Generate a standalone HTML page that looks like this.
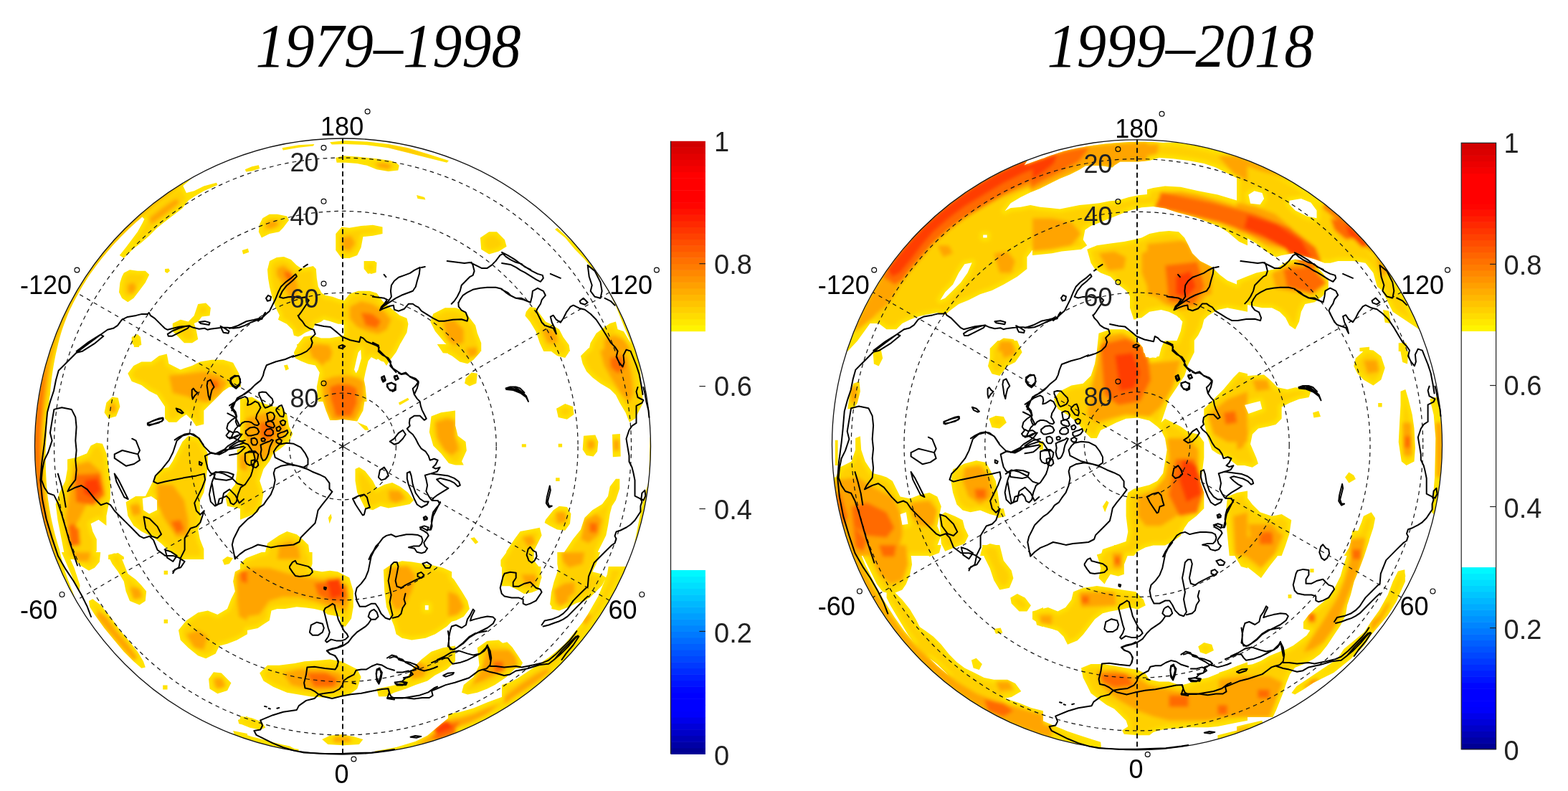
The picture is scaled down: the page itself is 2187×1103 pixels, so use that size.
<!DOCTYPE html><html><head><meta charset="utf-8"><style>html,body{margin:0;padding:0;background:#fff;}svg{display:block;}text{font-family:"Liberation Sans",Arial,sans-serif;}</style></head><body>
<svg width="2187" height="1103" viewBox="0 0 2187 1103">
<rect width="100%" height="100%" fill="#fff"/>
<text x="356.5" y="93" font-size="86" font-style="italic" textLength="370" lengthAdjust="spacingAndGlyphs" style="font-family:'Liberation Serif',serif">1979–1998</text>
<text x="1460.5" y="93" font-size="86" font-style="italic" textLength="372" lengthAdjust="spacingAndGlyphs" style="font-family:'Liberation Serif',serif">1999–2018</text>
<defs><filter id="bl" x="-5%" y="-5%" width="110%" height="110%"><feGaussianBlur stdDeviation="2.5"/></filter>
<clipPath id="clipL"><path d="M166.8,355.9 172.8,360.0 186.4,346.4 197.3,338.2 208.2,328.7 219.1,317.8 232.7,307.0 243.5,298.8 254.4,290.6 262.6,279.8 270.7,274.3 284.3,266.2 303.4,258.0 302.0,254.7 284.3,259.4 270.7,266.2 259.9,268.9 255.3,259.2 255.3,259.1 258.2,256.6 261.0,254.2 263.9,251.7 266.8,249.3 268.4,248.0 266.4,249.1 261.9,251.7 257.3,254.4 252.8,257.1 248.4,259.9 243.9,262.7 239.5,265.6 235.2,268.6 230.9,271.6 226.6,274.7 222.3,277.8 218.1,280.9 213.9,284.1 209.8,287.4 205.7,290.7 201.7,294.1 197.7,297.5 193.7,301.0 189.8,304.5 185.9,308.0 182.0,311.7 178.3,315.3 174.5,319.0 170.8,322.8 167.2,326.5 163.5,330.4 160.0,334.3 156.5,338.2 153.0,342.2 149.6,346.2 146.2,350.2 142.9,354.3 139.6,358.4 136.4,362.6 133.3,366.8 130.2,371.1 127.1,375.4 124.1,379.7 121.1,384.0 118.2,388.4 115.4,392.9 112.6,397.3 109.9,401.8 107.2,406.4 104.6,410.9 102.0,415.5 99.5,420.2 97.0,424.8 94.6,429.5 92.3,434.2 90.0,439.0 87.8,443.8 85.6,448.6 83.5,453.4 81.5,458.3 79.5,463.1 77.6,468.0 75.7,473.0 73.9,477.9 72.1,482.9 70.5,487.9 68.8,492.9 67.3,497.9 65.8,503.0 64.3,508.0 63.0,513.1 61.7,518.2 60.4,523.3 59.2,528.5 58.1,533.6 57.0,538.8 56.1,543.9 55.1,549.1 54.3,554.3 53.4,559.5 52.7,564.7 52.0,570.0 51.4,575.2 50.9,580.4 50.4,585.7 50.0,590.9 49.6,596.2 49.3,601.4 49.1,606.7 48.9,612.0 48.8,617.2 48.8,622.5 48.8,627.8 48.9,633.0 49.1,638.3 49.3,643.6 49.6,648.8 50.0,654.1 50.4,659.3 50.9,664.6 51.4,669.8 52.0,675.0 52.7,680.3 53.4,685.5 54.3,690.7 55.1,695.9 56.1,701.1 57.0,706.2 58.1,711.4 59.2,716.5 60.4,721.7 61.7,726.8 63.0,731.9 64.3,737.0 65.8,742.0 67.3,747.1 68.8,752.1 70.5,757.1 72.1,762.1 73.9,767.1 75.7,772.0 77.6,777.0 79.5,781.9 81.5,786.7 83.5,791.6 85.6,796.4 87.8,801.2 90.0,806.0 92.3,810.8 94.6,815.5 97.0,820.2 99.5,824.8 102.0,829.5 104.6,834.1 105.2,835.1 104.6,833.7 103.2,830.2 101.9,826.7 100.5,823.2 99.1,819.7 97.8,816.2 96.4,812.7 95.1,809.2 93.8,805.7 92.6,802.2 91.4,798.7 90.2,795.2 89.2,791.6 88.2,788.0 87.2,784.4 86.3,780.8 85.4,777.2 84.5,773.6 83.7,769.9 82.9,766.3 81.8,762.8 80.7,759.3 79.7,755.8 78.7,752.3 77.7,748.7 76.7,745.2 75.8,741.6 74.9,738.1 74.1,734.5 73.3,730.9 72.5,727.4 71.7,723.8 71.0,720.2 70.3,716.6 69.7,713.0 69.0,709.4 68.4,705.8 67.9,702.2 67.3,698.6 66.8,695.0 66.4,691.4 66.0,687.7 65.7,684.1 65.4,680.5 65.1,676.9 64.8,673.2 64.6,669.6 64.4,666.0 64.2,662.3 64.1,658.7 63.9,655.1 63.8,651.5 63.7,647.8 63.6,644.2 63.6,640.6 63.6,637.0 63.6,633.4 63.7,629.7 63.8,626.1 63.9,622.5 64.1,618.9 64.3,615.3 64.5,611.7 64.8,608.1 64.8,604.5 64.9,600.9 65.1,597.2 65.3,593.6 65.5,590.0 65.7,586.4 66.0,582.8 66.3,579.2 66.6,575.6 67.0,572.0 67.4,568.4 67.8,564.8 68.2,561.3 68.7,557.7 69.2,554.1 69.8,550.5 70.1,546.9 70.4,543.3 70.7,539.6 71.1,536.0 71.5,532.4 71.9,528.8 72.4,525.1 72.9,521.5 73.4,517.9 74.0,514.2 74.6,510.6 75.2,507.0 75.9,503.4 76.6,499.8 77.3,496.2 78.1,492.6 78.9,489.0 79.7,485.4 80.6,481.8 81.4,478.2 82.4,474.6 83.3,471.0 84.3,467.4 85.3,463.9 86.5,460.3 87.7,456.8 88.9,453.3 90.2,449.8 91.5,446.4 92.8,442.9 94.2,439.4 95.6,436.0 97.1,432.6 98.8,429.3 100.4,425.9 102.1,422.6 103.8,419.3 105.5,416.0 107.3,412.8 109.1,409.5 110.9,406.3 112.7,403.0 114.6,399.8 116.5,396.6 118.5,393.4 120.4,390.3 122.4,387.1 124.4,384.0 126.5,381.0 128.7,377.9 130.9,374.9 133.1,371.9 135.3,368.9 137.6,366.0 139.9,363.0 142.2,360.1 144.5,357.2 146.9,354.4 149.3,351.5 151.7,348.7 154.1,345.9 156.6,343.1 159.1,340.3 161.6,337.6 164.2,334.9 166.7,332.2 169.3,329.6 171.9,326.9 174.6,324.3 177.2,321.7 179.9,319.1 182.6,316.6 185.3,314.1 188.1,311.6 190.8,309.1 193.6,306.7 196.4,304.2 198.3,302.5 201.4,305.6 198.7,311.0 191.9,323.3 183.7,334.2 175.6,345.0ZM237.0,377.7 235.4,374.4 230.0,375.0 230.0,379.0 233.2,380.9ZM202.8,394.0 208.2,383.1 202.8,377.7 191.9,377.7 181.0,376.3 172.8,380.4 170.1,385.8 167.4,394.0 166.0,407.6 170.1,415.7 178.3,421.2 186.4,415.7 194.6,404.9ZM268.0,478.3 276.2,472.9 273.5,459.3 270.7,451.1 276.2,448.4 281.6,441.6 292.5,440.2 293.9,429.3 287.1,422.5 276.2,423.9 273.5,432.1 270.7,440.2 262.6,448.4 251.7,445.7 240.8,451.1 240.8,462.0 249.0,470.1 257.1,478.3ZM187.0,484.1 194.0,484.1 194.3,482.0 197.3,481.0 196.0,470.1 191.9,466.1 183.7,470.1 183.7,478.3 186.6,481.2ZM251.7,583.4 259.9,577.9 268.0,586.1 273.5,594.2 284.3,591.5 284.3,572.5 289.8,567.0 300.7,556.2 311.5,545.3 319.7,539.8 336.0,539.8 333.3,520.8 325.1,505.8 311.5,501.8 295.2,501.8 278.9,504.5 268.0,509.9 251.7,515.4 235.4,507.2 232.7,493.6 221.8,496.3 210.9,504.5 197.3,504.5 186.4,509.9 178.3,520.8 183.7,531.7 197.3,537.1 208.2,545.3 219.1,550.7 230.0,567.0 230.0,583.4 235.4,588.8 246.3,588.8ZM145.6,575.2 151.1,583.4 162.0,580.6 167.4,567.0 164.7,554.8 156.5,553.4 148.4,561.6ZM284.3,765.6 278.9,752.0 276.2,738.4 281.6,724.8 278.9,713.9 278.9,697.6 284.3,686.7 287.1,670.4 289.8,648.6 289.8,632.3 284.3,621.4 278.9,610.6 262.6,607.8 254.4,616.0 246.3,632.3 240.8,643.2 235.4,651.4 224.5,654.1 219.1,659.5 213.6,670.4 208.2,681.3 202.8,692.1 189.2,692.1 175.6,700.3 178.3,719.3 186.4,732.9 197.3,741.1 213.6,749.3 224.5,757.4 235.4,768.3 251.7,780.0 284.3,780.0ZM198.7,694.9 210.9,692.1 219.1,697.6 219.1,711.2 208.2,716.6 200.0,711.2ZM103.5,810.8 110.3,825.8 111.6,816.2 103.5,791.8 98.3,780.0 103.1,780.0 104.8,780.9 113.0,789.0 123.9,795.8 132.0,791.8 138.8,783.6 140.2,770.0 133.6,770.0 134.8,768.3 134.8,752.0 129.3,741.1 126.6,730.2 137.5,724.8 148.4,732.9 148.4,719.3 151.1,705.7 153.8,694.9 153.8,670.4 151.1,648.6 148.4,632.3 142.9,618.7 134.8,617.4 126.6,621.4 121.2,632.3 107.6,637.8 94.0,640.5 94.0,654.1 91.2,670.4 83.1,686.7 77.6,703.0 80.4,724.8 85.8,752.0 89.3,770.0 85.8,770.0ZM161.3,771.7 159.2,771.4 156.7,772.6 151.1,773.7 151.1,775.4 151.1,780.0 153.4,780.0 156.5,786.3 164.7,797.2 172.8,810.8 175.6,824.4 181.0,838.0 194.6,843.4 202.8,838.0 204.1,824.4 197.3,816.2 189.2,808.1 178.3,799.9 172.8,786.3 170.3,780.0 172.8,780.0 172.8,776.5 167.5,772.9 167.4,772.7 167.2,772.7 164.7,771.0ZM325.1,778.2 317.0,776.0 310.2,780.9 312.9,787.7 319.7,786.3ZM228.6,795.8 228.6,801.3 234.0,801.3 234.0,795.8ZM345.0,884.2 345.0,878.8 345.9,878.8 359.5,876.1 367.6,870.6 375.8,865.2 378.5,851.6 386.7,848.9 397.6,848.9 413.9,846.2 427.5,847.5 438.4,848.9 449.2,851.6 457.4,857.0 473.7,859.8 476.4,873.4 481.9,873.4 490.0,862.5 492.8,846.2 492.8,824.4 487.3,805.4 471.0,797.2 460.1,795.8 449.2,797.2 432.9,794.5 435.6,786.3 435.6,770.0 431.5,770.0 430.2,760.1 422.0,752.0 413.9,745.2 400.3,741.1 389.4,746.5 373.1,757.4 370.4,768.3 370.0,770.0 364.9,770.0 343.2,778.2 335.0,786.3 335.0,793.6 327.9,797.2 325.1,810.8 327.9,824.4 322.4,835.3 317.0,848.9 303.4,857.0 289.8,851.6 276.2,854.3 259.9,865.2 249.0,878.8 251.7,892.4 262.6,903.3 276.2,914.2 287.1,918.2 300.7,911.4 306.1,900.6 317.0,897.8 330.6,892.4ZM228.6,863.8 228.6,869.3 234.0,869.3 234.0,863.8ZM200.0,922.3 191.9,908.7 181.0,895.1 167.4,878.8 153.8,859.8 140.2,843.4 129.3,835.3 123.9,838.0 125.2,846.2 132.0,857.0 145.6,876.1 159.2,892.4 172.8,908.7 186.4,922.3 197.3,931.8 202.8,930.5ZM303.4,967.2 317.0,963.1 322.4,952.2 308.8,938.6 297.9,937.3 291.1,946.8 292.5,960.4ZM227.2,955.5 227.2,961.5 233.5,961.5 233.5,955.5ZM416.6,205.8 437.0,203.6 438.4,200.9 416.6,202.2 393.5,206.3 394.8,209.6ZM351.3,238.4 362.2,234.9 360.8,230.3 351.3,232.2 341.8,236.2 343.2,239.5ZM386.7,298.8 375.8,298.8 366.3,304.2 362.2,312.4 360.8,323.3 364.9,331.4 375.8,326.0 389.4,323.3 394.8,317.8 403.0,307.0 400.3,301.5ZM533.5,316.5 520.0,313.8 503.6,315.1 487.3,317.8 476.4,316.5 468.3,326.0 468.3,349.1 476.4,360.0 487.3,360.0 498.2,355.9 503.6,345.0 506.4,330.1 520.0,328.7 533.5,326.0ZM337.7,349.1 339.1,354.6 347.2,351.8 345.9,346.4ZM407.9,459.7 409.9,467.7 415.8,469.6 419.8,467.7 425.8,463.7 435.8,459.7 439.8,451.7 447.8,448.7 451.7,445.7 459.7,447.7 471.7,451.7 479.7,451.7 479.7,467.7 471.7,469.6 459.7,471.6 447.8,471.6 435.8,467.7 423.8,469.6 415.8,479.6 415.7,480.0 413.9,480.0 414.5,482.4 409.9,491.6 411.9,499.6 419.8,503.6 429.8,507.5 439.8,509.5 445.8,519.5 441.8,539.5 443.8,560.0 450.5,560.0 454.7,572.5 460.1,586.1 468.3,586.1 477.8,584.7 487.3,586.1 498.2,587.4 506.4,572.5 508.4,560.0 511.6,560.0 509.6,539.5 507.6,529.5 509.6,519.5 513.6,503.6 517.8,498.0 525.4,501.8 527.0,500.2 531.5,503.6 535.4,504.5 539.0,509.9 544.4,501.8 552.6,490.9 558.0,480.0 557.9,480.0 559.5,477.6 567.4,463.7 569.4,451.7 567.4,443.7 557.5,439.7 545.5,429.8 533.5,419.8 525.5,408.8 515.6,405.8 499.6,405.8 487.7,409.8 479.7,419.8 479.7,418.8 471.7,416.8 463.7,413.8 453.7,411.8 448.8,408.8 443.8,399.8 441.8,387.9 440.8,374.9 436.8,370.9 427.8,372.9 419.8,373.9 413.9,369.9 405.9,361.9 395.9,358.0 385.9,358.9 376.0,363.9 373.0,375.9 374.0,387.9 376.0,399.8 379.9,415.8 383.9,427.8 389.9,439.7 387.9,445.7 391.9,447.7 399.9,451.7ZM503.2,487.6 504.0,499.6 499.6,515.5 496.6,520.5 494.0,515.5 497.6,499.6 499.6,491.6ZM402.9,514.5 400.9,508.5 395.9,509.5 397.5,513.4 398.1,516.4 398.7,516.2 398.9,516.5ZM498.2,588.8 509.1,599.7 514.5,599.7 511.8,594.2ZM381.2,632.3 389.4,626.9 403.0,616.0 408.4,605.1 403.0,594.2 400.3,577.9 392.1,567.0 381.2,567.0 364.9,561.6 351.3,553.4 335.0,556.2 335.0,625.2 330.6,626.9 330.6,656.8 327.9,675.8 314.3,692.1 317.0,705.7 335.0,709.2 335.0,724.8 348.6,719.3 359.5,713.9 364.9,703.0 367.6,686.7 362.2,670.4 367.6,654.1 375.8,643.2ZM457.9,722.1 459.6,730.2 462.8,722.1 461.5,716.6ZM487.3,968.5 498.2,960.4 503.6,944.1 498.2,933.2 487.3,927.8 476.4,922.3 460.1,919.6 443.8,921.0 424.8,922.3 411.2,925.0 389.4,927.8 373.1,927.8 362.2,938.6 367.6,949.5 381.2,957.7 400.3,965.8 416.6,968.5 432.9,971.3 449.2,972.6 471.0,972.6ZM345.0,1000.1 345.0,998.5 342.1,999.7 335.0,998.5 335.0,1002.6 331.9,1003.9 333.3,1009.3 337.4,1010.3 348.6,1014.8 362.2,1017.5 370.4,1014.8 364.9,1006.6 351.3,1001.2ZM416.6,1047.0 416.6,1044.7 411.0,1044.1 407.7,1042.4 404.3,1040.6 400.7,1039.8 397.0,1039.0 393.4,1038.2 389.8,1037.3 386.2,1036.4 382.6,1035.5 379.1,1034.6 375.5,1033.6 371.9,1032.6 368.4,1031.6 364.8,1030.7 361.2,1029.8 357.6,1028.8 354.1,1027.9 350.5,1026.9 346.9,1025.8 345.0,1025.3 345.0,1022.9 325.1,1018.9 326.7,1022.9 324.6,1023.3 328.5,1024.8 333.4,1026.6 338.4,1028.4 343.4,1030.0 348.4,1031.7 353.4,1033.2 358.5,1034.7 363.5,1036.2 368.6,1037.5 373.7,1038.8 378.8,1040.1 384.0,1041.3 389.1,1042.4 394.3,1043.5 399.4,1044.4 404.6,1045.4 409.8,1046.2 415.0,1047.1 417.4,1047.4ZM457.4,1037.9 479.2,1039.3 500.9,1037.9 506.4,1031.1 492.8,1027.0 476.4,1024.3 460.1,1025.7 449.2,1031.1ZM626.0,224.0 596.1,214.5 568.9,206.3 541.7,200.9 511.8,197.6 481.9,196.0 460.1,198.2 462.8,201.4 481.9,200.9 511.8,202.2 541.7,206.3 568.9,213.1 596.1,219.9 623.3,226.7ZM556.7,230.8 552.6,226.7 544.4,224.0 525.4,221.3 498.2,218.6 479.2,217.2 468.3,219.9 469.6,226.7 481.9,226.7 498.2,228.1 511.8,230.8 525.4,236.2 541.7,239.0 555.3,237.6ZM582.5,277.0 593.4,278.4 592.0,274.9 581.1,272.1ZM520.0,364.1 519.6,363.9 507.6,363.9 507.6,373.9 507.7,374.0 507.7,375.0 513.2,381.7 516.4,381.3 517.6,381.9 524.6,379.9 525.3,370.1 525.4,369.5 525.3,369.3 525.5,365.9 523.2,365.1 522.7,364.1ZM635.0,429.3 620.6,429.3 604.3,437.5 600.2,448.4 607.0,462.0 620.6,478.3 622.7,480.0 609.7,480.0 617.9,492.2 625.0,492.8 625.0,493.6 630.4,496.3 641.3,504.5 652.2,507.2 660.4,501.8 669.9,490.9 670.0,490.0 671.2,490.0 671.2,480.0 671.2,478.3 665.8,464.7 663.1,453.8 654.9,442.9 649.5,434.8 635.9,429.3 635.0,429.8ZM664.4,534.4 665.8,520.8 657.6,519.4 649.5,527.6 648.1,534.4 654.9,538.5ZM557.5,564.9 570.5,557.5 568.9,554.8 555.9,561.6ZM635.0,648.6 635.0,648.2 635.9,648.6 646.8,648.6 644.0,643.2 650.8,628.2 649.5,616.0 638.6,607.8 635.0,593.4 635.0,572.5 615.1,575.2 601.5,580.6 598.8,602.4 604.3,621.4 615.1,632.3 626.0,645.9ZM571.6,703.0 577.1,697.6 568.9,686.7 558.0,678.5 547.1,673.1 536.3,675.8 525.4,681.3 520.0,670.4 509.1,656.8 500.9,651.4 495.5,654.1 495.5,670.4 498.2,686.7 503.6,697.6 509.1,708.5 520.0,711.2 530.8,705.7 541.7,708.5 558.0,705.7ZM656.3,750.6 663.1,758.8 667.2,756.1 661.7,749.3ZM617.9,791.8 607.0,789.0 590.7,786.3 574.3,783.6 560.7,782.2 547.1,786.3 534.9,794.5 536.3,824.4 539.0,846.2 544.4,859.8 549.9,873.4 552.6,884.2 560.7,889.7 574.3,892.4 593.4,889.7 607.0,884.2 623.3,873.4 630.0,866.7 635.9,865.2 646.8,859.8 654.9,848.9 652.2,838.0 644.0,824.4 633.2,808.1 630.1,805.0 630.1,797.2ZM592.8,844.0 597.7,844.0 597.7,850.5 592.8,850.5ZM690.3,955.0 706.6,944.1 717.5,933.2 718.5,932.3 725.4,931.4 729.0,924.2 721.8,913.3 714.5,902.4 707.3,895.2 701.1,896.7 695.7,892.4 679.4,893.8 665.8,903.3 668.5,927.8 660.4,944.1 646.8,955.0 644.0,965.8 652.2,968.5 665.8,965.8 679.4,960.4ZM635.0,922.3 635.0,900.6 617.9,903.3 601.5,908.7 587.9,919.6 577.1,930.5 566.2,946.8 552.6,955.0 539.0,957.7 525.4,960.4 528.1,971.3 539.0,971.3 549.9,965.8 566.2,960.4 579.8,955.0 596.1,949.5 607.0,941.4 623.3,933.2ZM579.8,1033.8 552.6,1042.0 522.7,1047.4 523.4,1049.3 525.3,1049.1 530.5,1048.5 535.8,1047.8 541.0,1047.1 546.2,1046.2 551.4,1045.4 556.6,1044.4 561.7,1043.5 566.9,1042.4 572.0,1041.3 577.2,1040.1 582.3,1038.8 587.4,1037.5 592.5,1036.2 597.5,1034.7 602.6,1033.2 607.6,1031.7 612.6,1030.0 617.6,1028.4 622.6,1026.6 627.5,1024.8 632.5,1022.9 637.4,1021.0 642.2,1019.0 647.1,1017.0 651.9,1014.9 656.7,1012.7 661.5,1010.5 666.3,1008.2 671.0,1005.9 675.7,1003.5 680.3,1001.0 685.0,998.5 689.6,995.9 694.1,993.3 698.7,990.6 703.2,987.9 707.6,985.1 712.1,982.3 716.5,979.4 720.8,976.4 725.1,973.4 729.4,970.3 733.7,967.2 737.9,964.1 742.1,960.9 746.2,957.6 750.3,954.3 754.3,950.9 758.3,947.5 762.3,944.0 766.2,940.5 770.1,937.0 774.0,933.3 777.7,929.7 781.5,926.0 785.2,922.2 788.8,918.5 792.5,914.6 796.0,910.7 799.5,906.8 803.0,902.8 806.4,898.8 809.8,894.8 813.1,890.7 816.4,886.6 819.6,882.4 822.7,878.2 825.8,873.9 828.9,869.6 831.9,865.3 834.9,861.0 837.8,856.6 840.6,852.1 843.4,847.7 846.1,843.2 848.8,838.6 851.4,834.1 854.0,829.5 856.5,824.8 859.0,820.2 861.4,815.5 863.7,810.8 866.0,806.0 868.2,801.2 870.4,796.4 872.5,791.6 873.2,790.0 848.7,790.0 846.9,800.9 845.1,805.2 837.1,799.9 826.3,797.2 831.7,786.3 837.1,770.0 834.0,770.0 834.4,768.3 839.9,757.4 845.3,746.5 848.0,732.9 850.7,716.6 853.5,705.7 858.9,697.6 864.3,681.3 864.3,667.7 858.9,667.7 850.7,678.5 848.0,692.1 839.9,703.0 826.3,711.2 815.4,722.1 810.0,738.4 799.1,752.0 788.2,768.3 787.0,770.0 777.3,770.0 777.3,786.3 778.5,793.7 776.2,800.9 772.5,811.8 768.9,826.3 767.1,842.6 769.6,846.0 769.2,848.9 772.4,849.7 772.5,849.8 772.8,849.8 780.0,851.6 793.6,846.2 804.5,840.7 815.4,838.0 823.5,832.6 831.7,824.4 839.9,816.2 844.2,807.6 839.6,819.0 834.2,831.7 826.9,844.4 819.7,857.1 812.4,868.0 805.2,877.0 796.1,887.9 787.0,898.8 776.2,907.9 765.3,916.9 754.4,924.2 743.5,931.4 732.6,938.7 721.8,945.9 710.9,951.4 700.0,955.0 700.0,972.0 698.4,972.6 679.4,979.4 660.4,987.6 641.3,993.0 635.0,994.1 635.0,993.0 633.4,994.3 625.0,995.7 625.0,1001.5 612.4,1012.1 596.1,1025.7ZM669.9,331.4 671.2,347.8 682.1,354.6 695.7,350.5 706.6,343.7 703.9,334.2 693.0,323.3 682.1,323.3ZM864.3,440.2 869.8,453.8 877.9,472.9 879.9,479.1 877.9,475.6 869.8,462.0 861.6,459.3 858.9,448.4 850.7,451.1 842.6,456.5 831.7,464.7 823.5,478.3 822.0,485.2 820.8,485.4 810.0,496.3 812.7,507.2 818.1,518.1 826.3,526.2 837.1,534.4 850.7,542.6 858.9,550.7 864.3,561.6 872.5,575.2 877.9,588.8 886.1,583.4 897.0,561.6 894.3,534.4 892.3,510.3 891.7,508.0 890.2,503.0 888.7,497.9 887.2,493.2 885.7,490.0 886.1,490.0 886.2,490.0 885.5,487.9 883.9,482.9 882.1,477.9 880.3,473.0 878.4,468.0 876.5,463.1 874.5,458.3 872.5,453.4 870.4,448.6 868.2,443.8 866.0,439.0 863.7,434.2 861.4,429.5 859.0,424.8 856.5,420.2 854.0,415.5 851.4,410.9 848.8,406.4 846.1,401.8 843.4,397.3 842.7,396.2 850.7,410.3 858.9,426.6ZM777.3,317.8 774.0,320.0 788.2,331.4 801.8,347.8 815.4,361.4 826.3,375.0 838.6,389.8 837.8,388.4 834.9,384.0 831.9,379.7 828.9,375.4 825.8,371.1 822.7,366.8 819.6,362.6 816.4,358.4 813.1,354.3 809.8,350.2 806.4,346.2 803.0,342.2 800.8,339.6ZM793.6,490.9 793.4,490.0 795.0,490.0 793.6,481.0 785.5,470.1 780.0,459.3 769.2,452.5 761.0,448.4 752.8,437.5 747.4,429.3 739.2,428.0 733.8,434.8 732.4,440.2 739.2,448.4 747.4,462.0 752.8,478.3 758.3,490.0 768.9,490.0 777.3,496.3 788.2,499.0ZM800.4,577.9 799.1,567.0 788.2,563.0 776.0,569.8 778.7,582.0 790.9,584.7ZM778.7,618.7 778.7,623.6 784.1,623.6 784.1,618.7ZM854.8,637.2 865.7,636.4 864.9,605.1 854.0,605.7ZM727.8,623.6 733.8,623.6 733.8,619.3 727.8,619.3ZM812.7,626.9 818.1,635.0 827.6,636.4 833.1,629.6 834.4,616.0 830.3,606.5 814.0,607.8ZM775.1,670.9 780.6,670.9 780.6,666.3 775.1,666.3ZM906.7,609.4 905.3,662.2 905.6,659.3 906.0,654.1 906.4,648.8 906.7,643.6 906.9,638.3 907.1,633.0 907.2,627.8 907.2,622.5 907.2,617.2 907.1,612.0 907.0,609.7ZM897.0,697.6 891.5,724.8 886.1,752.0 884.5,760.1 885.5,757.1 887.2,752.1 888.7,747.1 890.2,742.0 891.7,737.0 893.0,731.9 894.3,726.8 895.6,721.7 896.8,716.5 897.9,711.4 899.0,706.2 899.9,701.1 900.9,695.9 901.7,690.7 902.6,685.5 903.3,680.3 904.0,675.0 904.1,673.8ZM780.0,705.7 771.9,711.2 761.0,724.8 759.6,728.9 766.4,732.9 777.3,738.4 788.2,739.7 795.0,730.2 796.4,716.6 790.9,707.1ZM725.6,741.1 717.5,752.0 706.6,768.3 706.0,770.8 698.4,780.9 698.4,789.0 700.0,791.4 700.0,817.2 710.9,817.2 721.8,822.6 730.8,828.1 741.7,826.3 750.8,822.6 754.3,808.4 755.6,805.4 754.4,799.6 754.4,790.0 751.4,790.0 743.4,780.0 744.7,780.0 744.7,768.3 750.1,757.4 755.6,746.5 752.8,735.7 739.2,738.4Z"/></clipPath>
<clipPath id="clipR"><path d="M1236.6,459.3 1250.2,459.3 1258.4,451.1 1269.2,445.7 1280.1,441.6 1291.0,438.9 1307.3,436.1 1318.2,438.9 1326.4,432.1 1337.2,423.9 1350.8,418.5 1367.1,410.3 1383.5,404.9 1399.8,396.7 1418.8,385.8 1432.4,375.0 1432.4,358.6 1440.0,348.5 1440.0,355.9 1467.2,353.2 1480.8,350.5 1508.0,347.8 1516.2,342.3 1510.7,334.2 1513.4,320.6 1521.6,315.1 1535.2,309.7 1548.8,304.2 1562.4,298.8 1576.0,293.4 1592.3,289.3 1608.6,287.9 1625.0,290.6 1641.3,296.1 1657.6,300.2 1671.2,304.2 1684.8,309.7 1698.4,315.1 1712.0,323.3 1728.3,336.9 1740.0,342.3 1740.0,332.3 1752.2,339.6 1765.8,350.5 1779.4,358.6 1787.6,355.9 1803.9,353.2 1814.8,355.9 1833.8,361.4 1847.4,366.8 1855.6,366.8 1866.4,364.1 1888.2,364.1 1904.5,366.8 1915.4,380.4 1920.8,399.4 1927.6,404.9 1942.6,434.8 1979.7,459.6 1978.8,457.6 1976.8,452.8 1974.7,448.0 1972.6,443.2 1970.4,438.5 1968.1,433.8 1965.8,429.1 1963.4,424.5 1961.0,419.9 1958.5,415.3 1956.0,410.7 1953.4,406.2 1950.7,401.7 1948.0,397.2 1945.2,392.8 1942.4,388.4 1939.5,384.1 1936.6,379.8 1933.6,375.5 1930.6,371.2 1927.5,367.0 1924.4,362.8 1921.2,358.7 1918.0,354.6 1914.7,350.6 1911.3,346.5 1908.0,342.6 1904.5,338.6 1901.1,334.8 1897.5,330.9 1893.9,327.1 1890.3,323.4 1886.7,319.6 1882.9,316.0 1879.2,312.4 1875.4,308.8 1871.5,305.2 1867.7,301.8 1863.7,298.3 1859.8,295.0 1855.7,291.6 1851.7,288.3 1847.6,285.1 1843.5,281.9 1839.3,278.8 1835.1,275.7 1830.8,272.7 1826.5,269.7 1822.2,266.8 1817.9,263.9 1813.5,261.1 1809.1,258.3 1804.6,255.6 1800.1,252.9 1795.6,250.3 1791.0,247.8 1786.4,245.3 1781.8,242.9 1777.2,240.5 1772.5,238.2 1767.8,235.9 1763.1,233.7 1758.3,231.6 1753.5,229.5 1748.7,227.5 1743.9,225.5 1739.0,223.6 1734.1,221.7 1729.2,220.0 1724.3,218.2 1719.4,216.6 1714.4,215.0 1709.4,213.4 1704.4,211.9 1699.4,210.5 1694.4,209.1 1689.3,207.8 1684.2,206.6 1679.2,205.4 1674.1,204.3 1669.0,203.3 1663.8,202.3 1658.7,201.4 1653.5,200.5 1648.4,199.7 1643.2,199.0 1642.5,198.9 1641.5,198.9 1637.8,198.8 1634.0,198.8 1630.3,198.8 1626.6,198.8 1622.9,198.9 1619.2,198.7 1615.5,198.4 1611.8,198.2 1608.1,198.1 1604.4,198.0 1600.8,197.9 1597.1,197.8 1593.4,197.8 1589.7,197.8 1586.0,197.8 1582.3,197.9 1578.6,198.0 1574.9,198.1 1571.3,198.3 1567.6,198.5 1563.9,198.7 1560.2,198.9 1556.6,199.2 1552.9,199.6 1549.2,199.9 1545.6,200.2 1541.9,200.6 1538.2,201.0 1534.6,201.4 1530.9,201.9 1527.3,202.4 1523.6,202.9 1520.0,203.5 1516.3,204.1 1512.7,204.7 1509.1,205.4 1505.5,206.1 1501.9,206.8 1498.3,207.5 1494.7,208.3 1491.1,209.1 1487.5,210.0 1483.9,210.8 1480.4,211.9 1476.9,213.0 1473.4,214.2 1469.9,215.4 1466.4,216.6 1462.9,217.8 1459.5,219.1 1456.1,220.4 1452.6,221.5 1449.1,222.7 1445.6,223.9 1442.2,225.2 1438.7,226.4 1435.3,227.7 1431.9,229.1 1428.5,230.4 1431.0,226.7 1433.2,223.5 1433.0,223.6 1428.1,225.5 1423.3,227.5 1418.5,229.5 1413.7,231.6 1408.9,233.7 1404.2,235.9 1399.5,238.2 1394.8,240.5 1390.2,242.9 1385.6,245.3 1381.0,247.8 1376.4,250.3 1371.9,252.9 1367.4,255.6 1362.9,258.3 1358.5,261.1 1354.1,263.9 1349.8,266.8 1345.5,269.7 1341.2,272.7 1336.9,275.7 1332.7,278.8 1328.5,281.9 1324.4,285.1 1320.3,288.3 1316.3,291.6 1312.2,295.0 1308.3,298.3 1304.3,301.8 1300.5,305.2 1296.6,308.8 1292.8,312.4 1289.1,316.0 1285.3,319.6 1281.7,323.4 1278.1,327.1 1274.5,330.9 1270.9,334.8 1267.5,338.6 1264.0,342.6 1260.7,346.5 1257.3,350.6 1254.0,354.6 1250.8,358.7 1247.6,362.8 1244.5,367.0 1241.4,371.2 1238.4,375.5 1235.4,379.8 1232.5,384.1 1229.6,388.4 1226.8,392.8 1224.0,397.2 1221.3,401.7 1218.6,406.2 1216.0,410.7 1213.5,415.3 1211.0,419.9 1208.6,424.5 1206.2,429.1 1203.9,433.8 1201.6,438.5 1199.4,443.2 1197.3,448.0 1195.2,452.8 1193.2,457.6 1191.2,462.4 1189.3,467.3 1187.4,472.2 1185.7,477.1 1183.9,482.0 1182.3,486.9 1181.3,490.0 1182.2,490.0 1195.8,475.6 1213.5,451.1 1225.7,451.1ZM1646.7,260.7 1625.0,259.4 1608.6,262.1 1600.0,264.2 1600.0,270.9 1588.0,272.3 1574.3,275.0 1560.6,279.2 1546.9,280.5 1533.2,283.3 1519.5,284.7 1505.8,286.0 1492.0,288.8 1478.3,291.5 1464.6,290.1 1450.9,288.8 1437.2,286.0 1423.5,288.8 1409.7,290.1 1401.5,294.3 1409.7,283.3 1423.5,275.0 1437.2,268.2 1450.9,262.7 1464.6,255.8 1478.3,249.0 1492.0,243.5 1505.8,236.6 1514.0,231.2 1535.0,231.0 1551.6,233.4 1554.2,230.8 1562.4,225.4 1586.9,225.4 1603.2,224.0 1616.8,219.9 1635.8,221.3 1657.6,224.0 1679.3,228.1 1695.7,233.5 1712.0,241.7 1725.0,248.2 1725.0,279.6 1698.4,271.6 1671.2,266.2ZM1744.0,283.8 1741.3,271.6 1749.5,266.2 1760.4,268.9 1763.1,277.0 1757.6,285.2ZM1798.4,285.2 1798.4,279.8 1814.8,277.0 1828.4,282.5 1836.5,293.4 1836.5,304.2 1822.9,301.5 1806.6,293.4ZM1371.2,331.4 1371.2,327.4 1376.7,327.4 1376.7,331.4ZM1345.4,368.2 1355.7,366.2 1349.5,380.4 1340.0,394.0 1329.1,404.9 1318.2,415.7 1311.4,418.5 1318.2,407.6 1329.1,396.7 1337.2,380.4ZM1380.7,499.5 1378.0,510.4 1383.5,521.2 1394.3,524.0 1405.2,510.4 1416.1,504.9 1425.6,491.3 1418.8,475.0 1414.8,475.0 1413.4,472.9 1399.8,471.5 1394.2,475.0 1391.6,475.0 1380.7,485.9ZM1231.2,499.5 1228.4,485.9 1217.6,491.3 1218.9,507.6 1225.7,510.4ZM1190.4,570.2 1195.8,562.0 1199.9,545.7 1198.5,532.1 1190.4,534.8 1184.9,551.2 1182.2,570.2ZM1394.3,597.4 1403.9,589.2 1399.8,581.1 1388.9,579.7 1379.4,583.8 1383.5,596.0ZM1164.8,613.7 1164.8,649.1 1168.6,649.1 1168.6,613.7ZM1391.0,719.6 1391.6,722.5 1402.5,719.8 1399.8,708.9 1393.6,709.7 1394.3,706.2 1391.6,687.1 1388.9,670.8 1383.5,660.0 1375.3,645.0 1361.7,642.3 1345.4,646.4 1329.1,654.5 1326.4,670.8 1329.1,687.1 1334.5,703.5 1342.7,711.6 1353.5,714.3 1367.1,711.6 1380.7,717.1ZM1272.0,787.2 1270.7,775.0 1295.1,775.0 1296.4,776.3 1310.0,770.9 1312.8,760.0 1307.5,760.0 1312.1,748.6 1312.8,757.9 1318.2,768.7 1331.8,763.3 1345.4,757.9 1350.8,747.0 1345.4,736.1 1342.7,725.2 1331.8,719.8 1318.2,714.3 1310.0,719.8 1312.8,706.2 1307.3,692.6 1296.4,687.1 1282.8,689.9 1269.2,695.3 1255.6,692.6 1250.2,681.7 1244.8,670.8 1236.6,665.4 1228.4,662.7 1217.6,660.0 1206.7,643.6 1201.2,627.3 1199.9,608.3 1193.1,611.0 1193.1,627.3 1187.6,643.6 1171.3,651.8 1165.9,665.4 1163.2,665.4 1163.4,667.2 1164.0,672.3 1164.7,677.5 1165.4,682.7 1166.2,687.8 1167.1,693.0 1168.0,698.1 1169.0,703.3 1170.0,708.4 1171.1,713.5 1172.3,718.5 1173.5,723.6 1174.8,728.7 1176.2,733.7 1177.6,738.7 1179.1,743.7 1180.7,748.7 1182.3,753.7 1183.9,758.6 1185.7,763.5 1187.4,768.4 1189.3,773.3 1191.2,778.2 1193.2,783.0 1195.2,787.8 1197.3,792.6 1199.4,797.4 1201.6,802.1 1203.9,806.8 1206.2,811.5 1208.6,816.1 1211.0,820.7 1213.5,825.3 1216.0,829.9 1218.6,834.4 1221.3,838.9 1224.0,843.4 1226.8,847.8 1229.6,852.2 1232.5,856.5 1235.4,860.8 1238.4,865.1 1241.4,869.4 1244.5,873.6 1247.6,877.8 1250.8,881.9 1254.0,886.0 1257.3,890.0 1260.7,894.1 1264.0,898.0 1267.5,902.0 1270.9,905.8 1274.5,909.7 1278.1,913.5 1281.7,917.2 1285.3,921.0 1289.1,924.6 1292.8,928.2 1296.6,931.8 1300.5,935.4 1304.3,938.8 1308.3,942.3 1312.2,945.6 1316.3,949.0 1320.3,952.3 1324.4,955.5 1328.5,958.7 1332.7,961.8 1336.9,964.9 1341.2,967.9 1345.5,970.9 1349.8,973.8 1354.1,976.7 1358.5,979.5 1362.9,982.3 1367.4,985.0 1371.9,987.7 1376.4,990.3 1381.0,992.8 1385.6,995.3 1390.2,997.7 1394.8,1000.1 1399.5,1002.4 1404.2,1004.7 1408.9,1006.9 1413.7,1009.0 1418.5,1011.1 1423.3,1013.1 1428.1,1015.1 1433.0,1017.0 1437.9,1018.9 1442.8,1020.6 1447.7,1022.4 1452.6,1024.0 1457.6,1025.6 1462.6,1027.2 1467.6,1028.7 1472.6,1030.1 1477.6,1031.5 1482.7,1032.8 1487.8,1034.0 1492.8,1035.2 1497.9,1036.3 1503.0,1037.3 1508.2,1038.3 1513.3,1039.2 1518.5,1040.1 1523.6,1040.9 1528.8,1041.6 1534.0,1042.3 1536.0,1042.5 1535.2,1034.7 1521.6,1030.6 1505.3,1025.2 1489.0,1019.7 1472.6,1012.9 1456.3,1006.1 1455.0,1005.6 1455.0,991.2 1437.9,987.1 1421.5,980.3 1405.2,974.9 1401.6,973.7 1410.7,972.1 1424.3,964.0 1416.1,953.1 1405.2,947.7 1386.2,947.7 1372.6,945.0 1356.3,936.8 1345.4,931.4 1334.5,923.2 1323.6,912.3 1312.8,898.7 1301.9,887.8 1291.0,879.7 1282.8,874.2 1277.4,863.4 1269.2,849.8 1258.4,836.2 1248.6,826.4 1258.4,822.6 1263.8,814.4 1269.2,800.8ZM1311.8,744.6 1307.3,733.4 1310.0,719.8ZM1236.6,833.4 1242.0,844.3 1250.2,857.9 1258.4,871.5 1266.5,885.1 1274.7,896.0 1261.1,879.7 1247.5,860.6 1233.9,838.9 1220.3,814.4 1206.7,787.2 1201.8,775.0 1203.3,775.0 1212.1,792.6 1223.0,814.4 1231.2,825.3 1236.6,826.4ZM1323.6,942.2 1307.3,928.6 1296.4,917.8 1307.3,925.9 1318.2,936.8ZM1266.5,730.7 1258.4,732.0 1255.6,717.1 1263.8,714.3ZM1413.4,806.2 1410.7,795.4 1399.8,781.8 1394.3,760.0 1389.3,760.0 1380.7,757.9 1376.5,760.0 1369.9,760.0 1370.4,763.1 1369.9,763.3 1367.1,775.0 1372.4,775.0 1372.6,776.3 1380.7,792.6 1386.2,809.0 1394.3,822.6 1407.9,819.8ZM1409.3,833.4 1410.7,841.6 1421.5,852.5 1432.4,852.5 1437.9,844.3 1429.7,833.4 1418.8,828.0ZM1456.3,874.2 1467.2,877.0 1475.4,879.7 1483.5,887.8 1489.0,898.7 1502.6,893.3 1510.7,885.1 1518.9,874.2 1527.0,863.4 1537.9,855.2 1548.8,852.5 1565.1,849.8 1576.0,847.0 1586.9,849.8 1597.8,844.3 1595.0,836.2 1584.2,825.3 1565.1,822.6 1548.8,819.8 1529.8,817.1 1510.7,819.8 1497.1,825.3 1494.4,836.2 1486.2,847.0 1475.4,852.5 1461.8,847.0 1455.0,848.7 1455.0,847.0 1444.9,851.3 1440.0,852.5 1440.0,863.4 1445.0,866.7 1446.0,871.5 1455.0,874.2 1455.0,873.4ZM1386.2,877.0 1388.9,883.8 1398.4,882.4 1395.7,875.6ZM1369.9,925.9 1361.7,917.8 1354.9,920.5 1357.6,931.4 1365.8,934.1ZM1576.0,429.3 1581.4,445.7 1585.4,444.7 1585.4,443.6 1589.7,443.6 1592.3,442.9 1603.2,434.8 1619.5,432.1 1630.4,434.8 1641.3,440.2 1644.6,443.6 1646.1,443.6 1645.8,444.8 1649.4,448.4 1646.7,462.0 1641.5,475.0 1625.3,475.0 1623.5,476.3 1619.5,485.7 1619.5,485.9 1616.8,496.8 1613.2,497.5 1612.6,498.9 1607.6,498.6 1603.2,499.5 1602.0,498.2 1598.1,498.0 1596.7,493.0 1595.0,491.3 1593.9,484.6 1587.2,476.3 1586.4,472.9 1581.4,464.7 1567.8,459.3 1548.8,459.3 1532.5,464.7 1529.8,490.0 1530.0,490.0 1529.8,491.3 1527.0,507.6 1521.6,524.0 1510.7,534.8 1494.4,537.6 1478.1,545.7 1469.9,556.6 1475.4,570.2 1489.0,578.4 1502.6,589.2 1513.4,602.8 1521.6,611.0 1529.8,611.0 1535.2,600.1 1546.1,594.7 1557.0,589.2 1570.6,583.8 1586.9,582.4 1603.2,586.5 1614.1,594.7 1619.5,589.2 1625.0,572.9 1630.4,556.6 1641.3,540.3 1652.1,524.0 1657.6,507.6 1665.7,491.3 1665.7,475.0 1665.5,475.0 1671.2,467.4 1676.6,456.5 1679.3,445.7 1684.8,440.2 1698.4,432.1 1712.0,429.3 1740.0,434.8 1740.0,424.9 1746.8,426.6 1760.4,429.3 1774.0,429.3 1784.8,434.8 1793.0,442.9 1798.4,453.8 1806.6,459.3 1812.0,448.4 1814.8,434.8 1820.2,423.9 1833.8,421.2 1844.7,413.0 1852.8,402.1 1852.8,391.3 1844.7,380.4 1833.8,369.5 1820.2,364.1 1806.6,361.4 1795.7,364.1 1787.6,369.5 1779.4,375.0 1765.8,377.7 1752.2,380.4 1738.6,385.8 1725.0,391.3 1725.0,396.5 1712.0,391.3 1701.1,383.1 1690.2,372.2 1673.9,364.1 1663.0,353.2 1657.6,342.3 1652.1,331.4 1644.0,323.3 1630.4,321.9 1616.8,323.3 1603.2,326.0 1592.3,331.4 1581.4,334.2 1567.8,336.9 1548.8,339.6 1529.8,342.3 1516.2,347.8 1521.6,366.8 1527.0,375.0 1535.2,380.4 1548.8,385.8 1559.7,396.7 1570.6,404.9 1576.0,413.0ZM1746.8,651.8 1754.9,646.4 1752.2,638.2 1744.0,619.2 1746.8,605.6 1754.9,597.4 1768.5,594.7 1779.4,592.0 1787.6,583.8 1787.6,567.5 1798.4,562.0 1812.0,556.6 1825.6,553.9 1828.4,545.7 1820.2,541.6 1806.6,540.3 1795.7,543.0 1782.1,540.3 1771.2,529.4 1763.1,522.6 1741.3,524.0 1740.0,524.2 1740.0,521.2 1728.3,518.5 1720.1,526.7 1706.5,543.0 1692.9,556.6 1679.3,570.2 1679.3,589.2 1684.8,611.0 1690.2,627.3 1698.4,632.8 1712.0,638.2 1725.6,649.1 1735.9,649.1ZM1760.4,570.2 1741.3,577.0 1735.9,564.8 1757.6,559.3ZM1448.7,616.4 1450.1,627.3 1455.0,627.3 1455.0,615.1ZM1592.3,679.0 1581.4,681.7 1573.3,687.1 1570.6,698.0 1570.6,719.8 1573.3,741.5 1570.6,755.1 1556.0,760.0 1554.2,760.0 1553.7,760.8 1537.9,766.0 1536.3,771.4 1529.8,773.6 1532.5,781.8 1535.2,792.6 1532.5,806.2 1540.6,814.4 1543.4,809.0 1548.8,800.8 1559.7,803.5 1567.8,800.8 1567.8,787.2 1572.7,775.0 1581.4,775.0 1586.9,768.7 1597.8,763.3 1608.6,760.6 1625.0,760.6 1635.8,755.1 1646.7,747.0 1652.1,736.1 1657.6,727.9 1668.5,719.8 1679.3,708.9 1679.3,687.1 1673.9,670.8 1676.6,660.0 1679.3,638.2 1679.3,616.4 1671.2,605.6 1657.6,602.8 1646.7,594.7 1635.8,589.2 1625.0,583.8 1614.1,594.7 1619.5,600.1 1625.0,611.0 1627.7,627.3 1625.0,643.6 1622.2,660.0 1614.1,670.8 1603.2,676.3ZM1543.4,698.0 1537.9,706.2 1541.2,714.3 1546.6,700.7ZM1722.9,776.3 1731.0,789.9 1740.0,792.6 1740.0,790.9 1747.1,796.6 1758.9,806.0 1770.7,789.5 1780.1,777.7 1782.0,775.0 1787.6,775.0 1793.0,760.6 1798.4,744.3 1801.2,725.2 1787.6,717.1 1774.0,719.8 1757.6,714.3 1746.8,703.5 1740.0,694.5 1740.0,684.4 1725.6,687.1 1712.0,692.6 1709.3,719.8 1712.0,747.0 1714.7,775.0 1722.4,775.0ZM1682.1,912.3 1692.9,906.9 1690.2,898.7 1679.3,896.0 1671.2,901.4 1673.9,909.6ZM1570.6,1004.8 1573.3,1012.9 1565.1,1018.4 1567.8,1023.8 1586.9,1025.2 1603.2,1025.2 1608.6,1021.1 1616.8,1018.4 1630.4,1015.7 1644.0,1015.7 1657.6,1014.3 1671.2,1014.3 1684.8,1014.3 1698.4,1012.9 1712.0,1010.2 1725.6,1007.5 1740.0,1004.8 1740.0,1000.0 1775.4,1000.0 1780.1,989.9 1784.9,978.1 1789.6,966.3 1794.3,952.1 1799.0,940.4 1806.1,930.9 1817.9,926.2 1832.0,919.1 1841.4,912.1 1850.9,900.3 1860.3,886.1 1869.7,872.0 1876.8,857.9 1879.1,843.7 1883.9,829.6 1888.6,810.7 1895.6,794.2 1902.7,775.4 1909.8,754.1 1910.2,751.7 1915.4,736.1 1918.1,722.5 1912.7,714.3 1901.8,719.8 1899.1,727.9 1894.2,740.0 1886.2,740.0 1883.9,756.5 1881.8,763.6 1874.6,775.0 1878.5,775.0 1874.4,787.1 1869.7,803.6 1862.6,817.8 1855.6,829.6 1846.1,839.0 1834.4,848.4 1824.9,857.9 1817.9,867.3 1817.9,876.7 1827.3,879.1 1822.6,886.1 1813.1,893.2 1803.7,900.3 1794.3,905.0 1782.5,909.7 1770.7,914.4 1758.9,921.5 1747.1,926.2 1740.0,927.2 1740.0,923.2 1725.6,928.6 1712.9,933.7 1700.0,938.0 1700.0,938.9 1698.4,939.5 1684.8,945.0 1671.2,947.7 1657.6,953.1 1646.7,955.8 1630.4,950.4 1616.8,950.4 1603.2,947.7 1597.8,939.5 1586.9,934.1 1570.6,931.4 1554.2,928.6 1537.9,925.9 1521.6,925.9 1508.0,931.4 1510.7,945.0 1516.2,955.8 1521.6,966.7 1532.5,974.9 1543.4,983.0 1554.2,988.5 1562.4,996.6ZM1720.1,1019.7 1698.4,1025.2 1698.4,1030.4 1699.4,1030.1 1704.4,1028.7 1709.4,1027.2 1714.4,1025.6 1719.4,1024.0 1724.3,1022.4 1729.2,1020.6 1734.1,1018.9 1739.0,1017.0 1743.9,1015.1 1748.7,1013.1 1753.5,1011.1 1758.3,1009.0 1761.0,1007.8 1760.4,1004.8 1741.3,1008.9 1725.0,1012.9 1725.0,1018.7ZM1929.0,432.1 1931.7,449.7 1939.9,451.1 1937.1,433.4ZM1950.7,478.3 1950.7,490.0 1953.4,490.0 1956.2,504.9 1963.0,507.6 1964.3,491.3 1961.6,485.9 1961.6,478.3ZM1926.3,529.4 1931.7,513.1 1926.3,496.8 1915.4,488.6 1910.0,487.9 1910.0,483.7 1896.4,485.1 1896.4,490.0 1901.4,490.0 1890.9,499.5 1888.2,510.4 1893.6,521.2 1901.8,529.4 1915.4,537.6ZM1922.2,562.0 1922.2,567.5 1927.6,567.5 1927.6,562.0ZM1831.1,575.6 1832.4,582.4 1842.0,581.1 1839.2,572.9ZM1972.5,597.4 1969.8,578.4 1964.3,556.6 1960.3,543.0 1953.5,545.7 1953.5,564.8 1952.1,589.2 1950.7,616.4 1954.8,643.6 1961.6,649.1 1972.5,643.6 1973.9,624.6ZM1999.7,553.9 1994.3,556.6 1999.7,578.4 2002.4,611.0 2001.1,665.4 1997.0,714.3 1999.7,717.1 2000.0,717.1 2000.9,713.5 2002.0,708.4 2003.0,703.3 2004.0,698.1 2004.9,693.0 2005.8,687.8 2006.6,682.7 2007.3,677.5 2008.0,672.3 2008.6,667.2 2009.2,662.0 2009.6,656.8 2010.0,651.6 2010.4,646.4 2010.7,641.2 2010.9,636.0 2011.1,630.7 2011.2,625.5 2011.2,620.3 2011.2,615.1 2011.1,609.9 2010.9,604.6 2010.7,599.4 2010.4,594.2 2010.0,589.0 2009.6,583.8 2009.2,578.6 2008.6,573.4 2008.0,568.3 2007.3,563.1 2006.6,557.9 2006.1,554.6ZM1888.2,662.7 1881.4,658.6 1876.0,665.4 1881.4,673.5 1890.9,668.1ZM1827.3,793.0 1827.3,798.2 1832.5,798.2 1832.5,793.0ZM1923.9,850.8 1912.1,867.3 1902.7,881.4 1888.6,893.2 1874.4,905.0 1865.0,919.1 1850.9,928.6 1836.7,938.0 1822.6,947.4 1808.4,956.9 1801.4,966.3 1806.1,968.6 1817.9,961.6 1832.0,952.1 1846.1,945.1 1860.3,938.0 1872.1,928.6 1883.9,919.1 1893.3,909.7 1902.7,900.3 1912.1,886.1 1923.9,872.0 1935.7,857.9 1947.5,839.0 1960.0,810.7 1959.8,804.9 1960.3,803.5 1959.5,798.9 1959.3,794.2 1949.9,796.6 1942.8,810.7 1935.7,829.6ZM1796.6,829.1 1796.6,834.3 1801.4,834.3 1801.4,829.1Z"/></clipPath>
</defs>
<path d="M166.8,355.9 172.8,360.0 186.4,346.4 197.3,338.2 208.2,328.7 219.1,317.8 232.7,307.0 243.5,298.8 254.4,290.6 262.6,279.8 270.7,274.3 284.3,266.2 303.4,258.0 302.0,254.7 284.3,259.4 270.7,266.2 259.9,268.9 255.3,259.2 255.3,259.1 258.2,256.6 261.0,254.2 263.9,251.7 266.8,249.3 268.4,248.0 266.4,249.1 261.9,251.7 257.3,254.4 252.8,257.1 248.4,259.9 243.9,262.7 239.5,265.6 235.2,268.6 230.9,271.6 226.6,274.7 222.3,277.8 218.1,280.9 213.9,284.1 209.8,287.4 205.7,290.7 201.7,294.1 197.7,297.5 193.7,301.0 189.8,304.5 185.9,308.0 182.0,311.7 178.3,315.3 174.5,319.0 170.8,322.8 167.2,326.5 163.5,330.4 160.0,334.3 156.5,338.2 153.0,342.2 149.6,346.2 146.2,350.2 142.9,354.3 139.6,358.4 136.4,362.6 133.3,366.8 130.2,371.1 127.1,375.4 124.1,379.7 121.1,384.0 118.2,388.4 115.4,392.9 112.6,397.3 109.9,401.8 107.2,406.4 104.6,410.9 102.0,415.5 99.5,420.2 97.0,424.8 94.6,429.5 92.3,434.2 90.0,439.0 87.8,443.8 85.6,448.6 83.5,453.4 81.5,458.3 79.5,463.1 77.6,468.0 75.7,473.0 73.9,477.9 72.1,482.9 70.5,487.9 68.8,492.9 67.3,497.9 65.8,503.0 64.3,508.0 63.0,513.1 61.7,518.2 60.4,523.3 59.2,528.5 58.1,533.6 57.0,538.8 56.1,543.9 55.1,549.1 54.3,554.3 53.4,559.5 52.7,564.7 52.0,570.0 51.4,575.2 50.9,580.4 50.4,585.7 50.0,590.9 49.6,596.2 49.3,601.4 49.1,606.7 48.9,612.0 48.8,617.2 48.8,622.5 48.8,627.8 48.9,633.0 49.1,638.3 49.3,643.6 49.6,648.8 50.0,654.1 50.4,659.3 50.9,664.6 51.4,669.8 52.0,675.0 52.7,680.3 53.4,685.5 54.3,690.7 55.1,695.9 56.1,701.1 57.0,706.2 58.1,711.4 59.2,716.5 60.4,721.7 61.7,726.8 63.0,731.9 64.3,737.0 65.8,742.0 67.3,747.1 68.8,752.1 70.5,757.1 72.1,762.1 73.9,767.1 75.7,772.0 77.6,777.0 79.5,781.9 81.5,786.7 83.5,791.6 85.6,796.4 87.8,801.2 90.0,806.0 92.3,810.8 94.6,815.5 97.0,820.2 99.5,824.8 102.0,829.5 104.6,834.1 105.2,835.1 104.6,833.7 103.2,830.2 101.9,826.7 100.5,823.2 99.1,819.7 97.8,816.2 96.4,812.7 95.1,809.2 93.8,805.7 92.6,802.2 91.4,798.7 90.2,795.2 89.2,791.6 88.2,788.0 87.2,784.4 86.3,780.8 85.4,777.2 84.5,773.6 83.7,769.9 82.9,766.3 81.8,762.8 80.7,759.3 79.7,755.8 78.7,752.3 77.7,748.7 76.7,745.2 75.8,741.6 74.9,738.1 74.1,734.5 73.3,730.9 72.5,727.4 71.7,723.8 71.0,720.2 70.3,716.6 69.7,713.0 69.0,709.4 68.4,705.8 67.9,702.2 67.3,698.6 66.8,695.0 66.4,691.4 66.0,687.7 65.7,684.1 65.4,680.5 65.1,676.9 64.8,673.2 64.6,669.6 64.4,666.0 64.2,662.3 64.1,658.7 63.9,655.1 63.8,651.5 63.7,647.8 63.6,644.2 63.6,640.6 63.6,637.0 63.6,633.4 63.7,629.7 63.8,626.1 63.9,622.5 64.1,618.9 64.3,615.3 64.5,611.7 64.8,608.1 64.8,604.5 64.9,600.9 65.1,597.2 65.3,593.6 65.5,590.0 65.7,586.4 66.0,582.8 66.3,579.2 66.6,575.6 67.0,572.0 67.4,568.4 67.8,564.8 68.2,561.3 68.7,557.7 69.2,554.1 69.8,550.5 70.1,546.9 70.4,543.3 70.7,539.6 71.1,536.0 71.5,532.4 71.9,528.8 72.4,525.1 72.9,521.5 73.4,517.9 74.0,514.2 74.6,510.6 75.2,507.0 75.9,503.4 76.6,499.8 77.3,496.2 78.1,492.6 78.9,489.0 79.7,485.4 80.6,481.8 81.4,478.2 82.4,474.6 83.3,471.0 84.3,467.4 85.3,463.9 86.5,460.3 87.7,456.8 88.9,453.3 90.2,449.8 91.5,446.4 92.8,442.9 94.2,439.4 95.6,436.0 97.1,432.6 98.8,429.3 100.4,425.9 102.1,422.6 103.8,419.3 105.5,416.0 107.3,412.8 109.1,409.5 110.9,406.3 112.7,403.0 114.6,399.8 116.5,396.6 118.5,393.4 120.4,390.3 122.4,387.1 124.4,384.0 126.5,381.0 128.7,377.9 130.9,374.9 133.1,371.9 135.3,368.9 137.6,366.0 139.9,363.0 142.2,360.1 144.5,357.2 146.9,354.4 149.3,351.5 151.7,348.7 154.1,345.9 156.6,343.1 159.1,340.3 161.6,337.6 164.2,334.9 166.7,332.2 169.3,329.6 171.9,326.9 174.6,324.3 177.2,321.7 179.9,319.1 182.6,316.6 185.3,314.1 188.1,311.6 190.8,309.1 193.6,306.7 196.4,304.2 198.3,302.5 201.4,305.6 198.7,311.0 191.9,323.3 183.7,334.2 175.6,345.0ZM237.0,377.7 235.4,374.4 230.0,375.0 230.0,379.0 233.2,380.9ZM202.8,394.0 208.2,383.1 202.8,377.7 191.9,377.7 181.0,376.3 172.8,380.4 170.1,385.8 167.4,394.0 166.0,407.6 170.1,415.7 178.3,421.2 186.4,415.7 194.6,404.9ZM268.0,478.3 276.2,472.9 273.5,459.3 270.7,451.1 276.2,448.4 281.6,441.6 292.5,440.2 293.9,429.3 287.1,422.5 276.2,423.9 273.5,432.1 270.7,440.2 262.6,448.4 251.7,445.7 240.8,451.1 240.8,462.0 249.0,470.1 257.1,478.3ZM187.0,484.1 194.0,484.1 194.3,482.0 197.3,481.0 196.0,470.1 191.9,466.1 183.7,470.1 183.7,478.3 186.6,481.2ZM251.7,583.4 259.9,577.9 268.0,586.1 273.5,594.2 284.3,591.5 284.3,572.5 289.8,567.0 300.7,556.2 311.5,545.3 319.7,539.8 336.0,539.8 333.3,520.8 325.1,505.8 311.5,501.8 295.2,501.8 278.9,504.5 268.0,509.9 251.7,515.4 235.4,507.2 232.7,493.6 221.8,496.3 210.9,504.5 197.3,504.5 186.4,509.9 178.3,520.8 183.7,531.7 197.3,537.1 208.2,545.3 219.1,550.7 230.0,567.0 230.0,583.4 235.4,588.8 246.3,588.8ZM145.6,575.2 151.1,583.4 162.0,580.6 167.4,567.0 164.7,554.8 156.5,553.4 148.4,561.6ZM284.3,765.6 278.9,752.0 276.2,738.4 281.6,724.8 278.9,713.9 278.9,697.6 284.3,686.7 287.1,670.4 289.8,648.6 289.8,632.3 284.3,621.4 278.9,610.6 262.6,607.8 254.4,616.0 246.3,632.3 240.8,643.2 235.4,651.4 224.5,654.1 219.1,659.5 213.6,670.4 208.2,681.3 202.8,692.1 189.2,692.1 175.6,700.3 178.3,719.3 186.4,732.9 197.3,741.1 213.6,749.3 224.5,757.4 235.4,768.3 251.7,780.0 284.3,780.0ZM198.7,694.9 210.9,692.1 219.1,697.6 219.1,711.2 208.2,716.6 200.0,711.2ZM103.5,810.8 110.3,825.8 111.6,816.2 103.5,791.8 98.3,780.0 103.1,780.0 104.8,780.9 113.0,789.0 123.9,795.8 132.0,791.8 138.8,783.6 140.2,770.0 133.6,770.0 134.8,768.3 134.8,752.0 129.3,741.1 126.6,730.2 137.5,724.8 148.4,732.9 148.4,719.3 151.1,705.7 153.8,694.9 153.8,670.4 151.1,648.6 148.4,632.3 142.9,618.7 134.8,617.4 126.6,621.4 121.2,632.3 107.6,637.8 94.0,640.5 94.0,654.1 91.2,670.4 83.1,686.7 77.6,703.0 80.4,724.8 85.8,752.0 89.3,770.0 85.8,770.0ZM161.3,771.7 159.2,771.4 156.7,772.6 151.1,773.7 151.1,775.4 151.1,780.0 153.4,780.0 156.5,786.3 164.7,797.2 172.8,810.8 175.6,824.4 181.0,838.0 194.6,843.4 202.8,838.0 204.1,824.4 197.3,816.2 189.2,808.1 178.3,799.9 172.8,786.3 170.3,780.0 172.8,780.0 172.8,776.5 167.5,772.9 167.4,772.7 167.2,772.7 164.7,771.0ZM325.1,778.2 317.0,776.0 310.2,780.9 312.9,787.7 319.7,786.3ZM228.6,795.8 228.6,801.3 234.0,801.3 234.0,795.8ZM345.0,884.2 345.0,878.8 345.9,878.8 359.5,876.1 367.6,870.6 375.8,865.2 378.5,851.6 386.7,848.9 397.6,848.9 413.9,846.2 427.5,847.5 438.4,848.9 449.2,851.6 457.4,857.0 473.7,859.8 476.4,873.4 481.9,873.4 490.0,862.5 492.8,846.2 492.8,824.4 487.3,805.4 471.0,797.2 460.1,795.8 449.2,797.2 432.9,794.5 435.6,786.3 435.6,770.0 431.5,770.0 430.2,760.1 422.0,752.0 413.9,745.2 400.3,741.1 389.4,746.5 373.1,757.4 370.4,768.3 370.0,770.0 364.9,770.0 343.2,778.2 335.0,786.3 335.0,793.6 327.9,797.2 325.1,810.8 327.9,824.4 322.4,835.3 317.0,848.9 303.4,857.0 289.8,851.6 276.2,854.3 259.9,865.2 249.0,878.8 251.7,892.4 262.6,903.3 276.2,914.2 287.1,918.2 300.7,911.4 306.1,900.6 317.0,897.8 330.6,892.4ZM228.6,863.8 228.6,869.3 234.0,869.3 234.0,863.8ZM200.0,922.3 191.9,908.7 181.0,895.1 167.4,878.8 153.8,859.8 140.2,843.4 129.3,835.3 123.9,838.0 125.2,846.2 132.0,857.0 145.6,876.1 159.2,892.4 172.8,908.7 186.4,922.3 197.3,931.8 202.8,930.5ZM303.4,967.2 317.0,963.1 322.4,952.2 308.8,938.6 297.9,937.3 291.1,946.8 292.5,960.4ZM227.2,955.5 227.2,961.5 233.5,961.5 233.5,955.5ZM416.6,205.8 437.0,203.6 438.4,200.9 416.6,202.2 393.5,206.3 394.8,209.6ZM351.3,238.4 362.2,234.9 360.8,230.3 351.3,232.2 341.8,236.2 343.2,239.5ZM386.7,298.8 375.8,298.8 366.3,304.2 362.2,312.4 360.8,323.3 364.9,331.4 375.8,326.0 389.4,323.3 394.8,317.8 403.0,307.0 400.3,301.5ZM533.5,316.5 520.0,313.8 503.6,315.1 487.3,317.8 476.4,316.5 468.3,326.0 468.3,349.1 476.4,360.0 487.3,360.0 498.2,355.9 503.6,345.0 506.4,330.1 520.0,328.7 533.5,326.0ZM337.7,349.1 339.1,354.6 347.2,351.8 345.9,346.4ZM407.9,459.7 409.9,467.7 415.8,469.6 419.8,467.7 425.8,463.7 435.8,459.7 439.8,451.7 447.8,448.7 451.7,445.7 459.7,447.7 471.7,451.7 479.7,451.7 479.7,467.7 471.7,469.6 459.7,471.6 447.8,471.6 435.8,467.7 423.8,469.6 415.8,479.6 415.7,480.0 413.9,480.0 414.5,482.4 409.9,491.6 411.9,499.6 419.8,503.6 429.8,507.5 439.8,509.5 445.8,519.5 441.8,539.5 443.8,560.0 450.5,560.0 454.7,572.5 460.1,586.1 468.3,586.1 477.8,584.7 487.3,586.1 498.2,587.4 506.4,572.5 508.4,560.0 511.6,560.0 509.6,539.5 507.6,529.5 509.6,519.5 513.6,503.6 517.8,498.0 525.4,501.8 527.0,500.2 531.5,503.6 535.4,504.5 539.0,509.9 544.4,501.8 552.6,490.9 558.0,480.0 557.9,480.0 559.5,477.6 567.4,463.7 569.4,451.7 567.4,443.7 557.5,439.7 545.5,429.8 533.5,419.8 525.5,408.8 515.6,405.8 499.6,405.8 487.7,409.8 479.7,419.8 479.7,418.8 471.7,416.8 463.7,413.8 453.7,411.8 448.8,408.8 443.8,399.8 441.8,387.9 440.8,374.9 436.8,370.9 427.8,372.9 419.8,373.9 413.9,369.9 405.9,361.9 395.9,358.0 385.9,358.9 376.0,363.9 373.0,375.9 374.0,387.9 376.0,399.8 379.9,415.8 383.9,427.8 389.9,439.7 387.9,445.7 391.9,447.7 399.9,451.7ZM503.2,487.6 504.0,499.6 499.6,515.5 496.6,520.5 494.0,515.5 497.6,499.6 499.6,491.6ZM402.9,514.5 400.9,508.5 395.9,509.5 397.5,513.4 398.1,516.4 398.7,516.2 398.9,516.5ZM498.2,588.8 509.1,599.7 514.5,599.7 511.8,594.2ZM381.2,632.3 389.4,626.9 403.0,616.0 408.4,605.1 403.0,594.2 400.3,577.9 392.1,567.0 381.2,567.0 364.9,561.6 351.3,553.4 335.0,556.2 335.0,625.2 330.6,626.9 330.6,656.8 327.9,675.8 314.3,692.1 317.0,705.7 335.0,709.2 335.0,724.8 348.6,719.3 359.5,713.9 364.9,703.0 367.6,686.7 362.2,670.4 367.6,654.1 375.8,643.2ZM457.9,722.1 459.6,730.2 462.8,722.1 461.5,716.6ZM487.3,968.5 498.2,960.4 503.6,944.1 498.2,933.2 487.3,927.8 476.4,922.3 460.1,919.6 443.8,921.0 424.8,922.3 411.2,925.0 389.4,927.8 373.1,927.8 362.2,938.6 367.6,949.5 381.2,957.7 400.3,965.8 416.6,968.5 432.9,971.3 449.2,972.6 471.0,972.6ZM345.0,1000.1 345.0,998.5 342.1,999.7 335.0,998.5 335.0,1002.6 331.9,1003.9 333.3,1009.3 337.4,1010.3 348.6,1014.8 362.2,1017.5 370.4,1014.8 364.9,1006.6 351.3,1001.2ZM416.6,1047.0 416.6,1044.7 411.0,1044.1 407.7,1042.4 404.3,1040.6 400.7,1039.8 397.0,1039.0 393.4,1038.2 389.8,1037.3 386.2,1036.4 382.6,1035.5 379.1,1034.6 375.5,1033.6 371.9,1032.6 368.4,1031.6 364.8,1030.7 361.2,1029.8 357.6,1028.8 354.1,1027.9 350.5,1026.9 346.9,1025.8 345.0,1025.3 345.0,1022.9 325.1,1018.9 326.7,1022.9 324.6,1023.3 328.5,1024.8 333.4,1026.6 338.4,1028.4 343.4,1030.0 348.4,1031.7 353.4,1033.2 358.5,1034.7 363.5,1036.2 368.6,1037.5 373.7,1038.8 378.8,1040.1 384.0,1041.3 389.1,1042.4 394.3,1043.5 399.4,1044.4 404.6,1045.4 409.8,1046.2 415.0,1047.1 417.4,1047.4ZM457.4,1037.9 479.2,1039.3 500.9,1037.9 506.4,1031.1 492.8,1027.0 476.4,1024.3 460.1,1025.7 449.2,1031.1ZM626.0,224.0 596.1,214.5 568.9,206.3 541.7,200.9 511.8,197.6 481.9,196.0 460.1,198.2 462.8,201.4 481.9,200.9 511.8,202.2 541.7,206.3 568.9,213.1 596.1,219.9 623.3,226.7ZM556.7,230.8 552.6,226.7 544.4,224.0 525.4,221.3 498.2,218.6 479.2,217.2 468.3,219.9 469.6,226.7 481.9,226.7 498.2,228.1 511.8,230.8 525.4,236.2 541.7,239.0 555.3,237.6ZM582.5,277.0 593.4,278.4 592.0,274.9 581.1,272.1ZM520.0,364.1 519.6,363.9 507.6,363.9 507.6,373.9 507.7,374.0 507.7,375.0 513.2,381.7 516.4,381.3 517.6,381.9 524.6,379.9 525.3,370.1 525.4,369.5 525.3,369.3 525.5,365.9 523.2,365.1 522.7,364.1ZM635.0,429.3 620.6,429.3 604.3,437.5 600.2,448.4 607.0,462.0 620.6,478.3 622.7,480.0 609.7,480.0 617.9,492.2 625.0,492.8 625.0,493.6 630.4,496.3 641.3,504.5 652.2,507.2 660.4,501.8 669.9,490.9 670.0,490.0 671.2,490.0 671.2,480.0 671.2,478.3 665.8,464.7 663.1,453.8 654.9,442.9 649.5,434.8 635.9,429.3 635.0,429.8ZM664.4,534.4 665.8,520.8 657.6,519.4 649.5,527.6 648.1,534.4 654.9,538.5ZM557.5,564.9 570.5,557.5 568.9,554.8 555.9,561.6ZM635.0,648.6 635.0,648.2 635.9,648.6 646.8,648.6 644.0,643.2 650.8,628.2 649.5,616.0 638.6,607.8 635.0,593.4 635.0,572.5 615.1,575.2 601.5,580.6 598.8,602.4 604.3,621.4 615.1,632.3 626.0,645.9ZM571.6,703.0 577.1,697.6 568.9,686.7 558.0,678.5 547.1,673.1 536.3,675.8 525.4,681.3 520.0,670.4 509.1,656.8 500.9,651.4 495.5,654.1 495.5,670.4 498.2,686.7 503.6,697.6 509.1,708.5 520.0,711.2 530.8,705.7 541.7,708.5 558.0,705.7ZM656.3,750.6 663.1,758.8 667.2,756.1 661.7,749.3ZM617.9,791.8 607.0,789.0 590.7,786.3 574.3,783.6 560.7,782.2 547.1,786.3 534.9,794.5 536.3,824.4 539.0,846.2 544.4,859.8 549.9,873.4 552.6,884.2 560.7,889.7 574.3,892.4 593.4,889.7 607.0,884.2 623.3,873.4 630.0,866.7 635.9,865.2 646.8,859.8 654.9,848.9 652.2,838.0 644.0,824.4 633.2,808.1 630.1,805.0 630.1,797.2ZM592.8,844.0 597.7,844.0 597.7,850.5 592.8,850.5ZM690.3,955.0 706.6,944.1 717.5,933.2 718.5,932.3 725.4,931.4 729.0,924.2 721.8,913.3 714.5,902.4 707.3,895.2 701.1,896.7 695.7,892.4 679.4,893.8 665.8,903.3 668.5,927.8 660.4,944.1 646.8,955.0 644.0,965.8 652.2,968.5 665.8,965.8 679.4,960.4ZM635.0,922.3 635.0,900.6 617.9,903.3 601.5,908.7 587.9,919.6 577.1,930.5 566.2,946.8 552.6,955.0 539.0,957.7 525.4,960.4 528.1,971.3 539.0,971.3 549.9,965.8 566.2,960.4 579.8,955.0 596.1,949.5 607.0,941.4 623.3,933.2ZM579.8,1033.8 552.6,1042.0 522.7,1047.4 523.4,1049.3 525.3,1049.1 530.5,1048.5 535.8,1047.8 541.0,1047.1 546.2,1046.2 551.4,1045.4 556.6,1044.4 561.7,1043.5 566.9,1042.4 572.0,1041.3 577.2,1040.1 582.3,1038.8 587.4,1037.5 592.5,1036.2 597.5,1034.7 602.6,1033.2 607.6,1031.7 612.6,1030.0 617.6,1028.4 622.6,1026.6 627.5,1024.8 632.5,1022.9 637.4,1021.0 642.2,1019.0 647.1,1017.0 651.9,1014.9 656.7,1012.7 661.5,1010.5 666.3,1008.2 671.0,1005.9 675.7,1003.5 680.3,1001.0 685.0,998.5 689.6,995.9 694.1,993.3 698.7,990.6 703.2,987.9 707.6,985.1 712.1,982.3 716.5,979.4 720.8,976.4 725.1,973.4 729.4,970.3 733.7,967.2 737.9,964.1 742.1,960.9 746.2,957.6 750.3,954.3 754.3,950.9 758.3,947.5 762.3,944.0 766.2,940.5 770.1,937.0 774.0,933.3 777.7,929.7 781.5,926.0 785.2,922.2 788.8,918.5 792.5,914.6 796.0,910.7 799.5,906.8 803.0,902.8 806.4,898.8 809.8,894.8 813.1,890.7 816.4,886.6 819.6,882.4 822.7,878.2 825.8,873.9 828.9,869.6 831.9,865.3 834.9,861.0 837.8,856.6 840.6,852.1 843.4,847.7 846.1,843.2 848.8,838.6 851.4,834.1 854.0,829.5 856.5,824.8 859.0,820.2 861.4,815.5 863.7,810.8 866.0,806.0 868.2,801.2 870.4,796.4 872.5,791.6 873.2,790.0 848.7,790.0 846.9,800.9 845.1,805.2 837.1,799.9 826.3,797.2 831.7,786.3 837.1,770.0 834.0,770.0 834.4,768.3 839.9,757.4 845.3,746.5 848.0,732.9 850.7,716.6 853.5,705.7 858.9,697.6 864.3,681.3 864.3,667.7 858.9,667.7 850.7,678.5 848.0,692.1 839.9,703.0 826.3,711.2 815.4,722.1 810.0,738.4 799.1,752.0 788.2,768.3 787.0,770.0 777.3,770.0 777.3,786.3 778.5,793.7 776.2,800.9 772.5,811.8 768.9,826.3 767.1,842.6 769.6,846.0 769.2,848.9 772.4,849.7 772.5,849.8 772.8,849.8 780.0,851.6 793.6,846.2 804.5,840.7 815.4,838.0 823.5,832.6 831.7,824.4 839.9,816.2 844.2,807.6 839.6,819.0 834.2,831.7 826.9,844.4 819.7,857.1 812.4,868.0 805.2,877.0 796.1,887.9 787.0,898.8 776.2,907.9 765.3,916.9 754.4,924.2 743.5,931.4 732.6,938.7 721.8,945.9 710.9,951.4 700.0,955.0 700.0,972.0 698.4,972.6 679.4,979.4 660.4,987.6 641.3,993.0 635.0,994.1 635.0,993.0 633.4,994.3 625.0,995.7 625.0,1001.5 612.4,1012.1 596.1,1025.7ZM669.9,331.4 671.2,347.8 682.1,354.6 695.7,350.5 706.6,343.7 703.9,334.2 693.0,323.3 682.1,323.3ZM864.3,440.2 869.8,453.8 877.9,472.9 879.9,479.1 877.9,475.6 869.8,462.0 861.6,459.3 858.9,448.4 850.7,451.1 842.6,456.5 831.7,464.7 823.5,478.3 822.0,485.2 820.8,485.4 810.0,496.3 812.7,507.2 818.1,518.1 826.3,526.2 837.1,534.4 850.7,542.6 858.9,550.7 864.3,561.6 872.5,575.2 877.9,588.8 886.1,583.4 897.0,561.6 894.3,534.4 892.3,510.3 891.7,508.0 890.2,503.0 888.7,497.9 887.2,493.2 885.7,490.0 886.1,490.0 886.2,490.0 885.5,487.9 883.9,482.9 882.1,477.9 880.3,473.0 878.4,468.0 876.5,463.1 874.5,458.3 872.5,453.4 870.4,448.6 868.2,443.8 866.0,439.0 863.7,434.2 861.4,429.5 859.0,424.8 856.5,420.2 854.0,415.5 851.4,410.9 848.8,406.4 846.1,401.8 843.4,397.3 842.7,396.2 850.7,410.3 858.9,426.6ZM777.3,317.8 774.0,320.0 788.2,331.4 801.8,347.8 815.4,361.4 826.3,375.0 838.6,389.8 837.8,388.4 834.9,384.0 831.9,379.7 828.9,375.4 825.8,371.1 822.7,366.8 819.6,362.6 816.4,358.4 813.1,354.3 809.8,350.2 806.4,346.2 803.0,342.2 800.8,339.6ZM793.6,490.9 793.4,490.0 795.0,490.0 793.6,481.0 785.5,470.1 780.0,459.3 769.2,452.5 761.0,448.4 752.8,437.5 747.4,429.3 739.2,428.0 733.8,434.8 732.4,440.2 739.2,448.4 747.4,462.0 752.8,478.3 758.3,490.0 768.9,490.0 777.3,496.3 788.2,499.0ZM800.4,577.9 799.1,567.0 788.2,563.0 776.0,569.8 778.7,582.0 790.9,584.7ZM778.7,618.7 778.7,623.6 784.1,623.6 784.1,618.7ZM854.8,637.2 865.7,636.4 864.9,605.1 854.0,605.7ZM727.8,623.6 733.8,623.6 733.8,619.3 727.8,619.3ZM812.7,626.9 818.1,635.0 827.6,636.4 833.1,629.6 834.4,616.0 830.3,606.5 814.0,607.8ZM775.1,670.9 780.6,670.9 780.6,666.3 775.1,666.3ZM906.7,609.4 905.3,662.2 905.6,659.3 906.0,654.1 906.4,648.8 906.7,643.6 906.9,638.3 907.1,633.0 907.2,627.8 907.2,622.5 907.2,617.2 907.1,612.0 907.0,609.7ZM897.0,697.6 891.5,724.8 886.1,752.0 884.5,760.1 885.5,757.1 887.2,752.1 888.7,747.1 890.2,742.0 891.7,737.0 893.0,731.9 894.3,726.8 895.6,721.7 896.8,716.5 897.9,711.4 899.0,706.2 899.9,701.1 900.9,695.9 901.7,690.7 902.6,685.5 903.3,680.3 904.0,675.0 904.1,673.8ZM780.0,705.7 771.9,711.2 761.0,724.8 759.6,728.9 766.4,732.9 777.3,738.4 788.2,739.7 795.0,730.2 796.4,716.6 790.9,707.1ZM725.6,741.1 717.5,752.0 706.6,768.3 706.0,770.8 698.4,780.9 698.4,789.0 700.0,791.4 700.0,817.2 710.9,817.2 721.8,822.6 730.8,828.1 741.7,826.3 750.8,822.6 754.3,808.4 755.6,805.4 754.4,799.6 754.4,790.0 751.4,790.0 743.4,780.0 744.7,780.0 744.7,768.3 750.1,757.4 755.6,746.5 752.8,735.7 739.2,738.4Z" fill="#ffe200"/>
<g clip-path="url(#clipL)"><g filter="url(#bl)">
<path d="M823.4,489.9 815.5,497.9 817.4,505.5 822.2,515.1 829.6,522.5 839.9,530.2 853.3,538.3 853.8,538.6 854.3,539.0 862.4,547.2 862.8,547.6 863.1,548.0 863.4,548.5 868.7,559.2 876.8,572.6 877.0,573.0 877.1,573.3 880.3,581.2 882.2,579.9 891.9,560.7 889.3,534.9 889.3,534.8 887.3,511.1 886.8,509.4 885.4,504.4 883.9,499.4 882.6,495.0 881.2,492.2 881.0,491.8 880.8,491.3 880.7,490.9 880.7,490.4 880.7,489.9 880.7,489.4 880.7,489.3 879.1,484.5 878.9,484.0 878.6,483.9 878.1,483.7 877.7,483.5 877.2,483.3 876.8,483.0 876.5,482.7 876.1,482.3 875.8,481.9 875.6,481.5 873.6,478.1 866.5,466.1 860.0,464.0 859.6,463.8 859.1,463.6 858.7,463.3 858.3,463.0 858.0,462.7 857.6,462.3 857.4,461.9 857.1,461.4 856.9,461.0 856.8,460.5 855.4,454.8 853.0,455.6 845.5,460.6 835.5,468.1 828.2,480.2 826.8,486.3 826.7,486.8 826.5,487.2 826.3,487.7 826.0,488.1 825.7,488.5 825.3,488.8 825.0,489.2 824.5,489.4 824.1,489.7 823.6,489.9ZM600.3,1028.7 601.1,1028.4 606.1,1026.9 611.1,1025.3 616.0,1023.6 620.9,1021.9 625.8,1020.1 630.7,1018.3 635.5,1016.4 640.3,1014.4 645.1,1012.4 649.9,1010.3 654.6,1008.2 659.4,1006.0 664.1,1003.7 668.7,1001.4 673.4,999.0 678.0,996.6 682.5,994.1 687.1,991.6 691.6,989.0 696.1,986.3 700.5,983.6 704.9,980.9 709.3,978.1 713.7,975.2 718.0,972.3 722.3,969.3 726.5,966.3 730.7,963.2 734.9,960.1 739.0,956.9 743.1,953.7 747.1,950.4 751.1,947.1 755.1,943.7 759.0,940.3 762.9,936.8 766.7,933.3 770.5,929.7 774.3,926.1 778.0,922.5 781.6,918.8 785.2,915.0 788.8,911.2 792.3,907.4 795.8,903.5 799.2,899.6 802.6,895.6 805.9,891.6 809.2,887.6 812.4,883.5 815.6,879.4 818.7,875.2 821.8,871.0 824.8,866.8 827.8,862.5 830.7,858.2 833.6,853.8 836.4,849.4 839.1,845.0 841.8,840.6 844.5,836.1 847.1,831.6 849.6,827.0 852.1,822.5 854.5,817.9 856.9,813.2 859.2,808.6 861.5,803.9 863.7,799.1 865.5,795.0 852.9,795.0 851.8,801.7 851.7,802.2 851.5,802.7 849.8,807.1 849.6,807.5 849.3,808.0 849.1,808.2 849.1,808.5 849.0,809.0 848.8,809.5 844.3,820.9 844.2,821.0 838.8,833.7 838.5,834.2 831.3,846.9 824.0,859.6 823.8,859.9 816.6,870.7 816.3,871.1 809.1,880.2 809.0,880.2 799.9,891.1 790.9,902.0 790.6,902.3 790.2,902.6 779.4,911.7 768.5,920.8 768.1,921.1 757.2,928.3 746.3,935.6 735.4,942.8 724.5,950.1 724.0,950.4 713.1,955.9 712.5,956.1 705.0,958.6 705.0,972.0 705.0,972.5 704.9,973.0 704.8,973.4 704.6,973.9 704.4,974.3 704.2,974.8 703.9,975.1 703.5,975.5 703.2,975.8 702.8,976.1 702.4,976.4 701.9,976.6 700.4,977.2 700.1,977.3 681.2,984.1 662.3,992.2 661.7,992.4 642.7,997.8 642.1,998.0 635.8,999.0 635.3,999.1 635.0,999.1 634.8,999.2 634.3,999.3 630.0,1000.0 630.0,1001.5 630.0,1001.9 629.9,1002.4 629.8,1002.9 629.6,1003.3 629.4,1003.8 629.2,1004.2 628.9,1004.6 628.6,1005.0 628.2,1005.3 615.6,1015.9 615.6,1015.9ZM838.9,807.1 835.1,804.6 825.1,802.0 824.6,801.9 824.1,801.7 823.7,801.5 823.3,801.2 822.9,800.9 822.5,800.5 822.2,800.1 822.0,799.7 821.7,799.3 821.5,798.8 821.4,798.3 821.3,797.9 821.3,797.4 821.3,796.9 821.3,796.4 821.4,795.9 821.6,795.4 821.8,795.0 827.1,784.4 830.7,773.7 830.4,773.5 830.1,773.1 829.8,772.7 829.6,772.3 829.4,771.8 829.2,771.3 829.1,770.9 829.0,770.4 829.0,769.9 829.1,769.4 829.2,768.9 829.6,767.2 829.7,766.6 830.0,766.1 835.4,755.2 840.5,744.9 843.1,732.0 845.8,715.8 845.9,715.4 848.6,704.5 848.8,704.0 849.0,703.5 849.3,703.0 854.4,695.4 859.3,680.5 859.3,675.4 855.4,680.6 852.9,693.1 852.8,693.6 852.7,694.0 852.5,694.4 852.3,694.8 852.0,695.1 843.9,706.0 843.6,706.4 843.2,706.7 842.8,707.0 842.4,707.3 829.4,715.2 819.8,724.8 814.7,740.0 814.5,740.4 814.3,740.8 814.1,741.2 813.9,741.5 803.1,754.9 792.4,771.1 792.3,771.2 791.1,772.9 790.8,773.2 790.5,773.6 790.1,773.9 789.7,774.2 789.3,774.4 788.9,774.6 788.4,774.8 788.0,774.9 787.5,775.0 787.0,775.0 782.3,775.0 782.3,785.9 783.5,792.9 783.5,793.4 783.5,793.9 783.5,794.3 783.4,794.8 783.3,795.3 780.9,802.5 777.3,813.2 773.8,827.2 772.3,841.2 773.6,843.0 773.9,843.4 774.2,843.8 774.3,844.3 774.5,844.8 774.5,845.1 779.7,846.4 791.6,841.6 802.3,836.2 802.8,836.0 803.3,835.9 813.3,833.4 820.4,828.7 835.8,813.3ZM859.7,631.8 860.6,631.8 860.0,610.4 859.1,610.4ZM817.8,625.5 821.0,630.4 825.5,631.0 828.2,627.6 829.3,616.8 827.2,611.8 818.7,612.5ZM795.1,575.6 794.5,570.7 788.6,568.4 781.6,572.3 782.9,577.8 789.8,579.3ZM788.4,489.7 788.5,489.2 788.6,488.7 788.7,488.2 788.9,487.8 789.2,487.3 789.5,486.9 788.9,483.0 781.5,473.1 781.2,472.8 781.0,472.4 776.2,462.8 766.7,456.8 758.8,452.9 758.4,452.6 758.0,452.4 757.6,452.1 757.3,451.7 757.0,451.4 748.8,440.5 748.7,440.3 744.4,433.9 741.3,433.4 738.4,437.1 737.9,439.0 743.1,445.2 743.3,445.5 743.5,445.8 751.7,459.4 751.9,459.9 752.1,460.4 757.5,476.5 761.5,485.0 768.9,485.0 769.3,485.0 769.8,485.1 770.2,485.2 770.7,485.3 771.1,485.5 771.5,485.7 771.9,486.0 779.5,491.7 786.0,493.3ZM765.8,726.8 768.8,728.6 778.8,733.5 785.9,734.4 790.1,728.4 791.2,717.7 787.8,711.8 781.3,710.9 775.3,714.9ZM728.5,745.6 721.6,754.9 711.3,770.3 710.9,771.9 710.8,772.4 710.6,772.9 710.3,773.3 710.0,773.8 703.4,782.5 703.4,787.5 704.2,788.6 704.4,789.0 704.6,789.5 704.8,789.9 704.9,790.4 705.0,790.9 705.0,791.4 705.0,812.2 710.9,812.2 711.3,812.2 711.8,812.3 712.3,812.4 712.7,812.5 713.1,812.7 724.0,818.2 724.3,818.4 731.8,822.8 740.3,821.4 746.5,818.9 749.5,807.2 749.7,806.6 750.4,804.9 749.5,800.6 749.4,800.1 749.4,799.6 749.4,794.6 749.0,794.4 748.6,794.1 748.2,793.8 747.9,793.5 747.5,793.1 739.5,783.1 739.2,782.7 739.0,782.3 738.8,781.9 738.6,781.4 738.5,780.9 738.4,780.4 738.4,780.0 738.5,779.5 738.5,779.0 738.7,778.5 738.8,778.1 739.0,777.6 739.3,777.2 739.6,776.8 739.7,776.7 739.7,768.3 739.7,767.8 739.8,767.4 739.9,766.9 740.0,766.5 740.2,766.1 745.6,755.2 750.3,746.0 749.1,741.5 740.2,743.3ZM687.8,950.6 703.4,940.2 713.9,929.7 714.2,929.4 715.3,928.5 715.7,928.2 716.1,927.9 716.5,927.7 717.0,927.5 717.4,927.4 717.9,927.3 722.1,926.8 723.2,924.5 717.6,916.1 710.6,905.6 705.7,900.7 702.3,901.6 701.8,901.7 701.3,901.7 700.8,901.7 700.3,901.6 699.8,901.5 699.3,901.4 698.8,901.2 698.4,900.9 698.0,900.6 694.1,897.5 681.2,898.6 671.1,905.7 673.5,927.2 673.5,927.7 673.5,928.2 673.4,928.6 673.3,929.1 673.2,929.6 673.0,930.0 664.8,946.3 664.6,946.8 664.2,947.2 663.9,947.6 663.5,948.0 651.2,957.8 650.0,962.6 652.5,963.4 664.4,961.0 677.3,955.8ZM675.1,334.0 676.0,344.8 682.8,349.1 693.6,345.9 700.8,341.4 699.4,336.8 690.9,328.3 683.6,328.3ZM629.2,490.1 632.7,491.8 633.1,492.1 633.4,492.3 643.5,499.9 651.3,501.8 657.0,498.0 665.2,488.7 665.2,488.4 665.4,488.0 665.6,487.6 665.9,487.2 666.2,486.8 666.2,486.7 666.2,479.3 661.2,466.6 660.9,465.9 658.5,456.0 650.9,445.9 650.8,445.7 646.2,438.9 635.8,434.7 635.4,434.8 634.9,434.8 634.4,434.8 633.9,434.7 633.5,434.5 633.0,434.4 633.0,434.3 621.8,434.3 608.3,441.1 605.6,448.1 611.2,459.2 624.1,474.7 625.8,476.1 626.2,476.4 626.5,476.8 626.8,477.2 627.1,477.6 627.3,478.1 627.5,478.5 627.6,479.0 627.6,479.5 627.7,480.0 627.7,480.5 627.6,481.0 627.5,481.4 627.3,481.9 627.1,482.3 626.8,482.8 626.5,483.2 626.2,483.5 625.9,483.9 625.5,484.2 625.0,484.4 624.6,484.6 624.1,484.8 623.7,484.9 623.2,485.0 622.7,485.0 619.0,485.0 620.7,487.4 625.4,487.8 625.9,487.9 626.4,488.0 626.8,488.2 627.3,488.4 627.7,488.6 628.1,488.9 628.5,489.2 628.8,489.6 629.1,490.0ZM659.8,531.0 660.4,525.0 659.4,524.8 654.1,530.1 653.7,531.9 655.3,532.9ZM616.2,796.5 606.0,793.9 589.8,791.3 573.7,788.6 561.2,787.3 549.3,790.9 540.0,797.1 541.3,824.0 543.9,844.9 549.1,857.9 554.5,871.5 554.7,872.1 557.0,881.1 562.7,885.0 574.5,887.3 592.1,884.8 604.6,879.8 620.1,869.5 626.5,863.1 626.8,862.8 627.1,862.6 627.5,862.3 627.9,862.1 628.3,861.9 628.8,861.8 634.1,860.5 643.5,855.8 649.5,847.8 647.5,839.9 639.8,827.1 629.3,811.3 626.6,808.6 626.2,808.2 625.9,807.8 625.7,807.4 625.5,806.9 625.3,806.5 625.2,806.0 625.1,805.5 625.1,805.0 625.1,800.4ZM587.8,844.0 587.9,843.5 587.9,843.0 588.1,842.5 588.2,842.1 588.4,841.6 588.7,841.2 589.0,840.8 589.3,840.4 589.7,840.1 590.1,839.8 590.5,839.6 590.9,839.4 591.4,839.2 591.9,839.1 592.4,839.0 592.8,839.0 597.7,839.0 598.2,839.0 598.7,839.1 599.2,839.2 599.7,839.4 600.1,839.6 600.5,839.8 600.9,840.1 601.3,840.4 601.6,840.8 601.9,841.2 602.1,841.6 602.4,842.1 602.5,842.5 602.6,843.0 602.7,843.5 602.7,844.0 602.7,850.5 602.7,851.0 602.6,851.5 602.5,852.0 602.4,852.4 602.1,852.9 601.9,853.3 601.6,853.7 601.3,854.0 600.9,854.4 600.5,854.7 600.1,854.9 599.7,855.1 599.2,855.3 598.7,855.4 598.2,855.5 597.7,855.5 592.8,855.5 592.4,855.5 591.9,855.4 591.4,855.3 590.9,855.1 590.5,854.9 590.1,854.7 589.7,854.4 589.3,854.0 589.0,853.7 588.7,853.3 588.4,852.9 588.2,852.4 588.1,852.0 587.9,851.5 587.9,851.0 587.8,850.5ZM634.4,643.2 634.4,643.2 634.9,643.2 635.4,643.2 635.9,643.3 636.3,643.4 636.8,643.5 637.0,643.6 639.1,643.6 639.1,643.5 639.0,643.0 639.1,642.5 639.2,642.1 639.3,641.6 639.5,641.1 645.7,627.4 644.7,618.7 635.6,611.8 635.2,611.5 634.9,611.2 634.6,610.8 634.3,610.4 634.1,610.0 633.9,609.5 633.7,609.0 630.1,594.6 630.0,594.0 630.0,593.4 630.0,578.2 616.4,580.1 606.1,584.2 603.9,602.0 608.7,618.8 618.7,628.8 619.0,629.2 629.0,641.6ZM549.6,960.6 540.0,962.6 531.5,964.3 532.0,966.3 537.8,966.3 547.6,961.4 548.3,961.1ZM556.8,958.2 564.5,955.7 577.9,950.3 578.2,950.2 593.8,945.0 604.0,937.4 604.4,937.1 604.7,936.9 620.4,929.0 630.0,920.1 630.0,906.4 619.1,908.1 604.0,913.2 591.3,923.3 581.0,933.7 570.3,949.6 570.1,949.9 569.8,950.3 569.5,950.6 569.1,950.8 568.8,951.1ZM569.2,698.4 570.5,697.1 565.3,690.3 555.4,682.8 546.6,678.4 538.0,680.5 527.6,685.7 527.2,685.9 526.7,686.1 526.2,686.2 525.7,686.3 525.3,686.3 524.8,686.2 524.3,686.1 523.8,686.0 523.4,685.8 522.9,685.6 522.5,685.3 522.1,685.0 521.8,684.7 521.4,684.3 521.2,683.9 520.9,683.5 515.7,673.1 505.7,660.5 500.6,657.1 500.5,657.2 500.5,670.0 503.0,685.1 512.5,704.2 519.4,705.9 528.6,701.3 529.1,701.1 529.5,700.9 530.0,700.8 530.5,700.8 531.0,700.8 531.5,700.8 532.0,700.9 541.9,703.4 557.1,700.8ZM411.4,456.1 411.7,456.5 412.0,456.8 412.2,457.2 412.4,457.6 412.6,458.0 412.7,458.5 414.0,463.8 415.5,464.2 417.3,463.3 423.0,459.5 423.5,459.2 424.0,459.0 432.2,455.7 435.3,449.5 435.5,449.1 435.8,448.7 436.1,448.3 436.4,448.0 436.8,447.7 437.2,447.4 437.6,447.2 438.0,447.0 445.3,444.3 448.7,441.7 449.2,441.4 449.6,441.2 450.0,441.0 450.5,440.9 451.0,440.8 451.5,440.7 452.0,440.7 452.5,440.8 453.0,440.9 460.9,442.9 461.3,443.0 472.5,446.7 479.7,446.7 480.2,446.7 480.6,446.8 481.1,446.9 481.6,447.1 482.0,447.3 482.5,447.5 482.8,447.8 483.2,448.2 483.5,448.5 483.8,448.9 484.1,449.3 484.3,449.8 484.5,450.2 484.6,450.7 484.6,451.2 484.7,451.7 484.7,467.7 484.7,468.1 484.6,468.6 484.5,469.1 484.3,469.5 484.1,469.9 483.9,470.3 483.6,470.7 483.3,471.1 483.0,471.4 482.6,471.7 482.2,472.0 481.8,472.2 481.3,472.4 480.9,472.5 472.9,474.5 472.5,474.6 460.6,476.6 460.1,476.6 459.7,476.6 447.8,476.6 447.2,476.6 446.7,476.5 446.2,476.4 435.4,472.8 426.5,474.3 420.1,482.4 419.9,482.7 419.6,483.1 419.4,483.3 419.3,483.7 419.1,484.1 418.9,484.6 415.2,492.2 416.2,496.1 421.9,499.0 431.2,502.7 440.8,504.6 441.3,504.8 441.8,504.9 442.2,505.2 442.7,505.5 443.1,505.8 443.4,506.1 443.8,506.5 444.1,507.0 450.1,516.9 450.3,517.3 450.5,517.8 450.6,518.2 450.7,518.7 450.8,519.1 450.8,519.6 450.7,520.0 450.7,520.5 446.8,539.7 448.3,555.0 450.5,555.0 451.0,555.0 451.5,555.1 451.9,555.2 452.4,555.4 452.8,555.6 453.2,555.8 453.6,556.1 454.0,556.4 454.3,556.8 454.6,557.1 454.9,557.5 455.1,558.0 455.3,558.4 459.4,570.8 463.5,581.1 467.9,581.1 477.1,579.8 477.6,579.7 478.0,579.7 478.5,579.8 488.0,581.1 495.4,582.1 501.6,570.8 503.5,559.2 503.6,558.7 503.8,558.2 504.0,557.8 504.2,557.3 504.5,556.9 504.8,556.5 505.2,556.2 505.6,555.9 506.0,555.6 506.1,555.6 504.6,540.2 502.7,530.5 502.6,530.0 502.6,529.5 502.6,529.0 502.7,528.5 504.7,518.5 504.7,518.3 508.7,502.3 508.9,501.9 509.1,501.4 509.3,501.0 509.6,500.6 513.8,495.0 514.1,494.6 514.5,494.2 514.8,493.9 515.3,493.6 515.7,493.4 516.2,493.2 516.6,493.1 517.1,493.0 517.6,493.0 518.1,493.0 518.6,493.0 519.1,493.1 519.6,493.3 520.0,493.5 524.6,495.8 524.6,495.8 525.0,495.6 525.5,495.4 525.9,495.3 526.4,495.2 526.9,495.2 527.4,495.2 527.8,495.2 528.3,495.3 528.7,495.5 529.2,495.7 529.6,495.9 530.0,496.2 533.7,498.9 536.6,499.7 537.0,499.8 537.5,500.0 537.9,500.2 538.3,500.4 538.6,500.7 538.9,501.0 540.3,499.0 540.4,498.8 548.3,488.2 553.0,478.9 553.1,478.6 553.3,478.1 553.5,477.6 553.7,477.2 555.2,475.0 562.6,462.0 564.3,451.9 563.2,447.4 555.6,444.4 555.1,444.2 554.7,443.9 554.3,443.6 542.3,433.6 530.3,423.6 530.0,423.3 529.7,423.0 529.5,422.7 522.5,413.1 514.8,410.8 500.4,410.8 490.6,414.1 483.6,422.9 483.3,423.3 482.9,423.6 482.5,423.9 482.1,424.2 481.6,424.4 481.2,424.6 480.7,424.7 480.2,424.8 479.7,424.8 479.2,424.8 478.7,424.7 478.3,424.6 477.8,424.4 477.3,424.2 476.9,424.0 476.5,423.7 476.2,423.3 475.8,423.0 470.5,421.6 469.9,421.5 462.3,418.6 452.8,416.7 452.2,416.6 451.7,416.4 451.2,416.1 446.2,413.1 445.8,412.8 445.4,412.5 445.0,412.1 444.7,411.7 444.4,411.2 439.4,402.3 439.2,401.8 439.0,401.2 438.8,400.7 436.8,388.7 436.8,388.3 435.9,377.1 435.2,376.4 428.9,377.8 428.4,377.9 420.5,378.9 419.9,378.9 419.4,378.9 418.9,378.8 418.4,378.7 418.0,378.5 417.5,378.3 417.1,378.1 411.1,374.1 410.7,373.8 410.3,373.5 403.1,366.2 395.2,363.0 387.3,363.8 380.2,367.4 378.0,376.3 378.9,387.2 380.9,398.8 384.7,414.4 388.6,425.8 394.4,437.5 394.6,437.9 394.7,438.4 394.8,438.9 394.9,439.4 394.9,439.9 394.9,440.4 394.8,440.8 394.7,441.3 394.0,443.2 394.1,443.2 402.1,447.2 402.6,447.5 403.0,447.8 403.4,448.2ZM499.5,484.3 499.8,483.9 500.2,483.6 500.6,483.3 501.0,483.1 501.5,482.9 502.0,482.8 502.4,482.7 502.9,482.6 503.4,482.6 503.9,482.6 504.4,482.7 504.8,482.9 505.3,483.1 505.7,483.3 506.1,483.5 506.5,483.8 506.9,484.2 507.2,484.6 507.5,485.0 507.7,485.4 507.9,485.8 508.0,486.3 508.1,486.8 508.2,487.3 509.0,499.2 509.0,499.8 508.9,500.3 508.8,500.9 504.4,516.8 504.3,517.3 504.1,517.7 503.9,518.1 500.9,523.1 500.6,523.5 500.3,523.9 500.0,524.2 499.6,524.5 499.2,524.8 498.8,525.0 498.4,525.2 497.9,525.3 497.4,525.4 497.0,525.5 496.5,525.5 496.0,525.5 495.5,525.4 495.1,525.3 494.6,525.1 494.2,524.9 493.8,524.6 493.4,524.3 493.0,524.0 492.7,523.6 492.4,523.2 492.2,522.8 489.6,517.8 489.4,517.4 489.2,516.9 489.1,516.4 489.1,515.9 489.0,515.4 489.1,514.9 489.2,514.4 492.7,498.5 492.8,498.4 494.8,490.4 494.9,489.9 495.1,489.5 495.3,489.0 495.6,488.6 495.9,488.2ZM504.2,224.2 512.8,225.9 513.2,226.0 513.6,226.2 526.7,231.4 541.9,233.9 551.1,233.0 551.2,232.4 549.9,231.1 543.3,228.9 524.8,226.2ZM528.5,320.6 519.7,318.8 504.3,320.1 488.1,322.8 487.7,322.8 487.2,322.8 486.7,322.8 478.5,321.8 473.3,327.8 473.3,347.4 478.9,355.0 486.4,355.0 494.6,351.9 498.8,343.4 501.4,329.2 501.5,328.7 501.7,328.2 501.9,327.8 502.2,327.3 502.5,326.9 502.8,326.6 503.1,326.2 503.5,325.9 504.0,325.7 504.4,325.5 504.9,325.3 505.4,325.2 505.9,325.1 519.2,323.8 528.5,321.9ZM512.6,373.0 512.6,373.1 515.3,376.4 515.7,376.3 516.2,376.3 516.7,376.3 517.2,376.4 517.7,376.5 518.0,376.6 519.8,376.0 520.3,369.7 520.3,369.3 520.3,369.2 520.1,369.1 520.0,369.1 519.4,369.0 518.9,369.0 518.8,368.9 512.6,368.9ZM459.3,1033.0 479.2,1034.3 496.0,1033.2 491.6,1031.9 476.2,1029.3 461.5,1030.6 458.3,1032.2ZM485.1,963.9 493.9,957.3 498.2,944.5 494.5,936.9 485.1,932.2 474.9,927.1 459.9,924.6 444.2,925.9 444.2,925.9 425.4,927.3 412.1,929.9 411.8,930.0 390.0,932.7 389.4,932.8 375.1,932.8 368.3,939.6 371.5,946.0 383.5,953.2 401.7,961.0 417.4,963.6 433.5,966.3 449.4,967.6 470.4,967.6ZM340.0,881.3 340.0,878.8 340.0,878.3 340.1,877.8 340.2,877.3 340.4,876.9 340.6,876.4 340.8,876.0 341.1,875.6 341.5,875.3 341.8,874.9 342.2,874.6 342.6,874.4 343.1,874.2 343.5,874.0 344.0,873.9 344.5,873.8 345.0,873.8 345.4,873.8 357.5,871.4 364.9,866.5 371.3,862.2 373.6,850.6 373.7,850.2 373.9,849.7 374.1,849.3 374.3,848.9 374.6,848.5 374.9,848.1 375.3,847.8 375.7,847.5 376.1,847.2 376.5,847.0 376.9,846.9 385.1,844.1 385.6,844.0 386.1,843.9 386.7,843.9 397.1,843.9 413.1,841.2 413.5,841.2 413.9,841.2 414.4,841.2 428.0,842.5 428.1,842.6 439.0,843.9 439.6,844.0 450.4,846.7 451.0,846.9 451.5,847.1 452.0,847.4 459.3,852.3 474.5,854.8 475.0,854.9 475.5,855.1 476.0,855.3 476.4,855.5 476.8,855.8 477.2,856.2 477.5,856.5 477.8,856.9 478.1,857.4 478.3,857.8 478.5,858.3 478.6,858.8 480.3,867.1 485.3,860.5 487.8,845.7 487.8,825.1 483.1,808.8 469.5,802.1 460.1,800.9 449.9,802.2 449.4,802.2 448.9,802.2 448.4,802.1 432.1,799.4 431.6,799.3 431.2,799.2 430.7,799.0 430.3,798.7 429.9,798.5 429.5,798.2 429.2,797.8 428.9,797.5 428.6,797.1 428.4,796.6 428.2,796.2 428.1,795.7 428.0,795.3 427.9,794.8 427.9,794.3 428.0,793.8 428.0,793.4 428.2,792.9 430.6,785.5 430.6,774.9 430.6,774.9 430.1,774.8 429.7,774.6 429.2,774.4 428.8,774.2 428.4,773.9 428.1,773.6 427.8,773.3 427.5,772.9 427.2,772.5 427.0,772.1 426.8,771.6 426.7,771.1 426.6,770.7 425.5,762.5 418.7,755.7 411.5,749.7 400.7,746.5 391.9,750.9 377.5,760.5 375.2,769.5 374.8,771.1 374.7,771.6 374.5,772.0 374.3,772.5 374.1,772.9 373.8,773.3 373.4,773.6 373.1,773.9 372.7,774.2 372.3,774.4 371.8,774.6 371.4,774.8 370.9,774.9 370.4,775.0 370.0,775.0 365.8,775.0 345.9,782.5 340.0,788.4 340.0,793.6 340.0,794.1 339.9,794.6 339.8,795.1 339.6,795.6 339.4,796.0 339.1,796.5 338.8,796.9 338.5,797.2 338.1,797.6 337.7,797.9 337.2,798.1 332.3,800.6 330.2,810.8 332.8,823.4 332.8,823.9 332.9,824.4 332.8,824.8 332.8,825.3 332.7,825.8 332.5,826.2 332.3,826.6 327.0,837.3 321.6,850.7 321.4,851.2 321.2,851.6 320.9,851.9 320.6,852.3 320.3,852.6 319.9,852.9 319.6,853.2 306.0,861.3 305.5,861.6 305.0,861.8 304.5,861.9 304.0,862.0 303.5,862.0 303.0,862.0 302.5,862.0 302.0,861.8 301.5,861.7 289.3,856.8 278.1,859.0 263.3,868.9 254.3,880.1 256.3,889.9 265.9,899.5 278.7,909.8 286.8,912.8 296.9,907.7 301.6,898.3 301.9,897.9 302.1,897.5 302.5,897.1 302.8,896.8 303.2,896.5 303.6,896.2 304.0,896.0 304.4,895.8 304.9,895.7 315.4,893.1 328.4,887.9ZM376.8,630.1 377.0,629.6 377.3,629.2 377.7,628.8 378.0,628.5 378.5,628.2 386.4,622.8 399.0,612.8 402.8,605.1 398.5,596.5 398.3,596.0 398.2,595.5 398.1,595.1 395.5,579.9 389.6,572.0 381.2,572.0 380.7,572.0 380.2,571.9 379.7,571.8 363.3,566.3 362.8,566.1 362.3,565.9 350.3,558.7 340.0,560.4 340.0,625.2 340.0,625.7 339.9,626.2 339.8,626.7 339.6,627.2 339.4,627.6 339.1,628.0 338.8,628.4 338.5,628.8 338.1,629.1 337.7,629.4 337.2,629.7 336.8,629.9 335.6,630.3 335.6,656.8 335.5,657.5 332.8,676.5 332.7,677.0 332.6,677.4 332.4,677.9 332.2,678.3 332.0,678.7 331.7,679.0 319.6,693.5 321.2,701.5 336.0,704.3 336.4,704.5 336.9,704.6 337.3,704.8 337.8,705.1 338.2,705.4 338.5,705.7 338.9,706.1 339.2,706.5 339.4,706.9 339.6,707.3 339.8,707.8 339.9,708.3 340.0,708.8 340.0,709.2 340.0,717.4 346.5,714.8 355.8,710.2 360.1,701.5 362.5,687.1 357.5,672.0 357.3,671.5 357.2,671.1 357.2,670.6 357.2,670.2 357.2,669.7 357.3,669.3 357.5,668.8 362.9,652.5 363.1,652.0 363.3,651.5 363.6,651.1 371.5,640.6ZM386.2,303.8 377.1,303.8 370.1,307.8 367.1,313.9 366.0,322.4 367.2,324.7 373.6,321.5 374.0,321.3 374.4,321.2 374.8,321.1 386.9,318.7 391.1,314.5 397.1,306.4 396.9,305.9ZM339.0,1005.6 339.2,1005.6 350.0,1010.0 361.9,1012.3 362.6,1012.1 361.6,1010.7 350.0,1006.0 344.2,1005.1 343.7,1005.0 343.2,1004.8 342.8,1004.6 342.7,1004.6 342.3,1004.7 341.8,1004.6 341.3,1004.6 339.7,1004.3 339.6,1004.5 339.4,1005.0 339.2,1005.4ZM248.2,579.8 248.5,579.5 248.9,579.2 257.1,573.8 257.5,573.5 258.0,573.3 258.4,573.1 258.9,573.0 259.4,572.9 259.9,572.9 260.4,572.9 260.8,573.0 261.3,573.1 261.8,573.3 262.2,573.5 262.6,573.8 263.0,574.0 263.4,574.4 271.6,582.5 271.9,582.9 272.2,583.3 275.7,588.5 279.3,587.6 279.3,572.5 279.4,572.0 279.4,571.5 279.6,571.0 279.7,570.6 279.9,570.1 280.2,569.7 280.5,569.3 280.8,568.9 286.3,563.5 297.1,552.6 308.0,541.7 308.4,541.4 308.8,541.1 316.9,535.7 317.4,535.4 317.8,535.2 318.3,535.1 318.7,534.9 319.2,534.9 319.7,534.8 330.3,534.8 328.5,522.4 321.7,510.0 310.8,506.8 295.6,506.8 280.5,509.3 270.3,514.4 269.6,514.7 253.3,520.1 252.8,520.2 252.3,520.3 251.8,520.4 251.4,520.3 250.9,520.3 250.4,520.2 249.9,520.0 249.5,519.8 233.2,511.7 232.7,511.4 232.3,511.1 231.9,510.8 231.6,510.4 231.3,510.0 231.0,509.6 230.8,509.1 230.6,508.7 230.5,508.2 228.8,499.7 224.0,500.9 213.9,508.5 213.5,508.7 213.1,509.0 212.7,509.1 212.3,509.3 211.8,509.4 211.4,509.5 210.9,509.5 198.5,509.5 189.7,513.9 184.1,521.3 187.3,527.7 199.2,532.5 199.6,532.7 200.0,532.9 200.3,533.1 210.8,541.0 221.3,546.2 221.8,546.5 222.2,546.8 222.6,547.1 222.9,547.5 223.2,547.9 234.1,564.3 234.4,564.7 234.6,565.1 234.7,565.6 234.9,566.1 234.9,566.5 235.0,567.0 235.0,581.3 237.5,583.8 244.2,583.8ZM304.1,961.8 313.5,958.9 316.3,953.2 306.5,943.4 300.3,942.6 296.3,948.2 297.2,957.5ZM69.5,736.9 69.2,735.7 69.2,735.6 68.4,732.1 68.4,732.0 67.6,728.4 67.6,728.4 66.8,724.8 66.8,724.8 66.1,721.2 66.1,721.2 65.4,717.6 65.4,717.5 64.7,713.9 64.7,713.9 64.1,710.3 64.1,710.2 63.5,706.6 63.5,706.6 62.9,703.0 62.9,702.9 62.4,699.3 62.4,699.3 61.9,695.7 61.9,695.6 61.5,691.9 61.5,691.9 61.1,688.3 61.1,688.2 60.7,684.6 60.7,684.6 60.4,680.9 60.4,680.9 60.1,677.3 60.1,677.2 59.8,673.6 59.8,673.5 59.6,669.9 59.6,669.9 59.4,666.2 59.4,666.2 59.2,662.6 59.2,662.5 59.1,658.9 58.9,655.3 58.9,655.3 58.8,651.6 58.8,651.6 58.7,648.0 58.7,647.9 58.6,644.3 58.6,644.3 58.6,640.6 58.6,640.6 58.6,637.0 58.6,636.9 58.6,633.3 58.6,633.3 58.7,629.6 58.7,629.6 58.8,626.0 58.8,625.9 58.9,622.3 58.9,622.3 59.1,618.7 59.1,618.6 59.3,615.0 59.3,615.0 59.5,611.4 59.5,611.3 59.8,607.8 59.8,604.4 59.8,604.3 59.9,600.7 59.9,600.7 60.1,597.0 60.1,597.0 60.3,593.4 60.3,593.4 60.5,589.7 60.5,589.7 60.7,586.1 60.7,586.1 61.0,582.5 61.0,582.4 61.3,578.8 61.3,578.8 61.6,575.2 61.6,575.1 62.0,571.5 62.0,571.5 62.4,567.9 62.4,567.8 62.8,564.3 62.8,564.2 63.3,560.6 63.3,560.6 63.8,557.0 63.8,557.0 64.3,553.4 64.3,553.3 64.8,550.0 65.1,546.5 65.1,546.5 65.4,542.8 65.4,542.8 65.7,539.2 65.7,539.1 66.1,535.5 66.1,535.5 66.5,531.8 66.5,531.8 67.0,528.2 67.0,528.1 67.4,524.5 67.4,524.4 67.9,520.8 68.0,520.8 68.5,517.1 68.5,517.1 69.1,513.5 69.1,513.4 69.7,509.8 69.7,509.8 70.3,506.1 70.3,506.1 70.7,503.9 70.6,504.4 69.2,509.4 67.8,514.4 66.5,519.4 65.3,524.5 64.1,529.6 63.0,534.6 62.0,539.7 61.0,544.9 60.0,550.0 59.2,555.1 58.4,560.3 57.7,565.4 57.0,570.6 56.4,575.7 55.8,580.9 55.4,586.1 54.9,591.3 54.6,596.5 54.3,601.7 54.1,606.9 53.9,612.1 53.8,617.3 53.8,622.5 53.8,627.7 53.9,632.9 54.1,638.1 54.3,643.3 54.6,648.5 54.9,653.7 55.4,658.9 55.8,664.1 56.4,669.3 57.0,674.4 57.7,679.6 58.4,684.7 59.2,689.9 60.0,695.0 61.0,700.1 62.0,705.3 63.0,710.4 64.1,715.4 65.3,720.5 66.5,725.6 67.8,730.6 69.2,735.6ZM202.7,299.8 204.9,302.1 205.3,302.4 205.5,302.8 205.8,303.2 206.0,303.6 206.2,304.1 206.3,304.6 206.4,305.0 206.4,305.5 206.4,306.0 206.3,306.5 206.2,306.9 206.1,307.4 205.9,307.8 203.1,313.3 203.0,313.5 196.2,325.7 195.9,326.3 184.2,341.8 194.2,334.3 204.8,325.1 215.5,314.3 215.9,313.9 229.5,303.0 229.7,303.0 240.5,294.8 250.9,287.1 258.6,276.8 259.0,276.3 259.4,275.9 259.8,275.6 263.5,273.1 261.1,273.7 260.6,273.8 260.1,273.9 259.6,273.9 259.1,273.8 258.7,273.7 258.2,273.6 257.7,273.4 257.3,273.2 256.9,272.9 256.5,272.6 256.2,272.2 255.9,271.9 255.6,271.5 255.4,271.0 251.8,263.6 251.1,264.1 246.7,266.9 242.3,269.8 238.0,272.7 233.7,275.7 229.5,278.7 225.3,281.8 221.1,284.9 217.0,288.1 212.9,291.3 208.9,294.6 204.9,297.9ZM265.9,452.2 265.7,452.3 265.3,452.6 264.9,452.8 264.4,453.0 263.9,453.2 263.4,453.3 262.9,453.4 262.4,453.4 261.9,453.3 261.4,453.2 252.3,451.0 245.8,454.2 245.8,459.9 252.5,466.6 259.2,473.3 266.5,473.3 270.6,470.6 268.6,460.6 266.0,452.7 265.9,452.2ZM275.8,440.9 277.7,438.5 278.0,438.1 278.4,437.8 278.8,437.5 279.2,437.2 279.6,437.0 280.1,436.8 280.5,436.7 281.0,436.6 288.0,435.7 288.6,431.2 285.3,427.8 279.9,428.5 278.2,433.6ZM210.8,687.1 211.3,687.2 211.8,687.2 212.3,687.4 212.8,687.5 213.3,687.7 213.7,688.0 221.8,693.4 222.2,693.7 222.6,694.0 222.9,694.4 223.2,694.8 223.5,695.2 223.7,695.7 223.9,696.1 224.0,696.6 224.0,697.1 224.1,697.6 224.1,711.2 224.0,711.7 224.0,712.2 223.8,712.7 223.7,713.1 223.5,713.6 223.2,714.0 222.9,714.4 222.5,714.8 222.2,715.1 221.7,715.4 221.3,715.7 210.4,721.1 210.0,721.3 209.5,721.4 209.1,721.5 208.6,721.6 208.1,721.6 207.6,721.6 207.2,721.5 206.7,721.4 206.3,721.2 205.8,721.0 205.4,720.8 197.3,715.3 196.9,715.1 196.5,714.7 196.2,714.3 195.9,713.9 195.6,713.5 195.4,713.1 195.2,712.6 195.1,712.1 195.0,711.6 193.8,697.1 190.5,697.1 181.0,702.9 183.1,717.6 190.2,729.5 200.0,736.8 215.9,744.8 216.3,745.0 216.6,745.3 227.5,753.4 228.0,753.9 238.6,764.5 253.3,775.0 279.3,775.0 279.3,766.5 274.3,753.8 274.1,753.4 274.0,753.0 271.3,739.4 271.2,738.9 271.2,738.4 271.2,737.9 271.3,737.5 271.4,737.0 271.5,736.5 276.4,724.4 274.1,715.1 273.9,714.5 273.9,713.9 273.9,697.6 273.9,697.1 274.0,696.7 274.1,696.2 274.2,695.8 274.4,695.4 279.5,685.1 282.1,669.7 284.8,648.3 284.8,633.5 279.9,623.7 275.6,615.1 264.3,613.2 258.5,619.0 245.3,645.4 245.0,646.0 239.6,654.1 239.3,654.5 239.0,654.8 238.6,655.2 238.3,655.4 237.9,655.7 237.5,655.9 237.0,656.1 236.6,656.2 227.1,658.6 223.2,662.5 218.1,672.6 212.7,683.5ZM198.5,391.3 202.1,384.1 200.7,382.7 191.9,382.7 191.3,382.6 181.9,381.5 176.6,384.1 174.7,387.7 172.3,395.0 171.2,406.6 174.0,412.3 178.3,415.2 182.9,412.1 190.6,401.9ZM157.7,777.5 157.8,777.8 160.8,783.7 168.7,794.2 169.0,794.6 177.1,808.2 177.4,808.7 177.6,809.3 177.7,809.8 180.4,823.0 184.8,834.1 194.0,837.8 198.0,835.1 198.9,826.0 193.6,819.6 185.9,811.9 175.3,803.9 174.9,803.6 174.6,803.3 174.3,803.0 174.0,802.6 173.8,802.2 173.6,801.8 168.2,788.2 165.7,781.9 165.5,781.4 165.4,780.9 165.3,780.4 165.3,780.0 165.3,779.5 165.4,779.0 165.5,778.5 165.7,778.1 165.8,777.8 164.7,777.0 164.5,776.9 164.4,776.8 163.6,776.3 162.3,776.6 161.8,776.7 161.4,776.7 160.9,776.7 160.5,776.6 160.0,776.6 159.0,777.1 158.6,777.3 158.1,777.4 157.7,777.5ZM129.6,841.7 130.0,844.4 136.2,854.3 149.6,873.0 163.1,889.2 176.5,905.3 189.9,918.7 194.4,922.6 187.8,911.6 177.1,898.3 163.6,882.0 163.3,881.7 149.8,862.8 136.7,847.1ZM190.8,478.5 191.0,478.3 191.4,478.0 191.8,477.7 191.9,477.7 191.2,472.5 190.9,472.1 188.7,473.2 188.7,476.2 190.1,477.6 190.4,478.0 190.7,478.4ZM150.9,574.1 153.3,577.6 158.3,576.4 162.2,566.6 160.5,559.2 158.2,558.8 153.0,564.1ZM92.8,773.6 94.3,777.1 94.4,776.9 94.8,776.5 95.1,776.2 95.5,775.9 96.0,775.6 96.4,775.4 96.9,775.2 97.3,775.1 97.8,775.0 98.3,775.0 103.1,775.0 103.5,775.0 104.0,775.1 104.5,775.2 104.9,775.3 105.3,775.5 107.1,776.4 107.5,776.7 108.0,777.0 108.4,777.3 116.1,785.1 124.1,790.1 128.9,787.8 134.0,781.6 134.7,775.0 133.6,775.0 133.1,775.0 132.6,774.9 132.1,774.8 131.6,774.6 131.2,774.4 130.8,774.1 130.4,773.8 130.0,773.5 129.7,773.1 129.4,772.7 129.1,772.3 128.9,771.9 128.8,771.4 128.7,770.9 128.6,770.4 128.6,769.9 128.6,769.4 128.7,768.9 128.8,768.5 129.0,768.0 129.2,767.6 129.5,767.1 129.8,766.7 129.8,753.2 124.8,743.3 124.6,742.8 124.5,742.3 121.7,731.4 121.7,731.0 121.6,730.5 121.6,730.0 121.6,729.5 121.7,729.0 121.9,728.6 122.1,728.1 122.3,727.7 122.5,727.3 122.8,726.9 123.2,726.6 123.5,726.3 123.9,726.0 124.4,725.8 135.2,720.3 135.7,720.1 136.2,720.0 136.7,719.9 137.2,719.8 137.7,719.8 138.2,719.8 138.7,719.9 139.1,720.1 139.6,720.3 140.1,720.5 140.5,720.8 143.4,722.9 143.4,719.3 143.4,718.9 143.5,718.4 146.2,704.8 146.2,704.5 148.8,694.3 148.8,670.7 146.1,649.4 143.5,633.7 139.3,623.2 135.5,622.6 130.3,625.2 125.6,634.5 125.4,635.0 125.1,635.4 124.7,635.8 124.3,636.2 123.9,636.5 123.5,636.7 123.0,637.0 109.4,642.4 109.0,642.5 108.5,642.7 99.0,644.6 99.0,654.1 98.9,654.5 98.9,654.9 96.2,671.2 96.1,671.7 95.9,672.2 95.7,672.6 87.7,688.6 82.7,703.5 85.3,724.0 90.7,751.0 90.7,751.0 94.2,769.0 94.3,769.5 94.3,770.0 94.3,770.5 94.2,771.0 94.1,771.5 93.9,771.9 93.7,772.4 93.4,772.8 93.2,773.2 92.8,773.5Z" fill="#ffd000"/>
<path d="M235.4,283.8 221.8,293.4 208.2,304.2 210.9,312.4 219.1,307.0 230.0,298.8 240.8,290.6 250.3,282.5 246.3,277.0ZM389.4,313.8 384.0,307.0 371.7,309.7 370.4,317.8 378.5,319.2ZM405.9,377.9 395.9,369.9 385.9,373.9 385.9,383.9 391.9,391.9 399.9,407.8 407.9,419.8 413.9,415.8 415.8,399.8 411.9,387.9ZM190.5,402.1 186.4,394.0 178.3,396.7 178.3,407.6 185.1,410.3ZM85.6,797.2 84.5,793.6 83.4,790.0 82.3,786.4 81.3,782.8 80.3,779.1 79.4,775.5 78.4,771.9 77.5,768.3 76.7,764.6 75.8,761.0 75.0,757.3 74.3,753.7 73.4,750.1 72.5,746.5 71.7,742.9 70.9,739.2 70.1,735.6 69.4,732.0 68.7,728.3 68.1,724.7 67.4,721.1 66.8,717.4 66.2,713.8 65.7,710.1 65.2,706.5 64.7,702.8 64.3,699.2 63.9,695.5 63.4,691.9 62.9,688.2 62.4,684.6 62.0,681.0 61.6,677.3 61.2,673.7 60.9,670.0 60.6,666.4 60.3,662.7 60.1,659.1 59.9,655.4 59.7,651.7 59.6,648.1 59.5,644.4 59.4,640.8 59.4,637.1 59.3,633.5 59.4,629.8 59.4,626.2 59.5,622.5 59.5,618.8 59.5,615.2 59.5,611.5 59.6,607.9 59.6,604.2 59.8,600.6 59.9,596.9 60.1,593.3 60.3,589.6 60.6,586.0 60.9,582.3 61.2,578.7 61.5,575.1 61.9,571.4 62.3,567.8 62.8,564.1 63.3,560.5 63.8,556.9 64.3,553.3 64.9,549.7 65.2,546.0 65.6,542.3 65.9,538.7 66.4,535.0 66.8,531.3 67.3,527.7 67.8,524.0 68.4,520.4 69.0,516.7 69.6,513.1 70.2,509.4 70.9,505.8 71.7,502.1 72.5,498.5 73.4,494.9 74.3,491.3 75.2,487.7 76.2,484.1 77.1,480.5 78.2,477.0 79.3,473.4 80.5,469.9 81.7,466.4 82.9,462.9 84.2,459.4 85.5,455.9 86.8,452.4 88.2,448.9 89.6,445.5 91.0,442.0 92.5,438.6 94.1,435.3 95.7,431.9 97.3,428.5 98.9,425.2 100.6,421.8 102.3,418.5 104.0,415.2 105.8,411.9 107.6,408.6 109.4,405.4 111.3,402.1 113.1,398.9 115.0,395.7 117.1,392.6 119.1,389.4 121.2,386.3 123.3,383.3 125.4,380.2 127.6,377.2 129.8,374.1 132.0,371.1 134.3,368.1 136.5,365.2 138.8,362.2 141.1,359.3 143.5,356.4 145.9,353.5 148.3,350.7 150.7,347.9 153.2,345.1 155.6,342.3 158.1,339.5 160.7,336.8 163.2,334.1 165.8,331.4 168.4,328.7 171.0,326.1 173.7,323.4 176.3,320.8 179.0,318.3 181.7,315.7 184.4,313.1 187.1,310.5 189.8,308.0 192.5,305.5 195.3,303.0 198.1,300.5 200.9,298.1 203.7,295.6 206.6,293.2 209.4,290.9 212.3,288.5 215.2,286.2 218.2,283.9 221.1,281.6 224.1,279.4 227.1,277.1 230.1,274.9 233.1,272.8 236.2,270.6 239.2,268.5 242.1,266.1 245.0,263.7 247.9,261.3 250.8,259.0 253.8,256.6 256.8,254.3 256.4,253.7 252.3,256.2 252.3,256.3 247.8,259.0 247.8,259.0 243.4,261.9 243.4,261.9 239.0,264.8 239.0,264.8 234.6,267.8 234.6,267.8 230.3,270.8 230.3,270.8 226.0,273.8 226.0,273.8 221.7,277.0 221.7,277.0 217.5,280.1 217.5,280.1 213.3,283.3 213.3,283.4 209.2,286.6 209.2,286.6 205.1,289.9 205.1,290.0 201.0,293.3 201.0,293.3 197.0,296.7 197.0,296.8 193.0,300.2 193.0,300.2 189.1,303.7 189.1,303.7 185.2,307.3 185.2,307.3 181.4,310.9 181.4,310.9 177.6,314.6 177.6,314.6 173.8,318.3 173.8,318.3 170.1,322.1 170.1,322.1 166.4,325.9 166.4,325.9 162.8,329.7 162.8,329.7 159.2,333.6 159.2,333.6 155.7,337.5 155.7,337.5 152.3,341.5 152.2,341.5 148.8,345.5 148.8,345.5 145.5,349.6 145.4,349.6 142.1,353.7 142.1,353.7 138.9,357.8 138.8,357.8 135.6,362.0 135.6,362.0 132.5,366.2 132.5,366.2 129.3,370.5 129.3,370.5 126.3,374.8 126.3,374.8 123.3,379.1 123.3,379.1 120.3,383.5 120.3,383.5 117.4,387.9 117.4,387.9 114.5,392.3 114.5,392.3 111.8,396.8 111.7,396.8 109.0,401.3 109.0,401.3 106.3,405.9 106.3,405.9 103.7,410.4 103.7,410.5 101.1,415.1 101.1,415.1 98.6,419.7 98.6,419.7 96.1,424.4 96.1,424.4 93.7,429.1 93.7,429.1 91.4,433.8 91.4,433.8 89.1,438.6 89.1,438.6 86.9,443.3 86.9,443.4 84.7,448.2 84.7,448.2 82.6,453.0 82.6,453.0 80.5,457.9 80.5,457.9 78.6,462.8 78.6,462.8 76.6,467.7 76.6,467.7 74.8,472.6 74.8,472.6 72.9,477.6 72.9,477.6 71.2,482.5 71.2,482.6 69.5,487.5 69.5,487.6 67.9,492.6 67.9,492.6 66.3,497.6 66.3,497.6 64.8,502.7 64.8,502.7 63.4,507.8 63.4,507.8 62.0,512.9 62.0,512.9 60.7,518.0 60.7,518.0 59.4,523.1 59.4,523.1 58.3,528.2 58.3,528.2 57.1,533.4 57.1,533.4 56.1,538.6 56.1,538.6 55.1,543.8 55.1,543.8 54.1,548.9 54.1,549.0 53.3,554.2 53.3,554.2 52.5,559.4 52.5,559.4 51.7,564.6 51.7,564.6 51.0,569.8 51.0,569.8 50.4,575.1 50.4,575.1 49.9,580.3 49.9,580.3 49.4,585.6 49.4,585.6 49.0,590.8 49.0,590.9 48.6,596.1 48.6,596.1 48.3,601.4 48.3,601.4 48.1,606.7 48.1,606.7 47.9,611.9 47.9,611.9 47.8,617.2 47.8,617.2 47.8,622.5 47.8,622.5 47.8,627.8 47.8,627.8 47.9,633.1 47.9,633.1 48.1,638.3 48.1,638.3 48.3,643.6 48.3,643.6 48.6,648.9 48.6,648.9 49.0,654.1 49.0,654.2 49.4,659.4 49.4,659.4 49.9,664.7 49.9,664.7 50.4,669.9 50.4,669.9 51.0,675.2 51.0,675.2 51.7,680.4 51.7,680.4 52.5,685.6 52.5,685.6 53.3,690.8 53.3,690.8 54.1,696.0 54.1,696.1 55.1,701.2 55.1,701.2 56.1,706.4 56.1,706.4 57.1,711.6 57.1,711.6 58.3,716.8 58.3,716.8 59.4,721.9 59.4,721.9 60.7,727.0 60.7,727.0 62.0,732.1 62.0,732.1 63.4,737.2 63.4,737.2 64.8,742.3 64.8,742.3 66.3,747.4 66.3,747.4 67.9,752.4 67.9,752.4 69.5,757.4 69.5,757.5 71.2,762.4 71.2,762.5 72.9,767.4 72.9,767.4 74.8,772.4 74.8,772.4 76.6,777.3 76.6,777.3 78.6,782.2 78.6,782.2 80.5,787.1 80.5,787.1 82.6,792.0 82.6,792.0 84.7,796.8 84.7,796.8 85.0,797.5ZM284.3,518.1 262.6,520.8 235.4,523.5 240.8,548.0 262.6,553.4 278.9,558.9 289.8,561.6 306.1,550.7 317.0,534.4 306.1,523.5ZM152.4,564.3 153.8,575.7 162.5,573.8 160.6,563.0ZM400.3,597.0 389.4,583.4 370.4,575.2 343.2,583.4 340.4,602.4 345.9,621.4 356.8,640.5 370.4,640.5 381.2,626.9 394.8,613.3ZM333.3,635.0 334.7,654.1 345.0,656.8 345.0,632.3ZM145.6,684.0 140.2,656.8 123.9,643.2 104.8,648.6 102.1,665.0 96.7,686.7 91.2,724.8 99.4,741.1 110.3,724.8 121.2,703.0 134.8,697.6ZM181.0,704.4 185.1,719.3 197.3,716.6 194.6,703.0ZM219.1,675.8 219.1,697.6 219.1,703.0 230.0,724.8 246.3,749.3 262.6,746.5 262.6,724.8 257.1,697.6 240.8,675.8ZM416.6,762.9 405.7,754.7 389.4,760.1 386.7,780.0 419.3,780.0ZM99.4,770.0 110.3,783.6 123.9,782.2 126.6,770.0ZM460.1,846.2 481.9,851.6 487.3,838.0 484.6,816.2 465.6,808.1 449.2,808.1 430.2,805.4 403.0,799.9 375.8,791.8 351.3,791.8 335.0,797.2 335.0,798.9 329.2,799.9 330.6,838.0 333.3,859.8 345.0,865.2 345.0,859.1 345.9,859.8 362.2,857.0 375.8,838.0 394.8,832.6 416.6,832.6 438.4,838.0ZM181.0,819.0 186.4,836.6 198.7,832.6 194.6,820.3ZM162.0,878.8 148.4,859.8 136.1,851.6 134.8,859.8 142.9,870.6 156.5,887.0 172.8,906.0 186.4,921.0 191.9,916.9 178.3,897.8ZM289.8,887.0 276.2,878.8 259.9,884.2 270.7,903.3 284.3,906.0ZM297.9,946.8 302.0,960.4 314.3,957.7 310.2,945.4ZM541.7,205.8 568.9,211.2 596.1,218.0 607.0,219.9 596.1,216.7 568.9,208.5 536.3,203.6ZM547.1,230.8 536.3,226.7 522.7,228.1 528.1,233.5 541.7,236.2ZM495.5,339.6 490.0,328.7 476.4,331.4 477.8,346.4 487.3,350.5ZM519.6,423.8 503.6,419.8 487.7,427.8 487.7,443.7 497.6,455.7 511.6,461.7 527.5,465.7 539.5,459.7 545.5,445.7 535.5,433.7ZM633.2,481.0 646.8,478.3 646.8,459.3 635.9,448.4 635.0,448.6 635.0,445.7 617.9,448.4 623.3,472.9 625.0,473.7 625.0,475.6ZM649.5,485.4 654.9,499.0 665.8,495.0 665.8,484.1ZM449.2,509.9 455.6,503.6 459.7,503.6 463.7,491.6 459.7,481.6 443.8,479.6 429.8,483.6 435.8,499.6 440.4,501.1ZM449.2,531.7 450.3,539.0 451.7,560.0 453.3,560.0 454.7,569.8 462.8,586.1 475.3,586.1 477.8,585.7 480.2,586.1 495.5,586.1 503.6,569.8 504.9,560.0 507.6,560.0 507.6,531.5 495.6,525.5 479.7,523.5 463.7,525.5 450.1,531.3ZM635.0,631.1 640.0,626.9 635.9,610.6 635.0,610.6 635.0,586.1 623.3,583.4 607.0,588.8 609.7,610.6 620.6,629.6 625.0,630.4 625.0,632.3 630.4,635.0 633.9,632.1 635.0,632.3ZM564.8,694.9 558.0,684.0 541.7,684.0 543.1,697.6 552.6,701.7ZM541.7,791.8 541.7,810.8 544.4,838.0 552.6,851.6 563.5,846.2 574.3,824.4 579.8,802.6 568.9,789.0ZM646.8,846.2 638.6,829.8 625.0,824.4 625.0,859.8 638.6,857.0ZM590.7,944.1 596.1,930.5 585.2,922.3 583.1,923.0 576.4,929.8 576.3,929.8 576.2,929.9 571.5,937.0 574.3,946.8ZM416.6,933.2 394.8,938.6 405.7,955.0 427.5,960.4 449.2,963.1 471.0,960.4 481.9,949.5 473.7,938.6 449.2,933.2ZM635.0,1014.5 652.2,1009.3 679.4,995.7 695.7,982.1 679.4,987.6 660.4,995.7 641.3,1001.2 635.0,1002.2 635.0,1001.2 632.9,1002.6 625.0,1003.9 625.0,1007.8 612.4,1016.1 596.1,1028.4 579.8,1039.3 582.5,1039.8 582.5,1039.8 582.5,1039.8 587.6,1038.5 587.6,1038.5 592.7,1037.1 592.7,1037.1 597.8,1035.7 597.8,1035.7 602.9,1034.2 602.9,1034.2 607.9,1032.6 607.9,1032.6 612.9,1031.0 613.0,1031.0 617.9,1029.3 618.0,1029.3 622.9,1027.6 622.9,1027.6 627.9,1025.7 627.9,1025.7 632.8,1023.9 632.8,1023.9 635.0,1023.0ZM465.6,1027.8 465.6,1035.2 490.0,1034.4 487.3,1027.8ZM777.3,467.4 769.2,457.9 755.6,459.3 763.7,478.3 777.3,478.3ZM842.6,509.9 853.5,529.0 867.1,550.7 877.9,561.6 883.4,548.0 880.7,520.8 875.2,496.3 865.7,490.0 877.9,490.0 877.9,483.7 869.8,472.9 856.2,467.4 842.6,472.9 842.6,487.5 837.1,488.2ZM829.5,614.6 819.5,614.6 819.5,625.5 829.5,625.5ZM855.6,613.3 855.6,628.2 863.8,628.2 863.8,613.3ZM774.6,713.9 777.3,730.2 790.9,727.5 788.2,713.9ZM820.8,757.4 834.4,746.5 839.9,724.8 831.7,716.6 815.4,724.8 810.0,752.0ZM728.4,749.3 736.5,762.9 747.4,757.4 742.0,746.5ZM812.7,786.3 815.4,770.0 782.8,770.0 785.5,783.6 793.6,791.8ZM727.2,800.9 732.6,815.4 749.0,813.6 747.1,800.9ZM787.0,813.6 772.5,822.6 776.2,840.8 778.5,840.0 780.0,846.2 793.6,838.0 792.1,833.4 801.5,826.3 801.5,811.8ZM812.5,866.1 812.4,866.2 816.0,871.6 825.1,858.9 821.5,855.3ZM671.2,933.2 657.6,955.0 674.0,949.5 695.7,938.6 704.4,930.0 707.3,931.4 721.8,929.6 719.9,916.9 710.9,906.0 701.2,906.0 701.2,906.0 679.4,906.0ZM703.6,971.3 703.6,982.2 718.1,971.3 745.3,953.2 768.9,935.1 761.7,933.2 747.1,940.5 727.2,953.2Z" fill="#ffa400"/>
<path d="M397.9,385.9 403.9,391.9 409.9,389.9 405.9,379.9 395.9,377.9ZM306.1,539.8 303.4,530.3 289.8,529.0 295.2,542.6ZM362.2,607.8 373.1,616.0 384.0,605.1 378.5,588.8 362.2,588.8ZM69.5,755.2 68.7,751.5 68.0,747.9 67.3,744.2 66.6,740.5 65.9,736.8 65.3,733.1 64.7,729.4 64.2,725.7 63.5,722.0 62.9,718.3 62.3,714.6 61.8,711.0 61.3,707.3 60.8,703.6 60.4,699.9 59.9,696.2 59.4,692.5 59.0,688.9 58.5,685.2 58.1,681.5 57.8,677.8 57.4,674.1 57.1,670.5 56.8,666.8 56.6,663.1 56.4,659.4 56.2,655.7 56.0,652.0 55.9,648.3 55.8,644.6 55.8,640.9 55.8,637.2 55.6,633.6 55.6,629.9 55.5,626.2 55.5,622.5 55.5,618.8 55.6,615.1 55.6,611.4 55.8,607.8 55.9,604.1 56.1,600.4 56.3,596.7 56.5,593.0 56.8,589.4 57.1,585.7 57.4,582.0 57.8,578.3 58.0,574.6 58.2,570.9 58.4,567.3 58.6,563.6 58.9,559.9 59.2,556.2 59.6,552.5 59.9,548.8 60.4,545.1 60.8,541.4 61.3,537.7 61.8,534.0 62.1,530.3 62.4,526.6 62.8,522.8 63.2,519.1 63.6,515.3 64.1,511.6 64.6,507.9 65.1,504.1 64.5,503.9 63.4,507.8 63.4,507.8 62.0,512.9 62.0,512.9 60.7,518.0 60.7,518.0 59.4,523.1 59.4,523.1 58.3,528.2 58.3,528.2 57.1,533.4 57.1,533.4 56.1,538.6 56.1,538.6 55.1,543.8 55.1,543.8 54.1,548.9 54.1,549.0 53.3,554.2 53.3,554.2 52.5,559.4 52.5,559.4 51.7,564.6 51.7,564.6 51.0,569.8 51.0,569.8 50.4,575.1 50.4,575.1 49.9,580.3 49.9,580.3 49.4,585.6 49.4,585.6 49.0,590.8 49.0,590.9 48.6,596.1 48.6,596.1 48.3,601.4 48.3,601.4 48.1,606.7 48.1,606.7 47.9,611.9 47.9,611.9 47.8,617.2 47.8,617.2 47.8,622.5 47.8,622.5 47.8,627.8 47.8,627.8 47.9,633.1 47.9,633.1 48.1,638.3 48.1,638.3 48.3,643.6 48.3,643.6 48.6,648.9 48.6,648.9 49.0,654.1 49.0,654.2 49.4,659.4 49.4,659.4 49.9,664.7 49.9,664.7 50.4,669.9 50.4,669.9 51.0,675.2 51.0,675.2 51.7,680.4 51.7,680.4 52.5,685.6 52.5,685.6 53.3,690.8 53.3,690.8 54.1,696.0 54.1,696.1 55.1,701.2 55.1,701.2 56.1,706.4 56.1,706.4 57.1,711.6 57.1,711.6 58.3,716.8 58.3,716.8 59.4,721.9 59.4,721.9 60.7,727.0 60.7,727.0 62.0,732.1 62.0,732.1 63.4,737.2 63.4,737.2 64.8,742.3 64.8,742.3 66.3,747.4 66.3,747.4 67.9,752.4 67.9,752.4 68.9,755.4ZM106.0,700.0 130.0,705.0 146.0,690.0 140.0,660.0 104.0,662.0ZM257.1,738.4 251.7,724.8 238.1,727.5 246.3,743.8ZM112.0,760.0 110.0,736.0 106.9,736.4 104.8,730.2 94.0,732.9 95.4,737.9 95.0,738.0 98.0,762.0ZM345.0,795.8 334.7,797.2 336.0,810.8 345.0,813.5ZM509.6,453.7 525.5,457.7 531.5,447.7 519.6,437.7 503.6,435.7ZM852.1,512.6 861.6,520.8 872.5,512.6 867.1,496.3 850.7,499.0ZM462.6,560.0 462.8,561.6 468.3,580.6 490.0,580.6 498.2,561.6 497.6,558.2 497.6,541.5 487.7,536.5 471.7,535.5 459.7,539.5 461.7,560.0ZM833.1,728.9 822.2,728.9 822.2,742.5 833.1,742.5ZM460.1,810.8 438.4,813.5 443.8,829.8 460.1,838.0 476.4,840.7 484.6,832.6 481.9,816.2ZM703.9,935.9 701.2,922.3 687.6,922.3 690.3,938.6ZM438.4,957.7 465.6,957.7 471.0,946.8 454.7,938.6 427.5,938.6ZM610.2,1031.9 612.9,1031.0 613.0,1031.0 617.9,1029.3 618.0,1029.3 622.9,1027.6 622.9,1027.6 627.9,1025.7 627.9,1025.7 632.8,1023.9 632.8,1023.9 635.0,1023.0 635.0,1016.4 635.9,1016.1 641.3,1006.6 625.0,1009.3 625.0,1014.1 617.9,1017.5 601.5,1028.4Z" fill="#ff6a00"/>
<path d="M141.0,684.0 136.0,667.0 118.0,670.0 117.0,688.0 128.0,693.0ZM455.0,808.0 462.0,835.0 478.0,830.0 475.0,806.0ZM616.4,1007.4 611.8,1011.3 604.5,1017.4 610.0,1024.0 632.0,1015.0 625.0,1005.0Z" fill="#ff3c00"/>
</g></g>
<path d="M1236.6,459.3 1250.2,459.3 1258.4,451.1 1269.2,445.7 1280.1,441.6 1291.0,438.9 1307.3,436.1 1318.2,438.9 1326.4,432.1 1337.2,423.9 1350.8,418.5 1367.1,410.3 1383.5,404.9 1399.8,396.7 1418.8,385.8 1432.4,375.0 1432.4,358.6 1440.0,348.5 1440.0,355.9 1467.2,353.2 1480.8,350.5 1508.0,347.8 1516.2,342.3 1510.7,334.2 1513.4,320.6 1521.6,315.1 1535.2,309.7 1548.8,304.2 1562.4,298.8 1576.0,293.4 1592.3,289.3 1608.6,287.9 1625.0,290.6 1641.3,296.1 1657.6,300.2 1671.2,304.2 1684.8,309.7 1698.4,315.1 1712.0,323.3 1728.3,336.9 1740.0,342.3 1740.0,332.3 1752.2,339.6 1765.8,350.5 1779.4,358.6 1787.6,355.9 1803.9,353.2 1814.8,355.9 1833.8,361.4 1847.4,366.8 1855.6,366.8 1866.4,364.1 1888.2,364.1 1904.5,366.8 1915.4,380.4 1920.8,399.4 1927.6,404.9 1942.6,434.8 1979.7,459.6 1978.8,457.6 1976.8,452.8 1974.7,448.0 1972.6,443.2 1970.4,438.5 1968.1,433.8 1965.8,429.1 1963.4,424.5 1961.0,419.9 1958.5,415.3 1956.0,410.7 1953.4,406.2 1950.7,401.7 1948.0,397.2 1945.2,392.8 1942.4,388.4 1939.5,384.1 1936.6,379.8 1933.6,375.5 1930.6,371.2 1927.5,367.0 1924.4,362.8 1921.2,358.7 1918.0,354.6 1914.7,350.6 1911.3,346.5 1908.0,342.6 1904.5,338.6 1901.1,334.8 1897.5,330.9 1893.9,327.1 1890.3,323.4 1886.7,319.6 1882.9,316.0 1879.2,312.4 1875.4,308.8 1871.5,305.2 1867.7,301.8 1863.7,298.3 1859.8,295.0 1855.7,291.6 1851.7,288.3 1847.6,285.1 1843.5,281.9 1839.3,278.8 1835.1,275.7 1830.8,272.7 1826.5,269.7 1822.2,266.8 1817.9,263.9 1813.5,261.1 1809.1,258.3 1804.6,255.6 1800.1,252.9 1795.6,250.3 1791.0,247.8 1786.4,245.3 1781.8,242.9 1777.2,240.5 1772.5,238.2 1767.8,235.9 1763.1,233.7 1758.3,231.6 1753.5,229.5 1748.7,227.5 1743.9,225.5 1739.0,223.6 1734.1,221.7 1729.2,220.0 1724.3,218.2 1719.4,216.6 1714.4,215.0 1709.4,213.4 1704.4,211.9 1699.4,210.5 1694.4,209.1 1689.3,207.8 1684.2,206.6 1679.2,205.4 1674.1,204.3 1669.0,203.3 1663.8,202.3 1658.7,201.4 1653.5,200.5 1648.4,199.7 1643.2,199.0 1642.5,198.9 1641.5,198.9 1637.8,198.8 1634.0,198.8 1630.3,198.8 1626.6,198.8 1622.9,198.9 1619.2,198.7 1615.5,198.4 1611.8,198.2 1608.1,198.1 1604.4,198.0 1600.8,197.9 1597.1,197.8 1593.4,197.8 1589.7,197.8 1586.0,197.8 1582.3,197.9 1578.6,198.0 1574.9,198.1 1571.3,198.3 1567.6,198.5 1563.9,198.7 1560.2,198.9 1556.6,199.2 1552.9,199.6 1549.2,199.9 1545.6,200.2 1541.9,200.6 1538.2,201.0 1534.6,201.4 1530.9,201.9 1527.3,202.4 1523.6,202.9 1520.0,203.5 1516.3,204.1 1512.7,204.7 1509.1,205.4 1505.5,206.1 1501.9,206.8 1498.3,207.5 1494.7,208.3 1491.1,209.1 1487.5,210.0 1483.9,210.8 1480.4,211.9 1476.9,213.0 1473.4,214.2 1469.9,215.4 1466.4,216.6 1462.9,217.8 1459.5,219.1 1456.1,220.4 1452.6,221.5 1449.1,222.7 1445.6,223.9 1442.2,225.2 1438.7,226.4 1435.3,227.7 1431.9,229.1 1428.5,230.4 1431.0,226.7 1433.2,223.5 1433.0,223.6 1428.1,225.5 1423.3,227.5 1418.5,229.5 1413.7,231.6 1408.9,233.7 1404.2,235.9 1399.5,238.2 1394.8,240.5 1390.2,242.9 1385.6,245.3 1381.0,247.8 1376.4,250.3 1371.9,252.9 1367.4,255.6 1362.9,258.3 1358.5,261.1 1354.1,263.9 1349.8,266.8 1345.5,269.7 1341.2,272.7 1336.9,275.7 1332.7,278.8 1328.5,281.9 1324.4,285.1 1320.3,288.3 1316.3,291.6 1312.2,295.0 1308.3,298.3 1304.3,301.8 1300.5,305.2 1296.6,308.8 1292.8,312.4 1289.1,316.0 1285.3,319.6 1281.7,323.4 1278.1,327.1 1274.5,330.9 1270.9,334.8 1267.5,338.6 1264.0,342.6 1260.7,346.5 1257.3,350.6 1254.0,354.6 1250.8,358.7 1247.6,362.8 1244.5,367.0 1241.4,371.2 1238.4,375.5 1235.4,379.8 1232.5,384.1 1229.6,388.4 1226.8,392.8 1224.0,397.2 1221.3,401.7 1218.6,406.2 1216.0,410.7 1213.5,415.3 1211.0,419.9 1208.6,424.5 1206.2,429.1 1203.9,433.8 1201.6,438.5 1199.4,443.2 1197.3,448.0 1195.2,452.8 1193.2,457.6 1191.2,462.4 1189.3,467.3 1187.4,472.2 1185.7,477.1 1183.9,482.0 1182.3,486.9 1181.3,490.0 1182.2,490.0 1195.8,475.6 1213.5,451.1 1225.7,451.1ZM1646.7,260.7 1625.0,259.4 1608.6,262.1 1600.0,264.2 1600.0,270.9 1588.0,272.3 1574.3,275.0 1560.6,279.2 1546.9,280.5 1533.2,283.3 1519.5,284.7 1505.8,286.0 1492.0,288.8 1478.3,291.5 1464.6,290.1 1450.9,288.8 1437.2,286.0 1423.5,288.8 1409.7,290.1 1401.5,294.3 1409.7,283.3 1423.5,275.0 1437.2,268.2 1450.9,262.7 1464.6,255.8 1478.3,249.0 1492.0,243.5 1505.8,236.6 1514.0,231.2 1535.0,231.0 1551.6,233.4 1554.2,230.8 1562.4,225.4 1586.9,225.4 1603.2,224.0 1616.8,219.9 1635.8,221.3 1657.6,224.0 1679.3,228.1 1695.7,233.5 1712.0,241.7 1725.0,248.2 1725.0,279.6 1698.4,271.6 1671.2,266.2ZM1744.0,283.8 1741.3,271.6 1749.5,266.2 1760.4,268.9 1763.1,277.0 1757.6,285.2ZM1798.4,285.2 1798.4,279.8 1814.8,277.0 1828.4,282.5 1836.5,293.4 1836.5,304.2 1822.9,301.5 1806.6,293.4ZM1371.2,331.4 1371.2,327.4 1376.7,327.4 1376.7,331.4ZM1345.4,368.2 1355.7,366.2 1349.5,380.4 1340.0,394.0 1329.1,404.9 1318.2,415.7 1311.4,418.5 1318.2,407.6 1329.1,396.7 1337.2,380.4ZM1380.7,499.5 1378.0,510.4 1383.5,521.2 1394.3,524.0 1405.2,510.4 1416.1,504.9 1425.6,491.3 1418.8,475.0 1414.8,475.0 1413.4,472.9 1399.8,471.5 1394.2,475.0 1391.6,475.0 1380.7,485.9ZM1231.2,499.5 1228.4,485.9 1217.6,491.3 1218.9,507.6 1225.7,510.4ZM1190.4,570.2 1195.8,562.0 1199.9,545.7 1198.5,532.1 1190.4,534.8 1184.9,551.2 1182.2,570.2ZM1394.3,597.4 1403.9,589.2 1399.8,581.1 1388.9,579.7 1379.4,583.8 1383.5,596.0ZM1164.8,613.7 1164.8,649.1 1168.6,649.1 1168.6,613.7ZM1391.0,719.6 1391.6,722.5 1402.5,719.8 1399.8,708.9 1393.6,709.7 1394.3,706.2 1391.6,687.1 1388.9,670.8 1383.5,660.0 1375.3,645.0 1361.7,642.3 1345.4,646.4 1329.1,654.5 1326.4,670.8 1329.1,687.1 1334.5,703.5 1342.7,711.6 1353.5,714.3 1367.1,711.6 1380.7,717.1ZM1272.0,787.2 1270.7,775.0 1295.1,775.0 1296.4,776.3 1310.0,770.9 1312.8,760.0 1307.5,760.0 1312.1,748.6 1312.8,757.9 1318.2,768.7 1331.8,763.3 1345.4,757.9 1350.8,747.0 1345.4,736.1 1342.7,725.2 1331.8,719.8 1318.2,714.3 1310.0,719.8 1312.8,706.2 1307.3,692.6 1296.4,687.1 1282.8,689.9 1269.2,695.3 1255.6,692.6 1250.2,681.7 1244.8,670.8 1236.6,665.4 1228.4,662.7 1217.6,660.0 1206.7,643.6 1201.2,627.3 1199.9,608.3 1193.1,611.0 1193.1,627.3 1187.6,643.6 1171.3,651.8 1165.9,665.4 1163.2,665.4 1163.4,667.2 1164.0,672.3 1164.7,677.5 1165.4,682.7 1166.2,687.8 1167.1,693.0 1168.0,698.1 1169.0,703.3 1170.0,708.4 1171.1,713.5 1172.3,718.5 1173.5,723.6 1174.8,728.7 1176.2,733.7 1177.6,738.7 1179.1,743.7 1180.7,748.7 1182.3,753.7 1183.9,758.6 1185.7,763.5 1187.4,768.4 1189.3,773.3 1191.2,778.2 1193.2,783.0 1195.2,787.8 1197.3,792.6 1199.4,797.4 1201.6,802.1 1203.9,806.8 1206.2,811.5 1208.6,816.1 1211.0,820.7 1213.5,825.3 1216.0,829.9 1218.6,834.4 1221.3,838.9 1224.0,843.4 1226.8,847.8 1229.6,852.2 1232.5,856.5 1235.4,860.8 1238.4,865.1 1241.4,869.4 1244.5,873.6 1247.6,877.8 1250.8,881.9 1254.0,886.0 1257.3,890.0 1260.7,894.1 1264.0,898.0 1267.5,902.0 1270.9,905.8 1274.5,909.7 1278.1,913.5 1281.7,917.2 1285.3,921.0 1289.1,924.6 1292.8,928.2 1296.6,931.8 1300.5,935.4 1304.3,938.8 1308.3,942.3 1312.2,945.6 1316.3,949.0 1320.3,952.3 1324.4,955.5 1328.5,958.7 1332.7,961.8 1336.9,964.9 1341.2,967.9 1345.5,970.9 1349.8,973.8 1354.1,976.7 1358.5,979.5 1362.9,982.3 1367.4,985.0 1371.9,987.7 1376.4,990.3 1381.0,992.8 1385.6,995.3 1390.2,997.7 1394.8,1000.1 1399.5,1002.4 1404.2,1004.7 1408.9,1006.9 1413.7,1009.0 1418.5,1011.1 1423.3,1013.1 1428.1,1015.1 1433.0,1017.0 1437.9,1018.9 1442.8,1020.6 1447.7,1022.4 1452.6,1024.0 1457.6,1025.6 1462.6,1027.2 1467.6,1028.7 1472.6,1030.1 1477.6,1031.5 1482.7,1032.8 1487.8,1034.0 1492.8,1035.2 1497.9,1036.3 1503.0,1037.3 1508.2,1038.3 1513.3,1039.2 1518.5,1040.1 1523.6,1040.9 1528.8,1041.6 1534.0,1042.3 1536.0,1042.5 1535.2,1034.7 1521.6,1030.6 1505.3,1025.2 1489.0,1019.7 1472.6,1012.9 1456.3,1006.1 1455.0,1005.6 1455.0,991.2 1437.9,987.1 1421.5,980.3 1405.2,974.9 1401.6,973.7 1410.7,972.1 1424.3,964.0 1416.1,953.1 1405.2,947.7 1386.2,947.7 1372.6,945.0 1356.3,936.8 1345.4,931.4 1334.5,923.2 1323.6,912.3 1312.8,898.7 1301.9,887.8 1291.0,879.7 1282.8,874.2 1277.4,863.4 1269.2,849.8 1258.4,836.2 1248.6,826.4 1258.4,822.6 1263.8,814.4 1269.2,800.8ZM1311.8,744.6 1307.3,733.4 1310.0,719.8ZM1236.6,833.4 1242.0,844.3 1250.2,857.9 1258.4,871.5 1266.5,885.1 1274.7,896.0 1261.1,879.7 1247.5,860.6 1233.9,838.9 1220.3,814.4 1206.7,787.2 1201.8,775.0 1203.3,775.0 1212.1,792.6 1223.0,814.4 1231.2,825.3 1236.6,826.4ZM1323.6,942.2 1307.3,928.6 1296.4,917.8 1307.3,925.9 1318.2,936.8ZM1266.5,730.7 1258.4,732.0 1255.6,717.1 1263.8,714.3ZM1413.4,806.2 1410.7,795.4 1399.8,781.8 1394.3,760.0 1389.3,760.0 1380.7,757.9 1376.5,760.0 1369.9,760.0 1370.4,763.1 1369.9,763.3 1367.1,775.0 1372.4,775.0 1372.6,776.3 1380.7,792.6 1386.2,809.0 1394.3,822.6 1407.9,819.8ZM1409.3,833.4 1410.7,841.6 1421.5,852.5 1432.4,852.5 1437.9,844.3 1429.7,833.4 1418.8,828.0ZM1456.3,874.2 1467.2,877.0 1475.4,879.7 1483.5,887.8 1489.0,898.7 1502.6,893.3 1510.7,885.1 1518.9,874.2 1527.0,863.4 1537.9,855.2 1548.8,852.5 1565.1,849.8 1576.0,847.0 1586.9,849.8 1597.8,844.3 1595.0,836.2 1584.2,825.3 1565.1,822.6 1548.8,819.8 1529.8,817.1 1510.7,819.8 1497.1,825.3 1494.4,836.2 1486.2,847.0 1475.4,852.5 1461.8,847.0 1455.0,848.7 1455.0,847.0 1444.9,851.3 1440.0,852.5 1440.0,863.4 1445.0,866.7 1446.0,871.5 1455.0,874.2 1455.0,873.4ZM1386.2,877.0 1388.9,883.8 1398.4,882.4 1395.7,875.6ZM1369.9,925.9 1361.7,917.8 1354.9,920.5 1357.6,931.4 1365.8,934.1ZM1576.0,429.3 1581.4,445.7 1585.4,444.7 1585.4,443.6 1589.7,443.6 1592.3,442.9 1603.2,434.8 1619.5,432.1 1630.4,434.8 1641.3,440.2 1644.6,443.6 1646.1,443.6 1645.8,444.8 1649.4,448.4 1646.7,462.0 1641.5,475.0 1625.3,475.0 1623.5,476.3 1619.5,485.7 1619.5,485.9 1616.8,496.8 1613.2,497.5 1612.6,498.9 1607.6,498.6 1603.2,499.5 1602.0,498.2 1598.1,498.0 1596.7,493.0 1595.0,491.3 1593.9,484.6 1587.2,476.3 1586.4,472.9 1581.4,464.7 1567.8,459.3 1548.8,459.3 1532.5,464.7 1529.8,490.0 1530.0,490.0 1529.8,491.3 1527.0,507.6 1521.6,524.0 1510.7,534.8 1494.4,537.6 1478.1,545.7 1469.9,556.6 1475.4,570.2 1489.0,578.4 1502.6,589.2 1513.4,602.8 1521.6,611.0 1529.8,611.0 1535.2,600.1 1546.1,594.7 1557.0,589.2 1570.6,583.8 1586.9,582.4 1603.2,586.5 1614.1,594.7 1619.5,589.2 1625.0,572.9 1630.4,556.6 1641.3,540.3 1652.1,524.0 1657.6,507.6 1665.7,491.3 1665.7,475.0 1665.5,475.0 1671.2,467.4 1676.6,456.5 1679.3,445.7 1684.8,440.2 1698.4,432.1 1712.0,429.3 1740.0,434.8 1740.0,424.9 1746.8,426.6 1760.4,429.3 1774.0,429.3 1784.8,434.8 1793.0,442.9 1798.4,453.8 1806.6,459.3 1812.0,448.4 1814.8,434.8 1820.2,423.9 1833.8,421.2 1844.7,413.0 1852.8,402.1 1852.8,391.3 1844.7,380.4 1833.8,369.5 1820.2,364.1 1806.6,361.4 1795.7,364.1 1787.6,369.5 1779.4,375.0 1765.8,377.7 1752.2,380.4 1738.6,385.8 1725.0,391.3 1725.0,396.5 1712.0,391.3 1701.1,383.1 1690.2,372.2 1673.9,364.1 1663.0,353.2 1657.6,342.3 1652.1,331.4 1644.0,323.3 1630.4,321.9 1616.8,323.3 1603.2,326.0 1592.3,331.4 1581.4,334.2 1567.8,336.9 1548.8,339.6 1529.8,342.3 1516.2,347.8 1521.6,366.8 1527.0,375.0 1535.2,380.4 1548.8,385.8 1559.7,396.7 1570.6,404.9 1576.0,413.0ZM1746.8,651.8 1754.9,646.4 1752.2,638.2 1744.0,619.2 1746.8,605.6 1754.9,597.4 1768.5,594.7 1779.4,592.0 1787.6,583.8 1787.6,567.5 1798.4,562.0 1812.0,556.6 1825.6,553.9 1828.4,545.7 1820.2,541.6 1806.6,540.3 1795.7,543.0 1782.1,540.3 1771.2,529.4 1763.1,522.6 1741.3,524.0 1740.0,524.2 1740.0,521.2 1728.3,518.5 1720.1,526.7 1706.5,543.0 1692.9,556.6 1679.3,570.2 1679.3,589.2 1684.8,611.0 1690.2,627.3 1698.4,632.8 1712.0,638.2 1725.6,649.1 1735.9,649.1ZM1760.4,570.2 1741.3,577.0 1735.9,564.8 1757.6,559.3ZM1448.7,616.4 1450.1,627.3 1455.0,627.3 1455.0,615.1ZM1592.3,679.0 1581.4,681.7 1573.3,687.1 1570.6,698.0 1570.6,719.8 1573.3,741.5 1570.6,755.1 1556.0,760.0 1554.2,760.0 1553.7,760.8 1537.9,766.0 1536.3,771.4 1529.8,773.6 1532.5,781.8 1535.2,792.6 1532.5,806.2 1540.6,814.4 1543.4,809.0 1548.8,800.8 1559.7,803.5 1567.8,800.8 1567.8,787.2 1572.7,775.0 1581.4,775.0 1586.9,768.7 1597.8,763.3 1608.6,760.6 1625.0,760.6 1635.8,755.1 1646.7,747.0 1652.1,736.1 1657.6,727.9 1668.5,719.8 1679.3,708.9 1679.3,687.1 1673.9,670.8 1676.6,660.0 1679.3,638.2 1679.3,616.4 1671.2,605.6 1657.6,602.8 1646.7,594.7 1635.8,589.2 1625.0,583.8 1614.1,594.7 1619.5,600.1 1625.0,611.0 1627.7,627.3 1625.0,643.6 1622.2,660.0 1614.1,670.8 1603.2,676.3ZM1543.4,698.0 1537.9,706.2 1541.2,714.3 1546.6,700.7ZM1722.9,776.3 1731.0,789.9 1740.0,792.6 1740.0,790.9 1747.1,796.6 1758.9,806.0 1770.7,789.5 1780.1,777.7 1782.0,775.0 1787.6,775.0 1793.0,760.6 1798.4,744.3 1801.2,725.2 1787.6,717.1 1774.0,719.8 1757.6,714.3 1746.8,703.5 1740.0,694.5 1740.0,684.4 1725.6,687.1 1712.0,692.6 1709.3,719.8 1712.0,747.0 1714.7,775.0 1722.4,775.0ZM1682.1,912.3 1692.9,906.9 1690.2,898.7 1679.3,896.0 1671.2,901.4 1673.9,909.6ZM1570.6,1004.8 1573.3,1012.9 1565.1,1018.4 1567.8,1023.8 1586.9,1025.2 1603.2,1025.2 1608.6,1021.1 1616.8,1018.4 1630.4,1015.7 1644.0,1015.7 1657.6,1014.3 1671.2,1014.3 1684.8,1014.3 1698.4,1012.9 1712.0,1010.2 1725.6,1007.5 1740.0,1004.8 1740.0,1000.0 1775.4,1000.0 1780.1,989.9 1784.9,978.1 1789.6,966.3 1794.3,952.1 1799.0,940.4 1806.1,930.9 1817.9,926.2 1832.0,919.1 1841.4,912.1 1850.9,900.3 1860.3,886.1 1869.7,872.0 1876.8,857.9 1879.1,843.7 1883.9,829.6 1888.6,810.7 1895.6,794.2 1902.7,775.4 1909.8,754.1 1910.2,751.7 1915.4,736.1 1918.1,722.5 1912.7,714.3 1901.8,719.8 1899.1,727.9 1894.2,740.0 1886.2,740.0 1883.9,756.5 1881.8,763.6 1874.6,775.0 1878.5,775.0 1874.4,787.1 1869.7,803.6 1862.6,817.8 1855.6,829.6 1846.1,839.0 1834.4,848.4 1824.9,857.9 1817.9,867.3 1817.9,876.7 1827.3,879.1 1822.6,886.1 1813.1,893.2 1803.7,900.3 1794.3,905.0 1782.5,909.7 1770.7,914.4 1758.9,921.5 1747.1,926.2 1740.0,927.2 1740.0,923.2 1725.6,928.6 1712.9,933.7 1700.0,938.0 1700.0,938.9 1698.4,939.5 1684.8,945.0 1671.2,947.7 1657.6,953.1 1646.7,955.8 1630.4,950.4 1616.8,950.4 1603.2,947.7 1597.8,939.5 1586.9,934.1 1570.6,931.4 1554.2,928.6 1537.9,925.9 1521.6,925.9 1508.0,931.4 1510.7,945.0 1516.2,955.8 1521.6,966.7 1532.5,974.9 1543.4,983.0 1554.2,988.5 1562.4,996.6ZM1720.1,1019.7 1698.4,1025.2 1698.4,1030.4 1699.4,1030.1 1704.4,1028.7 1709.4,1027.2 1714.4,1025.6 1719.4,1024.0 1724.3,1022.4 1729.2,1020.6 1734.1,1018.9 1739.0,1017.0 1743.9,1015.1 1748.7,1013.1 1753.5,1011.1 1758.3,1009.0 1761.0,1007.8 1760.4,1004.8 1741.3,1008.9 1725.0,1012.9 1725.0,1018.7ZM1929.0,432.1 1931.7,449.7 1939.9,451.1 1937.1,433.4ZM1950.7,478.3 1950.7,490.0 1953.4,490.0 1956.2,504.9 1963.0,507.6 1964.3,491.3 1961.6,485.9 1961.6,478.3ZM1926.3,529.4 1931.7,513.1 1926.3,496.8 1915.4,488.6 1910.0,487.9 1910.0,483.7 1896.4,485.1 1896.4,490.0 1901.4,490.0 1890.9,499.5 1888.2,510.4 1893.6,521.2 1901.8,529.4 1915.4,537.6ZM1922.2,562.0 1922.2,567.5 1927.6,567.5 1927.6,562.0ZM1831.1,575.6 1832.4,582.4 1842.0,581.1 1839.2,572.9ZM1972.5,597.4 1969.8,578.4 1964.3,556.6 1960.3,543.0 1953.5,545.7 1953.5,564.8 1952.1,589.2 1950.7,616.4 1954.8,643.6 1961.6,649.1 1972.5,643.6 1973.9,624.6ZM1999.7,553.9 1994.3,556.6 1999.7,578.4 2002.4,611.0 2001.1,665.4 1997.0,714.3 1999.7,717.1 2000.0,717.1 2000.9,713.5 2002.0,708.4 2003.0,703.3 2004.0,698.1 2004.9,693.0 2005.8,687.8 2006.6,682.7 2007.3,677.5 2008.0,672.3 2008.6,667.2 2009.2,662.0 2009.6,656.8 2010.0,651.6 2010.4,646.4 2010.7,641.2 2010.9,636.0 2011.1,630.7 2011.2,625.5 2011.2,620.3 2011.2,615.1 2011.1,609.9 2010.9,604.6 2010.7,599.4 2010.4,594.2 2010.0,589.0 2009.6,583.8 2009.2,578.6 2008.6,573.4 2008.0,568.3 2007.3,563.1 2006.6,557.9 2006.1,554.6ZM1888.2,662.7 1881.4,658.6 1876.0,665.4 1881.4,673.5 1890.9,668.1ZM1827.3,793.0 1827.3,798.2 1832.5,798.2 1832.5,793.0ZM1923.9,850.8 1912.1,867.3 1902.7,881.4 1888.6,893.2 1874.4,905.0 1865.0,919.1 1850.9,928.6 1836.7,938.0 1822.6,947.4 1808.4,956.9 1801.4,966.3 1806.1,968.6 1817.9,961.6 1832.0,952.1 1846.1,945.1 1860.3,938.0 1872.1,928.6 1883.9,919.1 1893.3,909.7 1902.7,900.3 1912.1,886.1 1923.9,872.0 1935.7,857.9 1947.5,839.0 1960.0,810.7 1959.8,804.9 1960.3,803.5 1959.5,798.9 1959.3,794.2 1949.9,796.6 1942.8,810.7 1935.7,829.6ZM1796.6,829.1 1796.6,834.3 1801.4,834.3 1801.4,829.1Z" fill="#ffe200"/>
<g clip-path="url(#clipR)"><g filter="url(#bl)">
<path d="M2003.5,573.0 2003.0,568.9 2002.4,563.7 2001.7,559.1 2000.6,559.0 2000.1,559.3ZM1193.5,470.2 1209.4,448.2 1209.7,447.8 1210.0,447.5 1210.4,447.2 1210.8,446.9 1211.2,446.7 1211.6,446.5 1212.1,446.3 1212.5,446.2 1213.0,446.1 1213.5,446.1 1225.7,446.1 1226.2,446.1 1226.6,446.2 1227.1,446.3 1227.5,446.4 1227.9,446.6 1228.3,446.8 1228.7,447.1 1238.3,454.3 1248.1,454.3 1254.8,447.6 1255.2,447.2 1255.7,446.9 1256.1,446.6 1267.0,441.2 1267.5,441.0 1278.4,436.9 1278.9,436.7 1289.8,434.0 1290.2,433.9 1306.5,431.2 1307.0,431.2 1307.5,431.2 1308.0,431.2 1308.5,431.3 1316.9,433.4 1323.1,428.2 1323.4,428.1 1334.2,419.9 1334.6,419.7 1335.0,419.4 1335.4,419.3 1348.8,413.9 1364.9,405.8 1365.6,405.6 1381.5,400.2 1397.4,392.3 1416.0,381.7 1427.4,372.5 1427.4,358.6 1427.4,358.2 1427.5,357.7 1427.6,357.3 1427.8,356.8 1427.9,356.4 1428.2,356.0 1428.4,355.6 1436.0,345.5 1436.3,345.1 1436.7,344.8 1437.1,344.5 1437.5,344.2 1437.9,344.0 1438.4,343.8 1438.9,343.7 1439.4,343.6 1439.9,343.5 1440.4,343.5 1440.9,343.6 1441.3,343.7 1441.8,343.9 1442.3,344.1 1442.7,344.3 1443.1,344.6 1443.5,344.9 1443.8,345.3 1444.1,345.7 1444.4,346.1 1444.6,346.6 1444.8,347.1 1444.9,347.5 1445.0,348.0 1445.0,348.5 1445.0,350.4 1466.5,348.2 1479.8,345.6 1480.3,345.5 1506.3,342.9 1509.2,340.9 1506.6,336.9 1506.3,336.5 1506.1,336.1 1505.9,335.6 1505.8,335.1 1505.7,334.6 1505.7,334.1 1505.7,333.7 1505.8,333.2 1508.5,319.6 1508.7,319.1 1508.8,318.6 1509.0,318.2 1509.3,317.8 1509.6,317.4 1509.9,317.0 1510.3,316.7 1510.7,316.4 1518.8,311.0 1519.3,310.7 1519.7,310.5 1533.3,305.0 1546.9,299.6 1560.5,294.2 1574.1,288.7 1574.8,288.5 1591.1,284.4 1591.5,284.3 1591.9,284.3 1608.2,282.9 1608.6,282.9 1609.0,282.9 1609.5,283.0 1625.8,285.7 1626.2,285.8 1626.5,285.9 1642.7,291.3 1658.8,295.3 1659.0,295.4 1672.6,299.4 1673.0,299.6 1686.6,305.0 1700.2,310.5 1700.6,310.6 1701.0,310.8 1714.6,319.0 1714.9,319.2 1715.2,319.4 1731.0,332.6 1735.0,334.5 1735.0,332.3 1735.0,331.8 1735.1,331.3 1735.2,330.9 1735.4,330.4 1735.6,330.0 1735.8,329.6 1736.1,329.2 1736.4,328.8 1736.8,328.5 1737.1,328.2 1737.5,327.9 1738.0,327.7 1738.4,327.5 1738.9,327.4 1739.3,327.3 1739.8,327.3 1740.3,327.3 1740.8,327.3 1741.2,327.4 1741.7,327.6 1742.1,327.8 1742.6,328.0 1754.8,335.3 1755.3,335.7 1768.7,346.4 1780.0,353.2 1786.0,351.2 1786.4,351.1 1786.7,351.0 1803.1,348.3 1803.6,348.2 1804.1,348.2 1804.6,348.2 1805.1,348.3 1816.0,351.1 1816.1,351.1 1835.2,356.5 1835.7,356.7 1848.4,361.8 1854.9,361.8 1865.2,359.2 1865.8,359.1 1866.4,359.1 1888.2,359.1 1888.6,359.1 1889.0,359.1 1905.3,361.9 1905.8,362.0 1906.3,362.1 1906.8,362.4 1907.3,362.6 1907.7,362.9 1908.1,363.3 1908.4,363.7 1919.3,377.3 1919.6,377.7 1919.8,378.1 1920.0,378.5 1920.2,379.0 1925.2,396.5 1930.8,401.0 1931.2,401.3 1931.5,401.7 1931.8,402.2 1932.1,402.6 1946.5,431.4 1968.4,446.0 1968.0,445.3 1965.9,440.6 1963.6,436.0 1961.3,431.4 1959.0,426.8 1956.6,422.2 1954.1,417.7 1951.6,413.2 1949.0,408.7 1946.4,404.3 1943.7,399.9 1941.0,395.5 1938.2,391.2 1935.4,386.8 1932.5,382.6 1929.5,378.3 1926.6,374.1 1923.5,370.0 1920.4,365.9 1917.3,361.8 1914.1,357.7 1910.8,353.7 1907.5,349.8 1904.2,345.8 1900.8,342.0 1897.3,338.1 1893.9,334.3 1890.3,330.6 1886.8,326.8 1883.1,323.2 1879.5,319.5 1875.7,316.0 1872.0,312.4 1868.2,309.0 1864.3,305.5 1860.5,302.1 1856.5,298.8 1852.6,295.5 1848.6,292.2 1844.5,289.0 1840.4,285.9 1836.3,282.8 1833.1,280.4 1840.5,290.4 1840.8,290.7 1841.0,291.1 1841.2,291.6 1841.3,292.0 1841.4,292.4 1841.5,292.9 1841.5,293.4 1841.5,304.2 1841.5,304.7 1841.4,305.2 1841.3,305.7 1841.1,306.1 1840.9,306.6 1840.7,307.0 1840.4,307.4 1840.0,307.8 1839.7,308.1 1839.3,308.4 1838.9,308.6 1838.4,308.9 1838.0,309.0 1837.5,309.1 1837.0,309.2 1836.5,309.2 1836.0,309.2 1835.5,309.1 1821.9,306.4 1821.5,306.3 1821.1,306.2 1820.7,306.0 1804.4,297.8 1803.9,297.6 1803.5,297.2 1803.1,296.9 1794.9,288.7 1794.6,288.4 1794.3,288.0 1794.0,287.6 1793.8,287.1 1793.7,286.6 1793.5,286.2 1793.5,285.7 1793.4,285.2 1793.4,279.8 1793.5,279.3 1793.5,278.8 1793.7,278.3 1793.8,277.8 1794.1,277.3 1794.3,276.9 1794.6,276.5 1795.0,276.2 1795.3,275.8 1795.8,275.5 1796.2,275.3 1796.6,275.1 1797.1,274.9 1797.6,274.8 1813.9,272.1 1814.4,272.0 1814.8,272.0 1815.3,272.1 1815.7,272.1 1816.2,272.2 1816.6,272.4 1828.5,277.2 1828.0,276.8 1823.7,273.8 1819.5,270.9 1815.1,268.1 1810.8,265.3 1806.4,262.6 1802.0,259.9 1797.6,257.3 1793.1,254.7 1788.6,252.2 1784.1,249.7 1779.5,247.3 1774.9,245.0 1770.3,242.7 1765.7,240.4 1761.0,238.3 1756.3,236.1 1751.6,234.1 1746.8,232.1 1742.0,230.1 1737.2,228.3 1732.4,226.4 1727.6,224.7 1722.7,223.0 1717.8,221.3 1712.9,219.7 1708.0,218.2 1703.0,216.7 1698.1,215.3 1693.1,214.0 1688.1,212.7 1683.1,211.5 1678.1,210.3 1673.0,209.2 1668.0,208.2 1662.9,207.2 1657.8,206.3 1652.8,205.4 1647.7,204.6 1642.6,203.9 1642.1,203.9 1641.4,203.9 1637.7,203.8 1634.0,203.8 1630.3,203.8 1626.7,203.8 1623.0,203.9 1622.5,203.9 1618.9,203.6 1615.2,203.4 1611.6,203.2 1607.9,203.1 1604.3,203.0 1600.6,202.9 1597.0,202.8 1593.4,202.8 1589.7,202.8 1586.1,202.8 1582.4,202.9 1578.8,203.0 1575.1,203.1 1571.5,203.3 1567.9,203.4 1564.2,203.7 1560.6,203.9 1557.0,204.2 1553.3,204.5 1549.7,204.9 1549.7,204.9 1546.0,205.2 1542.4,205.6 1538.8,206.0 1535.2,206.4 1531.6,206.9 1528.0,207.4 1524.4,207.9 1520.8,208.4 1517.2,209.0 1513.6,209.6 1510.0,210.3 1506.4,211.0 1502.9,211.7 1499.3,212.4 1495.7,213.2 1492.2,214.0 1488.7,214.8 1485.2,215.7 1481.9,216.7 1478.4,217.8 1475.0,218.9 1471.5,220.1 1468.1,221.3 1464.7,222.5 1461.2,223.8 1457.8,225.1 1457.6,225.1 1454.2,226.3 1450.7,227.4 1447.3,228.6 1443.9,229.9 1440.5,231.1 1437.1,232.4 1433.7,233.7 1430.3,235.1 1429.9,235.2 1429.4,235.3 1428.9,235.4 1428.4,235.4 1427.9,235.4 1427.4,235.3 1427.0,235.2 1426.5,235.0 1426.1,234.8 1425.7,234.5 1425.3,234.3 1424.9,233.9 1424.6,233.6 1424.3,233.2 1424.0,232.7 1424.0,232.6 1420.4,234.1 1415.7,236.1 1411.0,238.3 1406.3,240.4 1401.7,242.7 1397.1,245.0 1392.5,247.3 1387.9,249.7 1383.4,252.2 1378.9,254.7 1374.4,257.3 1370.0,259.9 1365.6,262.6 1361.2,265.3 1356.9,268.1 1352.5,270.9 1348.3,273.8 1344.0,276.8 1339.8,279.7 1335.7,282.8 1331.6,285.9 1327.5,289.0 1323.4,292.2 1319.4,295.5 1315.5,298.8 1311.5,302.1 1307.7,305.5 1303.8,309.0 1300.0,312.4 1296.3,316.0 1292.5,319.5 1288.9,323.2 1285.2,326.8 1281.7,330.6 1278.1,334.3 1274.7,338.1 1271.2,342.0 1267.8,345.8 1264.5,349.8 1261.2,353.7 1257.9,357.7 1254.7,361.8 1251.6,365.9 1248.5,370.0 1245.4,374.1 1242.5,378.3 1239.5,382.6 1236.6,386.8 1233.8,391.2 1231.0,395.5 1228.3,399.9 1225.6,404.3 1223.0,408.7 1220.4,413.2 1217.9,417.7 1215.4,422.2 1213.0,426.8 1210.7,431.4 1208.4,436.0 1206.1,440.6 1204.0,445.3 1201.8,450.0 1199.8,454.7 1197.8,459.5 1195.8,464.3 1194.0,469.1ZM1743.5,288.8 1743.1,288.7 1742.6,288.6 1742.1,288.5 1741.7,288.3 1741.3,288.0 1740.9,287.7 1740.5,287.4 1740.2,287.1 1739.9,286.7 1739.7,286.3 1739.5,285.8 1739.3,285.4 1739.2,284.9 1736.4,272.7 1736.4,272.2 1736.3,271.7 1736.3,271.2 1736.4,270.7 1736.5,270.2 1736.7,269.7 1736.9,269.3 1737.1,268.8 1737.4,268.4 1737.8,268.1 1738.1,267.7 1738.5,267.4 1746.7,262.0 1747.2,261.7 1747.6,261.5 1748.1,261.3 1748.6,261.2 1749.1,261.2 1749.7,261.2 1750.2,261.2 1750.7,261.3 1761.6,264.0 1762.1,264.2 1762.5,264.4 1763.0,264.6 1763.4,264.9 1763.8,265.2 1764.1,265.6 1764.4,266.0 1764.7,266.4 1764.9,266.8 1765.1,267.3 1767.8,275.5 1768.0,275.9 1768.0,276.4 1768.1,276.9 1768.1,277.4 1768.0,277.9 1767.9,278.4 1767.7,278.9 1767.5,279.4 1767.2,279.8 1761.8,288.0 1761.5,288.4 1761.2,288.7 1760.8,289.1 1760.4,289.4 1760.0,289.6 1759.6,289.8 1759.1,290.0 1758.6,290.1 1758.1,290.2 1757.6,290.2 1757.1,290.2ZM1646.0,265.7 1625.2,264.4 1609.6,267.0 1605.0,268.1 1605.0,270.9 1605.0,271.4 1604.9,271.9 1604.8,272.3 1604.6,272.8 1604.4,273.2 1604.2,273.6 1603.9,274.0 1603.6,274.4 1603.2,274.7 1602.8,275.0 1602.4,275.3 1602.0,275.5 1601.5,275.7 1601.1,275.8 1600.6,275.9 1588.8,277.2 1575.5,279.9 1562.1,284.0 1561.6,284.1 1561.1,284.2 1547.6,285.5 1534.2,288.2 1533.7,288.3 1520.0,289.7 1520.0,289.7 1506.5,291.0 1493.0,293.7 1493.0,293.7 1479.3,296.4 1478.8,296.5 1478.3,296.5 1477.8,296.5 1464.1,295.1 1450.4,293.8 1449.9,293.7 1437.2,291.1 1424.5,293.7 1424.0,293.8 1411.1,295.0 1403.8,298.8 1403.3,299.0 1402.9,299.1 1402.4,299.2 1401.9,299.3 1401.4,299.3 1400.9,299.3 1400.4,299.2 1399.9,299.0 1399.5,298.9 1399.0,298.6 1398.6,298.4 1398.2,298.1 1397.8,297.7 1397.5,297.3 1397.2,296.9 1397.0,296.5 1396.8,296.0 1396.7,295.6 1396.6,295.1 1396.5,294.6 1396.5,294.1 1396.6,293.6 1396.6,293.1 1396.8,292.6 1397.0,292.2 1397.2,291.7 1397.5,291.3 1405.7,280.3 1406.0,279.9 1406.3,279.6 1406.7,279.3 1407.1,279.0 1420.9,270.7 1421.3,270.5 1435.0,263.7 1435.3,263.6 1448.8,258.1 1462.4,251.3 1462.4,251.3 1476.1,244.5 1476.4,244.4 1489.9,238.9 1503.3,232.3 1511.3,227.0 1511.7,226.8 1512.1,226.6 1512.5,226.4 1513.0,226.3 1513.5,226.2 1514.0,226.2 1535.0,226.0 1535.3,226.0 1535.7,226.1 1549.9,228.1 1550.7,227.3 1551.1,226.9 1551.5,226.6 1559.6,221.2 1560.0,220.9 1560.5,220.7 1560.9,220.6 1561.4,220.5 1561.9,220.4 1562.4,220.4 1586.7,220.4 1602.3,219.1 1615.4,215.1 1615.8,215.0 1616.2,214.9 1616.7,214.9 1617.1,214.9 1636.2,216.3 1636.4,216.3 1658.2,219.0 1658.5,219.1 1680.3,223.2 1680.9,223.3 1697.2,228.8 1697.9,229.0 1714.2,237.2 1727.2,243.7 1727.7,244.0 1728.1,244.2 1728.5,244.6 1728.8,244.9 1729.1,245.3 1729.4,245.8 1729.6,246.2 1729.8,246.7 1729.9,247.2 1730.0,247.7 1730.0,248.2 1730.0,279.6 1730.0,280.1 1729.9,280.6 1729.8,281.0 1729.6,281.5 1729.4,281.9 1729.2,282.4 1728.9,282.7 1728.5,283.1 1728.2,283.4 1727.8,283.7 1727.4,284.0 1726.9,284.2 1726.5,284.4 1726.0,284.5 1725.5,284.6 1725.0,284.6 1724.5,284.6 1724.0,284.5 1723.6,284.4 1697.2,276.5 1670.2,271.1 1670.1,271.0ZM1371.2,336.4 1370.7,336.4 1370.3,336.3 1369.8,336.2 1369.3,336.1 1368.9,335.8 1368.5,335.6 1368.1,335.3 1367.7,335.0 1367.4,334.6 1367.1,334.2 1366.8,333.8 1366.6,333.3 1366.4,332.9 1366.3,332.4 1366.3,331.9 1366.2,331.4 1366.2,327.4 1366.3,326.9 1366.3,326.4 1366.4,325.9 1366.6,325.4 1366.8,325.0 1367.1,324.6 1367.4,324.2 1367.7,323.8 1368.1,323.5 1368.5,323.2 1368.9,322.9 1369.3,322.7 1369.8,322.6 1370.3,322.4 1370.7,322.4 1371.2,322.4 1376.7,322.4 1377.2,322.4 1377.6,322.4 1378.1,322.6 1378.6,322.7 1379.0,322.9 1379.4,323.2 1379.8,323.5 1380.2,323.8 1380.5,324.2 1380.8,324.6 1381.1,325.0 1381.3,325.4 1381.5,325.9 1381.6,326.4 1381.6,326.9 1381.7,327.4 1381.7,331.4 1381.6,331.9 1381.6,332.4 1381.5,332.9 1381.3,333.3 1381.1,333.8 1380.8,334.2 1380.5,334.6 1380.2,335.0 1379.8,335.3 1379.4,335.6 1379.0,335.8 1378.6,336.1 1378.1,336.2 1377.6,336.3 1377.2,336.4 1376.7,336.4ZM1341.2,365.4 1341.5,365.0 1341.9,364.6 1342.2,364.3 1342.6,364.0 1343.1,363.7 1343.5,363.5 1344.0,363.3 1344.5,363.2 1354.8,361.3 1355.3,361.3 1355.8,361.2 1356.3,361.3 1356.8,361.4 1357.3,361.5 1357.7,361.7 1358.2,361.9 1358.6,362.1 1359.0,362.4 1359.3,362.8 1359.6,363.1 1359.9,363.5 1360.2,364.0 1360.4,364.4 1360.5,364.9 1360.6,365.4 1360.7,365.9 1360.7,366.4 1360.7,366.8 1360.6,367.3 1360.5,367.8 1360.3,368.3 1354.0,382.4 1353.8,382.8 1353.6,383.3 1344.0,396.9 1343.8,397.2 1343.5,397.5 1332.6,408.4 1321.7,419.3 1321.4,419.6 1320.9,419.9 1320.5,420.2 1320.0,420.4 1313.2,423.1 1312.8,423.3 1312.3,423.4 1311.8,423.4 1311.4,423.5 1310.9,423.4 1310.4,423.4 1309.9,423.3 1309.5,423.1 1309.0,422.9 1308.6,422.6 1308.2,422.4 1307.9,422.0 1307.6,421.7 1307.3,421.3 1307.0,420.9 1306.8,420.4 1306.6,420.0 1306.5,419.5 1306.4,419.1 1306.4,418.6 1306.4,418.1 1306.5,417.6 1306.6,417.1 1306.7,416.7 1306.9,416.2 1307.2,415.8 1314.0,404.9 1314.3,404.5 1314.7,404.1 1325.0,393.7 1332.8,378.2 1333.1,377.6ZM1958.5,554.4 1958.5,564.8 1958.5,565.0 1957.1,589.5 1955.8,616.2 1959.5,641.0 1962.3,643.2 1967.7,640.4 1968.9,624.5 1967.5,597.9 1964.9,579.3 1959.5,557.9ZM1955.7,483.3 1955.7,485.6 1955.8,485.6 1956.2,485.9 1956.6,486.2 1956.6,486.2 1956.6,485.9 1956.6,483.3ZM1958.7,491.2 1959.1,493.6 1959.2,492.3ZM1835.6,944.8 1843.9,940.6 1857.6,933.8 1880.5,915.4 1898.8,897.1 1908.0,883.4 1908.3,882.9 1920.1,868.8 1931.7,854.9 1943.1,836.7 1955.0,809.8 1954.8,805.1 1954.8,804.6 1954.8,804.1 1954.9,803.6 1955.1,803.1 1955.1,803.0 1954.7,800.5 1953.3,800.9 1947.4,812.7 1940.4,831.3 1940.3,831.7 1940.1,832.0 1928.3,853.2 1928.0,853.7 1916.3,870.1 1906.9,884.2 1906.6,884.6 1906.3,884.9 1905.9,885.3 1891.8,897.1 1878.2,908.4 1869.2,921.9 1868.9,922.3 1868.5,922.7 1868.2,923.0 1867.8,923.3 1853.6,932.7 1839.5,942.2ZM1906.3,491.3 1906.1,491.7 1905.9,492.2 1905.7,492.6 1905.4,493.0 1905.1,493.4 1904.8,493.7 1895.4,502.2 1893.5,509.8 1897.7,518.3 1904.9,525.4 1915.1,531.5 1922.0,526.3 1926.4,513.1 1922.0,499.8 1913.5,493.4 1909.3,492.9 1908.9,492.8 1908.4,492.7 1907.9,492.5 1907.5,492.3 1907.1,492.0 1906.7,491.7 1906.4,491.4ZM1572.9,1019.2 1587.1,1020.2 1601.5,1020.2 1605.6,1017.1 1606.1,1016.8 1606.6,1016.6 1607.0,1016.4 1615.2,1013.6 1615.8,1013.5 1629.4,1010.8 1629.9,1010.7 1630.4,1010.7 1643.7,1010.7 1657.1,1009.3 1657.6,1009.3 1684.5,1009.3 1697.6,1008.0 1711.0,1005.3 1724.6,1002.6 1724.7,1002.6 1735.0,1000.6 1735.0,1000.0 1735.0,999.5 1735.1,999.0 1735.2,998.5 1735.4,998.1 1735.6,997.6 1735.8,997.2 1736.1,996.8 1736.5,996.5 1736.8,996.1 1737.2,995.8 1737.6,995.6 1738.1,995.4 1738.5,995.2 1739.0,995.1 1739.5,995.0 1740.0,995.0 1772.2,995.0 1775.6,987.9 1780.2,976.2 1784.9,964.6 1789.5,950.6 1789.6,950.3 1794.4,938.5 1794.5,938.1 1794.8,937.7 1795.0,937.4 1802.1,927.9 1802.4,927.6 1802.7,927.3 1803.0,927.0 1803.4,926.7 1803.8,926.5 1804.2,926.3 1815.8,921.7 1829.4,914.9 1837.9,908.5 1846.8,897.3 1856.1,883.4 1865.4,869.5 1872.0,856.3 1874.2,842.9 1874.3,842.5 1874.4,842.1 1879.1,828.2 1883.7,809.5 1883.8,809.1 1884.0,808.7 1891.0,792.4 1898.0,773.7 1904.9,752.9 1905.3,750.8 1905.4,750.5 1905.5,750.1 1910.5,734.8 1912.8,723.6 1911.0,720.8 1905.9,723.3 1903.8,729.5 1903.7,729.8 1898.9,741.9 1898.7,742.3 1898.4,742.7 1898.1,743.1 1897.8,743.5 1897.4,743.8 1897.1,744.1 1896.6,744.4 1896.2,744.6 1895.7,744.8 1895.2,744.9 1894.7,745.0 1894.2,745.0 1890.6,745.0 1888.8,757.2 1888.7,757.9 1886.6,765.0 1886.5,765.4 1886.3,765.9 1886.1,766.3 1882.4,772.0 1882.7,772.3 1882.9,772.7 1883.1,773.2 1883.3,773.6 1883.4,774.1 1883.5,774.6 1883.5,775.1 1883.4,775.6 1883.4,776.1 1883.2,776.6 1879.2,788.6 1874.5,805.0 1874.4,805.5 1874.2,805.9 1867.1,820.0 1866.9,820.4 1859.9,832.1 1859.5,832.7 1859.1,833.1 1849.7,842.5 1849.3,842.9 1837.7,852.2 1828.7,861.1 1822.9,869.0 1822.9,872.8 1828.5,874.2 1829.0,874.4 1829.4,874.6 1829.9,874.8 1830.3,875.1 1830.7,875.4 1831.0,875.8 1831.4,876.2 1831.6,876.6 1831.9,877.0 1832.0,877.5 1832.2,878.0 1832.3,878.5 1832.3,879.0 1832.3,879.5 1832.2,880.0 1832.1,880.5 1831.9,881.0 1831.7,881.4 1831.4,881.8 1826.7,888.9 1826.4,889.4 1826.0,889.8 1825.6,890.1 1816.1,897.2 1806.7,904.3 1806.3,904.5 1806.0,904.8 1796.5,909.5 1796.1,909.6 1784.4,914.4 1772.9,918.9 1761.5,925.8 1761.2,926.0 1760.8,926.1 1749.0,930.9 1748.4,931.0 1747.9,931.2 1740.7,932.2 1740.2,932.2 1739.7,932.2 1739.2,932.2 1738.7,932.1 1738.2,931.9 1737.8,931.7 1737.3,931.5 1736.9,931.2 1736.5,930.8 1736.2,930.5 1735.9,930.1 1727.4,933.3 1714.7,938.4 1714.5,938.5 1703.9,942.0 1703.8,942.1 1703.5,942.4 1703.1,942.8 1702.7,943.1 1702.3,943.3 1701.9,943.5 1686.6,949.6 1686.2,949.7 1685.8,949.9 1672.6,952.5 1659.4,957.8 1658.8,958.0 1647.9,960.7 1647.5,960.8 1647.0,960.8 1646.5,960.8 1646.0,960.8 1645.6,960.7 1645.1,960.6 1629.6,955.4 1616.8,955.4 1616.3,955.4 1615.8,955.3 1602.2,952.6 1601.7,952.5 1601.3,952.3 1600.8,952.1 1600.4,951.8 1600.0,951.5 1599.7,951.2 1599.3,950.8 1599.0,950.4 1594.3,943.4 1585.3,938.9 1569.7,936.3 1537.5,930.9 1522.6,930.9 1513.7,934.4 1515.5,943.3 1520.6,953.6 1525.5,963.4 1546.0,978.8 1556.5,984.0 1556.9,984.3 1557.4,984.6 1557.8,984.9 1574.1,1001.3 1574.4,1001.6 1574.7,1002.0 1574.9,1002.4 1575.1,1002.8 1575.3,1003.2 1578.0,1011.4 1578.2,1011.8 1578.2,1012.3 1578.3,1012.8 1578.3,1013.3 1578.2,1013.8 1578.1,1014.3 1577.9,1014.8 1577.7,1015.3 1577.5,1015.7 1577.2,1016.1 1576.8,1016.5 1576.4,1016.8 1576.0,1017.1ZM1884.3,666.1 1882.6,665.1 1882.1,665.7 1883.0,666.9ZM1534.9,489.1 1534.9,489.4 1535.0,489.9 1535.0,490.3 1534.9,490.8 1534.7,492.1 1532.0,508.5 1531.9,508.8 1531.8,509.2 1526.3,525.5 1526.2,526.0 1526.0,526.4 1525.7,526.8 1525.4,527.2 1525.1,527.5 1514.3,538.4 1513.9,538.7 1513.5,539.0 1513.0,539.3 1512.5,539.5 1512.0,539.7 1511.5,539.8 1496.0,542.4 1481.4,549.7 1475.6,557.3 1479.4,566.8 1491.5,574.1 1492.1,574.5 1505.7,585.3 1506.1,585.7 1506.5,586.1 1517.2,599.5 1523.7,606.0 1526.7,606.0 1530.7,597.9 1530.9,597.5 1531.2,597.1 1531.5,596.7 1531.8,596.4 1532.2,596.1 1532.6,595.9 1533.0,595.6 1543.8,590.2 1554.7,584.8 1555.1,584.6 1568.7,579.2 1569.2,579.0 1569.6,578.9 1570.1,578.8 1586.5,577.5 1587.0,577.4 1587.5,577.5 1588.1,577.6 1604.4,581.7 1604.9,581.8 1605.3,582.0 1605.8,582.2 1606.2,582.5 1613.6,588.1 1615.1,586.5 1620.2,571.3 1625.6,555.0 1625.8,554.6 1626.0,554.2 1626.2,553.8 1637.1,537.5 1647.6,521.7 1652.8,506.1 1653.1,505.4 1660.7,490.1 1660.7,476.5 1660.6,476.1 1660.5,475.6 1660.5,475.2 1660.5,474.7 1660.6,474.2 1660.7,473.7 1660.8,473.3 1661.0,472.8 1661.2,472.4 1661.5,472.0 1666.9,464.8 1671.9,454.8 1674.5,444.5 1674.6,444.0 1674.8,443.6 1675.0,443.2 1675.2,442.8 1675.5,442.5 1675.8,442.1 1681.3,436.7 1681.7,436.3 1682.2,435.9 1695.8,427.8 1696.3,427.5 1696.9,427.3 1697.4,427.2 1711.0,424.4 1711.5,424.4 1712.0,424.3 1712.5,424.4 1712.9,424.4 1735.0,428.7 1735.0,424.9 1735.0,424.4 1735.1,423.9 1735.2,423.4 1735.4,423.0 1735.6,422.5 1735.9,422.1 1736.2,421.7 1736.5,421.3 1736.9,421.0 1737.3,420.7 1737.8,420.5 1738.2,420.3 1738.7,420.1 1739.2,420.0 1739.7,419.9 1740.2,419.9 1740.7,420.0 1741.2,420.1 1747.9,421.7 1760.9,424.3 1774.0,424.3 1774.4,424.4 1774.9,424.4 1775.3,424.5 1775.8,424.7 1776.2,424.9 1787.1,430.3 1787.5,430.6 1788.0,430.9 1788.4,431.3 1796.5,439.4 1796.9,439.8 1797.2,440.2 1797.5,440.7 1802.3,450.4 1804.7,452.0 1807.3,446.7 1809.9,433.8 1810.0,433.4 1810.1,433.0 1810.3,432.6 1815.7,421.7 1816.0,421.2 1816.3,420.8 1816.6,420.4 1817.0,420.1 1817.4,419.8 1817.8,419.5 1818.2,419.3 1818.7,419.1 1819.2,419.0 1831.7,416.5 1841.1,409.5 1847.8,400.5 1847.8,392.9 1840.9,383.7 1831.0,373.8 1818.8,368.9 1806.7,366.5 1797.8,368.7 1790.3,373.7 1782.2,379.1 1781.8,379.4 1781.3,379.6 1780.9,379.7 1780.4,379.9 1753.6,385.2 1740.5,390.5 1730.0,394.7 1730.0,396.5 1730.0,397.0 1729.9,397.4 1729.8,397.9 1729.6,398.4 1729.4,398.8 1729.2,399.2 1728.9,399.6 1728.6,400.0 1728.2,400.3 1727.8,400.6 1727.4,400.9 1726.9,401.1 1726.5,401.2 1726.0,401.4 1725.5,401.4 1725.0,401.5 1724.6,401.5 1724.1,401.4 1723.6,401.3 1723.1,401.1 1710.1,395.9 1709.7,395.7 1709.3,395.5 1709.0,395.3 1698.1,387.1 1697.6,386.6 1687.3,376.3 1671.7,368.5 1671.2,368.3 1670.8,368.0 1670.4,367.6 1659.5,356.7 1659.1,356.3 1658.8,355.9 1658.6,355.4 1653.1,344.5 1648.0,334.4 1641.7,328.1 1630.4,326.9 1617.5,328.2 1604.8,330.8 1594.5,335.9 1594.0,336.1 1593.5,336.3 1582.6,339.0 1582.4,339.1 1568.8,341.8 1568.5,341.8 1549.5,344.5 1531.1,347.2 1522.2,350.7 1526.2,364.7 1530.6,371.3 1537.5,375.9 1550.7,381.2 1551.1,381.4 1551.5,381.7 1552.0,382.0 1552.3,382.3 1563.0,392.9 1573.6,400.9 1574.0,401.2 1574.4,401.6 1574.7,402.1 1580.2,410.3 1580.4,410.7 1580.6,411.1 1580.8,411.6 1580.9,412.1 1581.0,412.5 1581.0,413.0 1581.0,428.5 1584.4,438.7 1584.4,438.7 1584.9,438.6 1585.4,438.6 1589.1,438.6 1590.1,438.3 1600.2,430.8 1600.6,430.5 1601.0,430.3 1601.4,430.1 1601.9,430.0 1602.4,429.9 1618.7,427.1 1619.2,427.1 1619.7,427.1 1620.2,427.1 1620.7,427.2 1631.6,429.9 1632.1,430.1 1632.6,430.3 1643.5,435.8 1644.0,436.0 1644.4,436.3 1644.8,436.7 1646.8,438.6 1647.1,438.7 1647.6,438.8 1648.0,439.0 1648.5,439.2 1648.9,439.5 1649.3,439.8 1649.7,440.1 1650.0,440.5 1650.3,440.9 1650.6,441.3 1650.8,441.8 1650.9,442.3 1651.0,442.8 1651.0,442.9 1653.0,444.9 1653.3,445.2 1653.6,445.6 1653.8,446.0 1654.0,446.5 1654.2,446.9 1654.3,447.4 1654.4,447.9 1654.4,448.4 1654.4,448.9 1654.3,449.4 1651.6,463.0 1651.5,463.4 1651.4,463.8 1646.1,476.9 1645.9,477.3 1645.7,477.7 1645.4,478.1 1645.1,478.5 1644.7,478.8 1644.3,479.1 1643.9,479.4 1643.4,479.6 1643.0,479.8 1642.5,479.9 1642.0,480.0 1641.5,480.0 1627.4,480.0 1624.4,487.0 1624.4,487.1 1621.6,498.0 1621.5,498.5 1621.3,498.9 1621.0,499.4 1620.8,499.8 1620.4,500.2 1620.1,500.5 1619.6,500.9 1619.2,501.1 1618.7,501.4 1618.3,501.5 1617.8,501.7 1616.6,501.9 1616.5,502.0 1616.2,502.4 1615.9,502.7 1615.5,503.0 1615.1,503.2 1614.6,503.5 1614.2,503.6 1613.7,503.8 1613.3,503.9 1612.8,503.9 1612.3,503.9 1608.0,503.6 1604.2,504.4 1603.7,504.5 1603.2,504.5 1602.7,504.5 1602.2,504.4 1601.7,504.3 1601.3,504.1 1600.8,503.9 1600.4,503.6 1600.0,503.3 1599.8,503.1 1597.8,503.0 1597.3,502.9 1596.9,502.8 1596.4,502.7 1596.0,502.5 1595.5,502.3 1595.2,502.0 1594.8,501.7 1594.4,501.4 1594.1,501.0 1593.9,500.7 1593.6,500.2 1593.4,499.8 1593.3,499.4 1592.2,495.6 1591.5,494.9 1591.2,494.5 1590.8,494.1 1590.6,493.6 1590.4,493.1 1590.2,492.6 1590.1,492.1 1589.2,486.7 1583.3,479.4 1583.0,479.0 1582.7,478.5 1582.5,478.0 1582.3,477.5 1581.7,474.9 1578.0,468.7 1566.9,464.3 1549.6,464.3 1537.1,468.4ZM1735.1,525.2 1729.9,524.0 1723.8,530.1 1710.4,546.2 1710.1,546.5 1696.5,560.1 1684.3,572.3 1684.3,588.6 1689.6,609.6 1694.4,624.1 1700.7,628.3 1713.8,633.5 1714.3,633.8 1714.7,634.0 1715.1,634.3 1727.3,644.1 1735.9,644.1 1736.5,644.1 1737.1,644.2 1745.8,646.4 1749.0,644.3 1747.5,640.0 1739.4,621.1 1739.3,620.7 1739.1,620.2 1739.1,619.7 1739.0,619.2 1739.1,618.7 1739.1,618.2 1741.9,604.6 1742.0,604.1 1742.1,603.6 1742.4,603.2 1742.6,602.8 1742.9,602.4 1743.2,602.0 1751.4,593.9 1751.7,593.5 1752.1,593.2 1752.6,593.0 1753.0,592.8 1753.5,592.6 1753.9,592.5 1767.4,589.8 1776.8,587.4 1782.6,581.7 1782.6,567.5 1782.6,567.0 1782.7,566.5 1782.8,566.0 1783.0,565.5 1783.2,565.1 1783.4,564.6 1783.7,564.2 1784.1,563.9 1784.5,563.5 1784.9,563.3 1785.3,563.0 1796.2,557.6 1796.6,557.4 1810.2,552.0 1810.6,551.8 1811.1,551.7 1821.8,549.5 1822.2,548.2 1818.8,546.5 1807.0,545.3 1796.9,547.8 1796.5,547.9 1796.1,548.0 1795.6,548.0 1795.2,548.0 1794.7,547.9 1781.1,545.2 1780.7,545.1 1780.2,544.9 1779.8,544.7 1779.3,544.4 1778.9,544.1 1778.6,543.8 1767.9,533.1 1761.4,527.7 1741.9,528.9 1740.8,529.1 1740.3,529.2 1739.9,529.2 1739.4,529.1 1738.9,529.1 1738.4,528.9 1738.0,528.8 1737.6,528.5 1737.2,528.3 1736.8,528.0 1736.4,527.7 1736.1,527.3 1735.8,526.9 1735.6,526.5 1735.4,526.1 1735.2,525.6ZM1765.2,569.0 1765.3,569.5 1765.4,570.0 1765.4,570.4 1765.3,570.9 1765.2,571.4 1765.1,571.9 1764.9,572.3 1764.6,572.8 1764.4,573.2 1764.1,573.6 1763.7,573.9 1763.3,574.2 1762.9,574.5 1762.5,574.7 1762.0,574.9 1743.0,581.7 1742.5,581.8 1742.0,581.9 1741.5,582.0 1741.0,582.0 1740.5,581.9 1740.1,581.8 1739.6,581.7 1739.1,581.5 1738.7,581.2 1738.3,581.0 1737.9,580.6 1737.6,580.3 1737.2,579.9 1737.0,579.5 1736.8,579.0 1731.3,566.8 1731.1,566.3 1731.0,565.9 1730.9,565.4 1730.9,564.9 1730.9,564.4 1730.9,563.9 1731.0,563.5 1731.2,563.0 1731.4,562.6 1731.6,562.1 1731.9,561.7 1732.2,561.4 1732.5,561.0 1732.9,560.7 1733.3,560.5 1733.8,560.2 1734.2,560.0 1734.7,559.9 1756.4,554.5 1756.9,554.4 1757.4,554.3 1757.9,554.3 1758.4,554.4 1758.9,554.5 1759.3,554.6 1759.8,554.8 1760.2,555.0 1760.6,555.3 1761.0,555.6 1761.3,556.0 1761.7,556.3 1761.9,556.7 1762.2,557.2 1762.3,557.6 1762.5,558.1ZM1727.4,774.2 1734.3,785.7 1737.4,786.6 1737.6,786.5 1738.1,786.3 1738.5,786.1 1739.0,786.0 1739.5,785.9 1740.0,785.9 1740.4,785.9 1740.9,785.9 1741.4,786.1 1741.9,786.2 1742.3,786.4 1742.7,786.7 1743.1,787.0 1750.3,792.7 1757.9,798.8 1766.6,786.6 1766.8,786.4 1776.1,774.8 1777.8,772.2 1778.1,771.8 1778.4,771.5 1778.8,771.1 1779.2,770.8 1779.6,770.6 1780.0,770.4 1780.5,770.2 1781.0,770.1 1781.5,770.0 1782.0,770.0 1784.1,770.0 1788.3,758.9 1793.6,743.1 1795.7,727.8 1786.6,722.3 1774.9,724.7 1774.4,724.8 1773.9,724.8 1773.4,724.8 1772.9,724.7 1772.4,724.5 1756.1,719.1 1755.6,718.9 1755.2,718.7 1754.8,718.5 1754.4,718.2 1754.1,717.9 1743.2,707.0 1742.8,706.5 1736.0,697.5 1735.7,697.1 1735.5,696.7 1735.3,696.3 1735.2,695.8 1735.1,695.4 1735.0,694.9 1735.0,694.5 1735.0,690.5 1727.0,692.0 1716.7,696.1 1714.3,719.8 1717.0,746.5 1717.0,746.5 1719.2,770.0 1722.4,770.0 1722.9,770.0 1723.4,770.1 1723.8,770.2 1724.3,770.4 1724.7,770.6 1725.2,770.8 1725.5,771.1 1725.9,771.4 1726.2,771.8 1726.5,772.1 1726.8,772.5 1727.0,773.0 1727.2,773.4ZM1681.7,906.9 1686.8,904.3 1686.4,902.9 1680.3,901.4 1677.1,903.5 1677.9,905.6ZM1539.3,806.0 1544.6,798.0 1544.9,797.6 1545.2,797.3 1545.6,797.0 1546.0,796.7 1546.4,796.4 1546.8,796.2 1547.2,796.1 1547.7,795.9 1548.1,795.8 1548.6,795.8 1549.1,795.8 1549.5,795.9 1550.0,795.9 1559.5,798.3 1562.8,797.2 1562.8,787.2 1562.9,786.7 1562.9,786.3 1563.0,785.8 1563.2,785.3 1568.1,773.1 1568.3,772.7 1568.5,772.3 1568.8,771.9 1569.1,771.5 1569.5,771.2 1569.9,770.9 1570.3,770.6 1570.8,770.4 1571.2,770.2 1571.7,770.1 1572.2,770.0 1572.7,770.0 1579.2,770.0 1583.1,765.5 1583.4,765.1 1583.8,764.8 1584.2,764.5 1584.6,764.3 1595.5,758.8 1596.0,758.6 1596.5,758.5 1607.4,755.7 1608.0,755.6 1608.6,755.6 1623.8,755.6 1633.2,750.9 1642.8,743.7 1647.7,733.9 1648.0,733.3 1653.4,725.2 1653.8,724.7 1654.2,724.3 1654.6,723.9 1665.2,716.0 1674.3,706.8 1674.3,688.0 1669.2,672.4 1669.0,672.0 1669.0,671.5 1668.9,671.0 1668.9,670.5 1669.0,670.1 1669.1,669.6 1671.7,659.0 1674.3,637.9 1674.3,618.1 1668.3,610.1 1656.6,607.7 1656.2,607.6 1655.8,607.5 1655.3,607.3 1655.0,607.1 1654.6,606.8 1644.1,598.9 1625.9,589.9 1621.1,594.7 1623.0,596.6 1623.4,597.0 1623.7,597.4 1624.0,597.9 1629.4,608.8 1629.6,609.2 1629.8,609.7 1629.9,610.2 1632.6,626.5 1632.7,627.0 1632.7,627.6 1632.6,628.1 1629.9,644.5 1627.2,660.8 1627.1,661.2 1626.9,661.7 1626.7,662.1 1626.5,662.6 1626.2,663.0 1618.1,673.8 1617.8,674.2 1617.4,674.5 1617.1,674.8 1616.7,675.1 1616.3,675.3 1605.4,680.7 1604.9,681.0 1604.4,681.1 1583.5,686.3 1577.7,690.2 1575.6,698.6 1575.6,719.5 1578.2,740.9 1578.3,741.5 1578.3,742.0 1578.2,742.5 1575.5,756.1 1575.3,756.6 1575.2,757.0 1575.0,757.5 1574.7,757.9 1574.5,758.3 1574.1,758.6 1573.8,759.0 1573.4,759.2 1573.0,759.5 1572.6,759.7 1572.1,759.9 1557.6,764.7 1557.1,764.9 1556.5,765.0 1556.4,765.0 1556.2,765.1 1555.8,765.3 1555.3,765.5 1541.9,769.9 1541.1,772.9 1540.9,773.3 1540.7,773.8 1540.5,774.2 1540.2,774.6 1539.9,774.9 1539.5,775.2 1539.1,775.5 1538.7,775.8 1538.3,776.0 1537.9,776.2 1536.1,776.8 1537.2,780.2 1537.3,780.5 1540.0,791.4 1540.1,791.9 1540.2,792.3 1540.2,792.7 1540.2,793.2 1540.1,793.6 1537.9,804.6ZM1453.0,853.3 1446.8,855.9 1446.4,856.0 1446.1,856.1 1445.0,856.4 1445.0,860.7 1447.8,862.5 1448.1,862.8 1448.5,863.1 1448.8,863.5 1449.1,863.9 1449.4,864.3 1449.6,864.7 1449.8,865.2 1449.9,865.6 1450.3,867.6 1453.5,868.6 1454.0,868.5 1454.5,868.4 1455.0,868.4 1455.5,868.4 1456.0,868.4 1456.4,868.6 1456.9,868.7 1457.4,868.9 1457.8,869.2 1458.4,869.6 1468.4,872.1 1468.8,872.2 1476.9,874.9 1477.4,875.1 1477.8,875.3 1478.2,875.5 1478.6,875.8 1478.9,876.1 1487.1,884.3 1487.4,884.7 1487.7,885.1 1488.0,885.6 1491.4,892.4 1499.7,889.0 1506.9,881.8 1514.9,871.2 1523.0,860.4 1523.3,860.0 1523.7,859.7 1524.0,859.4 1534.9,851.2 1535.3,850.9 1535.8,850.7 1536.2,850.5 1536.7,850.3 1547.6,847.6 1548.0,847.5 1564.1,844.9 1574.8,842.2 1575.3,842.1 1575.7,842.0 1576.2,842.0 1576.7,842.1 1577.2,842.2 1586.3,844.5 1591.6,841.8 1590.7,838.9 1581.8,830.0 1564.4,827.5 1564.3,827.5 1548.0,824.8 1529.8,822.2 1512.0,824.7 1501.3,829.0 1499.2,837.4 1499.1,837.8 1498.9,838.3 1498.7,838.7 1498.4,839.2 1490.2,850.0 1489.9,850.4 1489.6,850.7 1489.3,851.0 1488.9,851.3 1488.5,851.5 1477.6,856.9 1477.2,857.1 1476.7,857.3 1476.3,857.4 1475.8,857.5 1475.3,857.5 1474.9,857.5 1474.4,857.4 1473.9,857.3 1473.5,857.1 1461.4,852.3 1456.2,853.6 1455.7,853.7 1455.2,853.7 1454.7,853.7 1454.2,853.7 1453.7,853.6 1453.2,853.4ZM1168.7,669.5 1169.0,671.7 1169.6,676.9 1170.3,682.0 1171.1,687.1 1172.0,692.1 1172.9,697.2 1173.9,702.3 1174.9,707.3 1176.0,712.4 1177.2,717.4 1178.4,722.4 1179.7,727.4 1181.0,732.4 1182.4,737.3 1183.9,742.3 1185.4,747.2 1187.0,752.1 1188.7,757.0 1190.4,761.9 1192.1,766.7 1194.0,771.5 1195.8,776.3 1197.8,781.1 1199.8,785.9 1201.8,790.6 1204.0,795.3 1206.1,800.0 1208.4,804.6 1210.7,809.2 1213.0,813.8 1215.4,818.4 1217.9,822.9 1220.4,827.4 1223.0,831.9 1225.6,836.3 1228.3,840.7 1231.0,845.1 1233.8,849.4 1236.6,853.8 1239.5,858.0 1242.5,862.3 1245.4,866.5 1247.1,868.7 1243.4,863.5 1243.2,863.3 1229.6,841.5 1229.5,841.3 1215.9,816.8 1215.8,816.6 1202.2,789.4 1202.0,789.1 1197.2,776.9 1197.0,776.4 1196.9,775.9 1196.8,775.4 1196.8,775.0 1196.8,774.5 1196.9,774.0 1197.0,773.5 1197.2,773.1 1197.4,772.6 1197.7,772.2 1198.0,771.8 1198.3,771.4 1198.6,771.1 1199.0,770.8 1199.5,770.6 1199.9,770.4 1200.4,770.2 1200.8,770.1 1201.3,770.0 1201.8,770.0 1203.3,770.0 1203.8,770.0 1204.3,770.1 1204.8,770.2 1205.3,770.4 1205.7,770.6 1206.1,770.9 1206.5,771.2 1206.9,771.5 1207.2,771.9 1207.5,772.3 1207.8,772.8 1216.6,790.4 1227.3,811.8 1234.0,820.7 1237.6,821.5 1238.1,821.6 1238.5,821.7 1239.0,822.0 1239.4,822.2 1239.8,822.5 1240.1,822.8 1240.5,823.2 1240.8,823.6 1241.0,824.0 1241.2,824.5 1241.4,824.9 1241.5,825.4 1241.6,825.9 1241.6,826.4 1241.6,832.3 1246.4,841.9 1254.5,855.3 1262.6,868.9 1270.7,882.3 1278.7,893.0 1279.0,893.4 1279.2,893.8 1279.4,894.3 1279.5,894.8 1279.6,895.3 1279.7,895.8 1279.7,896.3 1279.6,896.8 1279.5,897.2 1279.4,897.7 1279.2,898.2 1278.9,898.6 1278.6,899.0 1278.3,899.4 1278.0,899.8 1277.6,900.1 1277.2,900.3 1276.7,900.6 1276.2,900.7 1275.8,900.9 1275.3,901.0 1274.8,901.0 1274.3,901.0 1273.8,900.9 1273.3,900.8 1273.1,900.7 1274.7,902.5 1278.1,906.3 1281.7,910.0 1285.2,913.8 1288.9,917.4 1292.5,921.1 1295.8,924.2 1292.9,921.3 1292.6,920.9 1292.3,920.5 1292.0,920.1 1291.8,919.7 1291.7,919.2 1291.5,918.8 1291.5,918.3 1291.4,917.8 1291.5,917.3 1291.5,916.8 1291.6,916.4 1291.8,915.9 1292.0,915.5 1292.2,915.1 1292.5,914.7 1292.8,914.3 1293.2,914.0 1293.5,913.7 1294.0,913.4 1294.4,913.2 1294.8,913.0 1295.3,912.9 1295.8,912.8 1296.3,912.8 1296.7,912.8 1297.2,912.8 1297.7,912.9 1298.2,913.1 1298.6,913.2 1299.0,913.5 1299.4,913.8 1310.3,921.9 1310.8,922.4 1321.7,933.3 1327.2,938.7 1327.5,939.1 1327.8,939.5 1328.0,939.9 1328.3,940.3 1328.4,940.8 1328.5,941.3 1328.6,941.7 1328.6,942.2 1328.6,942.7 1328.5,943.2 1328.4,943.7 1328.2,944.2 1328.0,944.6 1327.8,945.0 1327.5,945.4 1327.2,945.8 1326.8,946.1 1326.4,946.4 1326.0,946.7 1325.5,946.9 1325.1,947.0 1324.6,947.1 1324.1,947.2 1323.6,947.2 1323.1,947.2 1322.6,947.1 1322.1,947.0 1321.7,946.8 1321.3,946.7 1323.4,948.4 1327.5,951.6 1331.6,954.7 1335.7,957.8 1339.8,960.9 1344.0,963.8 1348.3,966.8 1352.5,969.7 1356.9,972.5 1361.2,975.3 1365.6,978.0 1370.0,980.7 1374.4,983.3 1378.9,985.9 1383.4,988.4 1387.9,990.9 1392.5,993.3 1397.1,995.6 1401.7,997.9 1406.3,1000.2 1411.0,1002.3 1415.7,1004.5 1420.4,1006.5 1425.2,1008.5 1430.0,1010.5 1434.8,1012.3 1439.6,1014.2 1444.4,1015.9 1449.3,1017.6 1454.2,1019.3 1459.1,1020.9 1464.0,1022.4 1469.0,1023.9 1473.9,1025.3 1478.9,1026.6 1483.9,1027.9 1488.9,1029.1 1493.9,1030.3 1499.0,1031.4 1504.0,1032.4 1509.1,1033.4 1514.2,1034.3 1519.2,1035.2 1519.5,1035.2 1503.7,1029.9 1487.4,1024.5 1487.0,1024.4 1470.7,1017.6 1454.4,1010.8 1453.1,1010.2 1452.6,1010.0 1452.2,1009.7 1451.8,1009.5 1451.5,1009.1 1451.1,1008.8 1450.8,1008.4 1450.6,1008.0 1450.4,1007.5 1450.2,1007.0 1450.1,1006.6 1450.0,1006.1 1450.0,1005.6 1450.0,995.1 1436.7,992.0 1436.3,991.9 1435.9,991.7 1419.8,985.0 1400.0,978.4 1399.6,978.2 1399.1,978.0 1398.7,977.7 1398.3,977.4 1398.0,977.1 1397.6,976.7 1397.4,976.3 1397.1,975.9 1396.9,975.4 1396.8,975.0 1396.7,974.5 1396.6,974.0 1396.6,973.5 1396.6,973.0 1396.7,972.5 1396.9,972.1 1397.0,971.6 1397.3,971.2 1397.5,970.8 1397.8,970.4 1398.2,970.0 1398.5,969.7 1399.0,969.4 1399.4,969.2 1399.8,969.0 1400.3,968.8 1400.8,968.7 1408.9,967.4 1416.9,962.6 1412.8,957.1 1404.0,952.7 1386.2,952.7 1385.7,952.6 1385.2,952.6 1371.6,949.9 1371.2,949.7 1370.8,949.6 1370.4,949.4 1354.0,941.3 1343.2,935.8 1342.8,935.6 1342.4,935.4 1331.5,927.2 1331.0,926.7 1320.1,915.8 1319.7,915.4 1309.0,902.1 1298.6,891.6 1288.1,883.8 1280.1,878.4 1279.6,878.1 1279.3,877.7 1278.9,877.3 1278.6,876.9 1278.4,876.5 1273.0,865.8 1265.1,852.6 1254.6,839.5 1245.1,830.0 1244.8,829.6 1244.5,829.2 1244.2,828.8 1244.0,828.3 1243.9,827.9 1243.7,827.4 1243.7,826.9 1243.6,826.4 1243.7,825.9 1243.7,825.4 1243.9,825.0 1244.0,824.5 1244.2,824.1 1244.5,823.6 1244.8,823.2 1245.1,822.9 1245.5,822.5 1245.9,822.3 1246.3,822.0 1246.8,821.8 1255.1,818.5 1259.3,812.1 1264.4,799.4 1266.9,787.0 1265.8,775.5 1265.7,775.0 1265.8,774.5 1265.8,774.0 1265.9,773.6 1266.1,773.1 1266.3,772.6 1266.6,772.2 1266.9,771.8 1267.2,771.5 1267.6,771.1 1268.0,770.8 1268.4,770.6 1268.8,770.4 1269.3,770.2 1269.8,770.1 1270.2,770.0 1270.7,770.0 1295.1,770.0 1295.6,770.0 1296.1,770.1 1296.6,770.2 1297.0,770.4 1297.4,770.6 1305.8,767.2 1306.4,764.9 1306.1,764.8 1305.6,764.6 1305.2,764.4 1304.8,764.2 1304.4,763.9 1304.0,763.6 1303.7,763.2 1303.4,762.8 1303.2,762.4 1302.9,761.9 1302.8,761.5 1302.7,761.0 1302.6,760.5 1302.5,760.0 1302.6,759.6 1302.6,759.1 1302.7,758.6 1302.9,758.1 1307.4,746.9 1307.4,746.9 1307.2,746.5 1302.7,735.2 1302.5,734.8 1302.4,734.3 1302.3,733.8 1302.3,733.4 1302.3,732.9 1302.4,732.4 1305.1,718.8 1307.6,706.7 1303.4,696.2 1295.7,692.4 1284.3,694.7 1271.1,700.0 1270.6,700.1 1270.2,700.2 1269.7,700.3 1269.2,700.3 1268.7,700.3 1268.3,700.2 1254.7,697.5 1254.2,697.4 1253.7,697.2 1253.2,697.0 1252.8,696.7 1252.4,696.4 1252.0,696.1 1251.7,695.7 1251.4,695.3 1251.2,694.8 1240.9,674.3 1234.4,669.9 1227.0,667.5 1216.3,664.8 1215.9,664.7 1215.5,664.5 1215.1,664.3 1214.7,664.0 1214.3,663.8 1214.0,663.4 1213.7,663.1 1213.4,662.7 1202.5,646.4 1202.3,646.0 1202.1,645.6 1201.9,645.2 1197.2,630.9 1192.4,645.2 1192.2,645.7 1192.0,646.1 1191.7,646.5 1191.4,646.9 1191.1,647.3 1190.7,647.6 1190.3,647.9 1189.9,648.1 1175.3,655.4 1170.5,667.2 1170.3,667.7 1170.1,668.1 1169.8,668.5 1169.4,668.9 1169.1,669.2ZM1271.4,729.8 1271.5,730.3 1271.5,730.8 1271.5,731.3 1271.4,731.8 1271.3,732.3 1271.1,732.7 1270.8,733.2 1270.6,733.6 1270.3,734.0 1269.9,734.3 1269.6,734.6 1269.2,734.9 1268.7,735.1 1268.3,735.3 1267.8,735.5 1267.3,735.6 1259.2,737.0 1258.7,737.0 1258.2,737.0 1257.7,737.0 1257.2,736.9 1256.8,736.8 1256.3,736.6 1255.9,736.4 1255.5,736.1 1255.1,735.8 1254.7,735.5 1254.4,735.1 1254.1,734.7 1253.9,734.3 1253.7,733.9 1253.5,733.4 1253.4,732.9 1250.7,718.0 1250.7,717.5 1250.6,717.0 1250.7,716.5 1250.7,716.1 1250.9,715.6 1251.0,715.2 1251.2,714.7 1251.5,714.3 1251.7,713.9 1252.1,713.6 1252.4,713.3 1252.8,713.0 1253.2,712.7 1253.6,712.5 1254.1,712.3 1262.2,709.6 1262.7,709.5 1263.1,709.4 1263.6,709.4 1264.1,709.4 1264.6,709.4 1265.1,709.5 1265.5,709.7 1266.0,709.8 1266.4,710.1 1266.8,710.3 1267.1,710.6 1267.5,711.0 1267.8,711.3 1268.1,711.7 1268.3,712.2 1268.5,712.6 1268.6,713.1 1268.7,713.5ZM1315.2,722.3 1316.8,744.3 1316.8,744.8 1316.8,745.2 1316.7,745.7 1316.6,746.2 1316.5,746.3 1316.6,746.4 1316.8,746.8 1316.9,747.3 1317.0,747.8 1317.1,748.3 1317.7,756.5 1320.6,762.4 1329.9,758.7 1341.8,753.9 1345.2,747.0 1340.9,738.3 1340.7,737.8 1340.5,737.3 1338.4,728.7 1329.7,724.4 1318.8,720.0ZM1414.8,836.0 1415.3,839.2 1423.6,847.5 1429.7,847.5 1431.7,844.5 1426.4,837.4 1419.0,833.7ZM1385.7,499.5 1385.7,500.1 1385.6,500.7 1383.3,509.8 1386.9,516.9 1392.4,518.3 1401.3,507.2 1401.7,506.8 1402.1,506.5 1402.5,506.2 1403.0,505.9 1412.7,501.0 1420.0,490.7 1415.5,480.0 1414.8,480.0 1414.3,480.0 1413.8,479.9 1413.4,479.8 1412.9,479.6 1412.5,479.4 1412.0,479.2 1411.6,478.9 1411.3,478.5 1410.9,478.2 1410.6,477.8 1410.5,477.6 1401.0,476.7 1396.8,479.2 1396.4,479.5 1396.0,479.7 1395.6,479.8 1395.1,479.9 1394.7,480.0 1394.2,480.0 1393.7,480.0 1385.7,488.0ZM1373.4,770.1 1373.9,770.2 1374.3,770.4 1374.8,770.6 1375.2,770.9 1375.6,771.2 1376.0,771.5 1376.3,771.9 1376.6,772.3 1376.8,772.8 1377.0,773.2 1377.2,773.7 1377.3,774.2 1377.4,774.8 1385.2,790.4 1385.5,791.1 1390.8,806.9 1396.8,817.0 1404.3,815.5 1408.1,805.9 1406.1,797.6 1395.9,784.9 1395.6,784.4 1395.3,784.0 1395.1,783.5 1394.9,783.0 1390.4,765.0 1389.3,765.0 1388.7,765.0 1388.1,764.9 1381.3,763.2 1378.7,764.5 1378.3,764.7 1377.9,764.8 1377.4,764.9 1376.9,765.0 1376.5,765.0 1375.0,765.0 1374.9,765.1 1374.7,765.5 1374.5,765.9 1374.4,766.1ZM1392.8,592.2 1397.6,588.0 1396.5,585.7 1389.6,584.8 1385.6,586.6 1387.2,591.5ZM1392.2,714.8 1392.7,714.9 1393.1,715.1 1393.6,715.4 1394.0,715.6 1394.4,716.0 1394.7,716.3 1394.9,716.5 1396.4,716.1 1396.0,714.4 1394.3,714.6 1393.8,714.7 1393.3,714.7 1392.8,714.6 1392.3,714.5 1391.8,714.3 1391.4,714.1 1390.9,713.9 1390.5,713.6 1390.2,713.3 1389.8,712.9 1389.5,712.5 1389.3,712.1 1389.0,711.6 1388.9,711.2 1388.8,710.7 1388.7,710.2 1388.6,709.7 1388.7,709.2 1388.7,708.7 1389.3,706.0 1386.7,687.9 1384.1,672.4 1379.0,662.3 1372.0,649.4 1361.8,647.4 1347.1,651.1 1333.6,657.8 1331.4,670.8 1333.9,685.9 1338.9,700.8 1345.2,707.1 1353.7,709.2 1366.2,706.7 1366.6,706.7 1367.1,706.6 1367.6,706.6 1368.1,706.7 1368.6,706.8 1369.0,707.0 1382.3,712.3ZM1361.0,924.1 1361.8,927.5 1363.3,928.0 1363.8,926.9ZM1223.6,503.4 1225.9,498.8 1224.8,493.3 1222.8,494.3ZM1188.0,564.7 1191.2,560.0 1194.8,545.3 1194.2,539.1 1189.8,552.3Z" fill="#ffd000"/>
<path d="M1214.8,445.7 1223.0,437.5 1236.6,426.6 1244.8,415.7 1255.6,396.7 1269.2,377.7 1285.6,355.9 1304.6,336.9 1323.6,317.8 1345.4,301.5 1372.6,287.9 1399.8,274.3 1427.0,263.4 1437.4,260.4 1437.0,268.0 1450.0,262.0 1478.0,249.0 1505.0,237.0 1505.8,236.6 1514.0,231.2 1535.0,231.0 1552.9,233.6 1554.9,231.6 1562.7,226.4 1586.9,226.4 1587.0,226.4 1600.0,225.3 1600.0,217.3 1614.1,214.5 1616.8,200.9 1600.0,200.9 1600.0,198.0 1560.0,200.0 1522.3,203.1 1520.0,203.5 1516.3,204.1 1512.7,204.7 1509.1,205.4 1505.5,206.1 1501.9,206.8 1498.3,207.5 1494.7,208.3 1491.1,209.1 1487.5,210.0 1483.9,210.8 1480.4,211.9 1476.9,213.0 1473.4,214.2 1469.9,215.4 1466.4,216.6 1462.9,217.8 1459.5,219.1 1456.1,220.4 1452.6,221.5 1449.1,222.7 1445.6,223.9 1442.2,225.2 1438.7,226.4 1435.3,227.7 1431.9,229.1 1428.5,230.4 1431.0,226.7 1433.5,223.1 1433.3,222.5 1433.2,222.5 1433.1,222.5 1433.0,222.5 1432.9,222.5 1432.9,222.6 1432.6,222.7 1432.6,222.7 1427.8,224.6 1427.7,224.6 1422.9,226.5 1422.9,226.5 1418.1,228.6 1418.1,228.6 1413.3,230.7 1413.3,230.7 1408.5,232.8 1408.5,232.8 1403.8,235.0 1403.8,235.0 1399.1,237.3 1399.1,237.3 1394.4,239.6 1394.4,239.6 1389.7,242.0 1389.7,242.0 1385.1,244.4 1385.1,244.4 1380.5,246.9 1380.5,246.9 1375.9,249.5 1375.9,249.5 1371.4,252.1 1371.4,252.1 1366.9,254.7 1366.9,254.7 1362.4,257.4 1362.4,257.5 1358.0,260.2 1358.0,260.2 1353.6,263.0 1353.6,263.1 1349.2,265.9 1349.2,265.9 1344.9,268.9 1344.9,268.9 1340.6,271.8 1340.6,271.8 1336.3,274.9 1336.3,274.9 1332.1,278.0 1332.1,278.0 1327.9,281.1 1327.9,281.1 1323.8,284.3 1323.8,284.3 1319.7,287.5 1319.7,287.6 1315.6,290.8 1315.6,290.8 1311.6,294.2 1311.6,294.2 1307.6,297.6 1307.6,297.6 1303.7,301.0 1303.7,301.0 1299.8,304.5 1299.8,304.5 1295.9,308.0 1295.9,308.0 1292.1,311.6 1292.1,311.6 1288.4,315.3 1288.3,315.3 1284.6,318.9 1284.6,318.9 1281.0,322.6 1281.0,322.7 1277.3,326.4 1277.3,326.4 1273.7,330.2 1273.7,330.2 1270.2,334.1 1270.2,334.1 1266.7,338.0 1266.7,338.0 1263.3,341.9 1263.3,341.9 1259.9,345.9 1259.9,345.9 1256.5,349.9 1256.5,349.9 1253.3,354.0 1253.2,354.0 1250.0,358.1 1250.0,358.1 1246.8,362.2 1246.8,362.2 1243.7,366.4 1243.7,366.4 1240.6,370.6 1240.6,370.6 1237.5,374.9 1237.5,374.9 1234.6,379.2 1234.6,379.2 1231.6,383.5 1231.6,383.5 1228.8,387.9 1228.7,387.9 1225.9,392.3 1225.9,392.3 1223.2,396.7 1223.1,396.7 1220.4,401.2 1220.4,401.2 1217.8,405.7 1217.8,405.7 1215.2,410.2 1215.2,410.2 1212.6,414.8 1212.6,414.8 1210.1,419.4 1210.1,419.4 1207.7,424.0 1207.7,424.0 1205.3,428.7 1205.3,428.7 1203.0,433.4 1203.0,433.4 1200.7,438.1 1200.7,438.1 1198.5,442.8 1198.5,442.8 1196.4,447.6 1196.4,447.6 1194.3,452.4 1194.3,452.4 1192.2,457.2 1192.2,457.2 1190.3,462.0 1190.3,462.1 1189.3,464.6ZM1440.0,304.2 1440.0,350.5 1467.2,347.8 1494.4,342.3 1508.0,326.0 1494.4,309.7 1467.2,304.2ZM1307.3,342.3 1315.5,358.6 1329.1,353.2 1323.6,342.3ZM1416.1,364.1 1405.2,350.5 1386.2,353.2 1394.3,380.4 1410.7,380.4ZM1415.3,490.0 1416.1,490.0 1414.4,485.4 1413.4,480.4 1412.5,480.4 1410.7,475.6 1394.3,475.6 1391.6,490.0 1397.1,490.0 1399.8,499.5 1416.1,494.0ZM1187.7,539.6 1185.6,546.1 1187.6,564.8 1195.8,556.6 1195.8,537.6ZM1345.4,651.8 1342.7,670.8 1350.8,692.6 1367.1,703.5 1383.5,692.6 1380.7,665.4 1367.1,649.1ZM1282.8,733.4 1301.9,733.4 1307.3,711.6 1296.4,698.0 1269.2,700.7 1272.0,719.8ZM1162.7,669.8 1163.0,672.5 1163.0,672.5 1163.7,677.7 1163.7,677.7 1164.4,682.8 1164.4,682.8 1165.2,688.0 1165.2,688.0 1166.1,693.2 1166.1,693.2 1167.0,698.3 1167.0,698.3 1168.0,703.4 1168.0,703.5 1169.0,708.6 1169.0,708.6 1170.2,713.7 1170.2,713.7 1171.3,718.8 1171.3,718.8 1172.6,723.9 1172.6,723.9 1173.9,728.9 1173.9,728.9 1175.2,734.0 1175.2,734.0 1176.7,739.0 1176.7,739.0 1178.2,744.0 1178.2,744.0 1179.7,749.0 1179.7,749.0 1181.3,754.0 1181.3,754.0 1183.0,758.9 1183.0,759.0 1184.7,763.9 1184.7,763.9 1186.5,768.8 1186.5,768.8 1188.4,773.7 1188.4,773.7 1190.3,778.5 1190.3,778.6 1192.2,783.4 1192.2,783.4 1194.3,788.2 1194.3,788.2 1196.4,793.0 1196.4,793.0 1198.5,797.8 1198.5,797.8 1200.7,802.5 1200.7,802.5 1203.0,807.2 1203.0,807.2 1205.3,811.9 1205.3,811.9 1207.7,816.6 1207.7,816.6 1210.1,821.2 1210.1,821.2 1212.6,825.8 1212.6,825.8 1215.2,830.4 1215.2,830.4 1217.8,834.9 1217.8,834.9 1220.4,839.4 1220.4,839.4 1223.1,843.9 1223.2,843.9 1225.9,848.3 1225.9,848.3 1228.7,852.7 1228.8,852.7 1231.6,857.1 1231.6,857.1 1234.6,861.4 1234.6,861.4 1237.5,865.7 1237.5,865.7 1240.6,870.0 1240.6,870.0 1243.7,874.2 1243.7,874.2 1246.8,878.4 1246.8,878.4 1250.0,882.5 1250.0,882.5 1253.2,886.6 1253.3,886.6 1256.5,890.7 1256.5,890.7 1259.9,894.7 1259.9,894.7 1263.3,898.7 1263.3,898.7 1266.7,902.6 1266.7,902.6 1270.2,906.5 1270.2,906.5 1273.7,910.4 1273.7,910.4 1277.3,914.2 1277.3,914.2 1281.0,917.9 1281.0,918.0 1284.6,921.7 1284.6,921.7 1288.3,925.3 1288.4,925.3 1292.1,929.0 1292.1,929.0 1295.9,932.6 1295.9,932.6 1299.8,936.1 1299.8,936.1 1303.7,939.6 1303.7,939.6 1307.6,943.0 1307.6,943.0 1311.6,946.4 1311.6,946.4 1315.6,949.8 1315.6,949.8 1319.7,953.0 1319.7,953.1 1323.8,956.3 1323.8,956.3 1327.9,959.5 1327.9,959.5 1332.1,962.6 1332.1,962.6 1336.3,965.7 1336.3,965.7 1340.6,968.8 1340.6,968.8 1344.9,971.7 1344.9,971.7 1349.2,974.7 1349.2,974.7 1353.6,977.5 1353.6,977.6 1358.0,980.4 1358.0,980.4 1362.4,983.1 1362.4,983.2 1366.9,985.9 1366.9,985.9 1371.4,988.5 1371.4,988.5 1375.9,991.1 1375.9,991.1 1380.5,993.7 1380.5,993.7 1385.1,996.2 1385.1,996.2 1389.7,998.6 1389.7,998.6 1394.4,1001.0 1394.4,1001.0 1399.1,1003.3 1399.1,1003.3 1403.8,1005.6 1403.8,1005.6 1408.5,1007.8 1408.5,1007.8 1413.3,1009.9 1413.3,1009.9 1418.1,1012.0 1418.1,1012.0 1422.9,1014.1 1422.9,1014.1 1427.7,1016.0 1427.8,1016.0 1432.6,1017.9 1432.6,1017.9 1437.5,1019.8 1437.5,1019.8 1442.4,1021.6 1442.4,1021.6 1447.3,1023.3 1447.4,1023.3 1452.3,1025.0 1452.3,1025.0 1457.3,1026.6 1457.3,1026.6 1462.3,1028.1 1462.3,1028.1 1466.3,1029.3 1467.2,1012.9 1455.0,1009.3 1455.0,996.6 1416.1,985.7 1388.9,977.6 1361.7,966.7 1334.5,950.4 1307.3,928.6 1280.1,904.2 1258.4,879.7 1236.6,849.8 1217.6,819.8 1201.2,787.2 1195.1,775.0 1215.4,775.0 1225.7,800.8 1242.0,814.4 1258.4,809.0 1266.5,787.2 1263.8,760.0 1254.6,760.0 1258.4,747.0 1258.4,732.0 1255.6,717.1 1256.8,716.7 1244.8,692.6 1223.0,681.7 1195.8,665.4ZM1450.9,857.9 1450.9,868.8 1467.2,871.5 1467.2,857.9ZM1407.9,950.4 1388.9,950.4 1394.3,964.0 1413.4,961.3ZM1752.2,236.2 1779.4,244.4 1804.8,254.6 1800.6,252.1 1800.6,252.1 1796.1,249.5 1796.1,249.5 1791.5,246.9 1791.5,246.9 1786.9,244.4 1786.9,244.4 1782.3,242.0 1782.3,242.0 1777.6,239.6 1777.6,239.6 1772.9,237.3 1772.9,237.3 1768.2,235.0 1768.2,235.0 1763.5,232.8 1763.5,232.8 1758.7,230.7 1758.7,230.7 1753.9,228.6 1753.9,228.6 1749.1,226.5 1749.1,226.5 1744.3,224.6 1744.2,224.6 1739.4,222.7 1739.4,222.7 1734.5,220.8 1734.5,220.8 1729.6,219.0 1729.6,219.0 1724.7,217.3 1724.6,217.3 1724.4,217.2 1698.4,217.2 1720.1,241.7 1740.0,252.6 1740.0,231.4ZM1920.8,364.1 1927.6,385.8 1937.7,379.6 1937.4,379.2 1937.4,379.2 1934.5,374.9 1934.5,374.9 1931.4,370.6 1931.4,370.6 1928.3,366.4 1928.3,366.4 1925.2,362.2 1925.2,362.2 1922.0,358.1 1922.0,358.1 1918.8,354.0 1918.7,354.0 1916.6,351.3ZM1646.7,267.5 1616.8,268.9 1619.5,282.5 1644.0,290.6 1671.2,296.1 1698.4,304.2 1725.0,317.5 1725.0,320.6 1738.6,326.0 1765.8,342.3 1793.0,347.8 1806.6,336.9 1801.2,317.8 1779.4,298.8 1752.2,287.9 1725.0,282.5 1725.0,287.7 1698.4,279.8 1671.2,271.6ZM1567.8,375.0 1570.6,358.6 1554.2,350.5 1532.5,353.2 1546.1,377.7ZM1600.0,399.6 1600.0,410.0 1612.8,414.8 1625.0,423.9 1646.7,432.1 1671.2,429.3 1681.7,412.5 1690.0,410.0 1690.0,371.0 1674.5,363.2 1663.8,352.6 1658.5,341.9 1657.3,339.6 1650.0,335.0 1600.0,340.0 1600.0,349.8 1592.3,353.2 1592.3,380.4ZM1529.8,507.6 1521.6,543.0 1516.2,578.4 1529.8,589.2 1548.8,583.8 1570.6,578.4 1603.2,581.1 1619.5,567.5 1635.8,540.3 1646.7,502.2 1616.8,504.9 1592.3,507.6 1586.9,491.3 1573.7,490.0 1584.2,490.0 1581.4,472.9 1565.1,464.7 1537.9,470.1 1537.9,486.4 1532.5,485.9ZM1740.0,608.6 1741.3,605.6 1740.0,595.0 1740.0,574.0 1735.9,564.8 1740.0,563.7 1740.0,545.7 1712.0,556.6 1684.8,578.4 1692.9,605.6 1712.0,616.4 1725.0,616.4 1725.0,627.3 1733.2,624.6 1736.7,616.4 1740.0,616.4ZM1641.3,719.8 1657.6,692.6 1671.2,665.4 1671.2,627.3 1657.6,611.0 1627.7,611.0 1630.4,638.2 1625.0,665.4 1608.6,684.4 1586.9,692.6 1586.9,719.8 1597.8,733.4 1619.5,733.4ZM1758.9,791.9 1777.8,773.0 1789.6,744.7 1785.9,745.0 1774.0,730.7 1741.3,730.7 1743.8,748.2 1740.0,748.5 1740.0,714.3 1720.1,719.8 1722.9,775.0 1737.6,775.0 1737.7,775.4ZM1565.1,770.9 1551.5,770.9 1552.9,792.6 1565.1,792.6ZM1505.3,825.3 1508.0,847.0 1557.0,844.3 1554.2,825.3ZM1684.8,1004.8 1708.7,1000.0 1770.7,1000.0 1780.1,975.7 1789.6,952.1 1770.7,942.7 1735.4,942.7 1700.0,947.4 1700.0,963.7 1684.8,966.7 1657.6,966.7 1630.4,961.3 1603.2,955.8 1581.4,942.2 1554.2,934.1 1529.8,936.8 1532.5,950.4 1543.4,964.0 1562.4,977.6 1586.9,991.2 1608.6,999.3 1630.4,1004.8 1657.6,1004.8ZM1779.4,402.1 1806.6,407.6 1833.8,407.6 1847.4,391.3 1833.8,375.0 1806.6,366.8 1774.0,380.4ZM1920.8,502.2 1901.8,502.2 1907.2,521.2 1923.5,518.5ZM1746.8,529.4 1752.2,545.7 1771.2,543.0 1768.5,529.4ZM1956.2,589.2 1957.5,635.5 1969.8,635.5 1968.4,589.2ZM2002.4,589.2 2003.8,665.4 2009.8,665.4 2010.1,662.1 2010.1,662.1 2010.6,656.9 2010.6,656.9 2011.0,651.7 2011.0,651.6 2011.4,646.4 2011.4,646.4 2011.7,641.2 2011.7,641.2 2011.9,636.0 2011.9,636.0 2012.1,630.8 2012.1,630.8 2012.2,625.5 2012.2,625.5 2012.2,620.3 2012.2,620.3 2012.2,615.1 2012.2,615.1 2012.1,609.8 2012.1,609.8 2011.9,604.6 2011.9,604.6 2011.7,599.4 2011.7,599.4 2011.4,594.2 2011.4,594.2 2011.1,589.2ZM1874.4,810.7 1865.0,834.3 1853.2,853.1 1841.4,872.0 1827.3,893.2 1817.9,909.7 1832.0,905.0 1846.1,895.6 1860.3,876.7 1869.7,857.9 1879.1,834.3 1888.6,810.7 1898.0,787.1 1900.6,769.1 1901.8,768.7 1904.5,749.7 1883.4,752.3 1882.9,756.3 1882.8,756.7 1882.8,775.0 1884.2,774.5 1881.5,787.1ZM1926.3,864.9 1938.1,843.7 1935.7,839.0 1923.9,857.9 1912.1,867.3 1912.1,881.4ZM1836.7,945.1 1817.9,956.9 1821.4,960.4 1832.5,953.0 1840.6,949.0ZM1725.0,1017.0 1725.0,1021.7 1741.3,1017.0 1741.3,1012.9Z" fill="#ffa400"/>
<path d="M1498.3,207.5 1494.7,208.3 1491.1,209.1 1487.5,210.0 1483.9,210.8 1480.4,211.9 1476.9,213.0 1473.4,214.2 1469.9,215.4 1466.4,216.6 1462.9,217.8 1459.5,219.1 1456.1,220.4 1452.6,221.5 1449.1,222.7 1445.6,223.9 1442.2,225.2 1438.7,226.4 1435.3,227.7 1431.9,229.1 1428.5,230.4 1431.0,226.7 1433.5,223.1 1433.3,222.5 1433.2,222.5 1433.1,222.5 1433.0,222.5 1432.9,222.5 1432.9,222.6 1432.6,222.7 1432.6,222.7 1427.8,224.6 1427.7,224.6 1422.9,226.5 1422.9,226.5 1418.1,228.6 1418.1,228.6 1413.3,230.7 1413.3,230.7 1408.5,232.8 1408.5,232.8 1403.8,235.0 1403.8,235.0 1399.1,237.3 1399.1,237.3 1394.4,239.6 1394.4,239.6 1389.7,242.0 1389.7,242.0 1385.1,244.4 1385.1,244.4 1380.5,246.9 1380.5,246.9 1375.9,249.5 1375.9,249.5 1371.4,252.1 1371.4,252.1 1366.9,254.7 1366.9,254.7 1362.4,257.4 1362.4,257.5 1358.0,260.2 1358.0,260.2 1353.6,263.0 1353.6,263.1 1349.2,265.9 1349.2,265.9 1344.9,268.9 1344.9,268.9 1340.6,271.8 1340.6,271.8 1336.3,274.9 1336.3,274.9 1332.1,278.0 1332.1,278.0 1327.9,281.1 1327.9,281.1 1323.8,284.3 1323.8,284.3 1319.7,287.5 1319.7,287.6 1315.6,290.8 1315.6,290.8 1311.6,294.2 1311.6,294.2 1307.6,297.6 1307.6,297.6 1303.7,301.0 1303.7,301.0 1299.8,304.5 1299.8,304.5 1295.9,308.0 1295.9,308.0 1292.1,311.6 1292.1,311.6 1288.4,315.3 1288.3,315.3 1284.6,318.9 1284.6,318.9 1281.0,322.6 1281.0,322.7 1277.3,326.4 1277.3,326.4 1273.7,330.2 1273.7,330.2 1270.2,334.1 1270.2,334.1 1266.7,338.0 1266.7,338.0 1263.3,341.9 1263.3,341.9 1259.9,345.9 1259.9,345.9 1256.5,349.9 1256.5,349.9 1253.3,354.0 1253.2,354.0 1250.0,358.1 1250.0,358.1 1246.8,362.2 1246.8,362.2 1243.7,366.4 1243.7,366.4 1240.6,370.6 1240.6,370.6 1237.5,374.9 1237.5,374.9 1234.6,379.2 1234.6,379.2 1231.6,383.5 1231.6,383.5 1230.4,385.3 1247.5,396.7 1258.4,391.3 1269.2,377.7 1285.6,358.6 1301.9,339.6 1323.6,320.6 1345.4,304.2 1372.6,287.9 1399.8,271.6 1427.0,258.0 1437.7,252.8 1437.0,262.0 1455.0,252.0 1478.0,240.0 1505.0,225.0 1520.0,205.0 1501.5,206.9ZM1665.0,425.0 1680.0,400.0 1670.0,365.0 1625.0,370.0 1630.0,420.0ZM1535.0,480.0 1540.0,550.0 1560.0,565.0 1590.0,560.0 1605.0,530.0 1601.5,498.2 1598.1,498.0 1596.1,491.0 1596.0,490.8 1595.8,489.9 1594.5,485.3 1591.1,481.2 1570.0,472.0ZM1645.0,720.0 1670.0,715.0 1679.1,683.2 1674.9,670.8 1675.6,668.2 1665.0,640.0 1640.0,640.0 1630.0,690.0ZM1375.3,681.7 1359.0,681.7 1361.7,695.3 1375.3,695.3ZM1182.2,719.8 1171.3,687.1 1165.4,689.1 1166.1,693.2 1166.1,693.2 1167.0,698.3 1167.0,698.3 1168.0,703.4 1168.0,703.5 1169.0,708.6 1169.0,708.6 1170.2,713.7 1170.2,713.7 1171.3,718.8 1171.3,718.8 1172.6,723.9 1172.6,723.9 1173.9,728.9 1173.9,728.9 1175.2,734.0 1175.2,734.0 1175.8,735.9ZM1190.4,733.4 1209.4,747.0 1236.6,749.7 1247.5,736.1 1236.6,714.3 1209.4,700.7 1187.6,706.2ZM1209.4,752.4 1190.4,733.4 1193.1,763.3 1204.0,768.7ZM1250.2,760.0 1225.7,760.0 1231.2,776.3 1247.5,776.3ZM1562.4,776.3 1554.2,776.3 1554.2,787.2 1562.4,787.2ZM1518.9,830.7 1508.0,830.7 1508.0,841.6 1518.9,841.6ZM1581.4,955.8 1570.6,939.5 1535.2,939.5 1537.9,950.4 1554.2,958.5ZM1630.4,969.4 1630.4,985.7 1657.6,985.7 1657.6,969.4ZM1399.8,999.3 1413.4,991.2 1399.8,980.3 1372.6,974.9 1378.0,991.2ZM1845.0,290.0 1866.1,306.9 1855.6,304.2 1861.0,320.6 1877.3,334.2 1891.7,331.7 1900.0,340.0 1920.9,356.7 1918.8,354.0 1918.7,354.0 1915.5,349.9 1915.5,349.9 1912.1,345.9 1912.1,345.9 1908.7,341.9 1908.7,341.9 1905.3,338.0 1905.3,338.0 1901.8,334.1 1901.8,334.1 1898.3,330.2 1898.3,330.2 1894.7,326.4 1894.7,326.4 1891.0,322.7 1891.0,322.6 1887.4,318.9 1887.4,318.9 1883.7,315.3 1883.6,315.3 1879.9,311.6 1879.9,311.6 1876.1,308.0 1876.1,308.0 1872.2,304.5 1872.2,304.5 1868.3,301.0 1868.3,301.0 1864.4,297.6 1864.4,297.6 1860.4,294.2 1860.4,294.2 1856.4,290.8 1856.4,290.8 1852.3,287.6 1852.3,287.5 1848.2,284.3 1848.2,284.3 1847.2,283.5ZM1790.0,375.0 1795.0,400.0 1830.0,410.0 1850.0,395.0 1831.2,373.4 1837.6,371.9 1834.5,368.8 1834.4,368.7 1834.3,368.7 1834.3,368.6 1834.2,368.6 1820.6,363.1 1820.5,363.1 1820.4,363.1 1811.3,361.3 1822.6,372.6ZM1835.0,345.0 1800.0,318.0 1750.0,298.0 1690.0,282.0 1620.0,268.0 1610.4,289.2 1624.7,291.6 1629.8,293.3 1640.0,295.0 1700.0,310.0 1760.0,332.0 1800.0,350.0 1804.3,354.3 1814.5,356.9 1833.5,362.3 1843.5,366.3ZM1722.9,572.9 1706.5,575.6 1709.3,592.0 1725.6,589.2ZM1967.1,608.3 1958.9,608.3 1958.9,624.6 1967.1,624.6ZM1774.0,744.7 1774.0,741.5 1760.4,741.5 1760.4,744.7 1756.6,744.7 1756.6,758.9 1775.4,758.9 1775.4,744.7ZM1898.0,765.9 1886.2,765.9 1886.2,780.1 1898.0,780.1ZM1834.4,855.5 1825.9,855.5 1824.9,856.4 1824.9,867.3 1834.4,867.3ZM1834.4,948.6 1827.3,949.8 1828.3,955.8 1832.5,953.0 1834.9,951.8ZM1754.2,961.6 1754.2,973.4 1770.7,973.4 1770.7,961.6ZM1698.4,983.0 1698.4,996.6 1712.0,996.6 1712.0,983.0Z" fill="#ff6a00"/>
<path d="M1475.0,214.0 1470.0,215.3 1469.9,215.4 1466.4,216.6 1462.9,217.8 1459.5,219.1 1456.1,220.4 1452.6,221.5 1449.1,222.7 1445.6,223.9 1442.2,225.2 1438.7,226.4 1435.3,227.7 1431.9,229.1 1428.5,230.4 1431.0,226.7 1433.5,223.1 1433.3,222.5 1433.2,222.5 1433.1,222.5 1433.0,222.5 1432.9,222.5 1432.9,222.6 1432.6,222.7 1432.6,222.7 1427.8,224.6 1427.7,224.6 1422.9,226.5 1422.9,226.5 1418.1,228.6 1418.1,228.6 1413.3,230.7 1413.3,230.7 1408.5,232.8 1408.5,232.8 1403.8,235.0 1403.8,235.0 1399.1,237.3 1399.1,237.3 1394.4,239.6 1394.4,239.6 1389.7,242.0 1389.7,242.0 1385.1,244.4 1385.1,244.4 1380.5,246.9 1380.5,246.9 1375.9,249.5 1375.9,249.5 1371.4,252.1 1371.4,252.1 1366.9,254.7 1366.9,254.7 1362.4,257.4 1362.4,257.5 1358.0,260.2 1358.0,260.2 1353.6,263.0 1353.6,263.1 1349.2,265.9 1349.2,265.9 1344.9,268.9 1344.9,268.9 1340.6,271.8 1340.6,271.8 1336.3,274.9 1336.3,274.9 1332.1,278.0 1332.1,278.0 1327.9,281.1 1327.9,281.1 1323.8,284.3 1323.8,284.3 1319.7,287.5 1319.7,287.6 1315.6,290.8 1315.6,290.8 1311.6,294.2 1311.6,294.2 1307.6,297.6 1307.6,297.6 1303.7,301.0 1303.7,301.0 1299.8,304.5 1299.8,304.5 1295.9,308.0 1295.9,308.0 1292.1,311.6 1292.1,311.6 1288.4,315.3 1288.3,315.3 1284.6,318.9 1284.6,318.9 1281.0,322.6 1281.0,322.7 1277.3,326.4 1277.3,326.4 1273.7,330.2 1273.7,330.2 1270.2,334.1 1270.2,334.1 1266.7,338.0 1266.7,338.0 1263.3,341.9 1263.3,341.9 1259.9,345.9 1259.9,345.9 1256.5,349.9 1256.5,349.9 1253.3,354.0 1253.2,354.0 1250.0,358.1 1250.0,358.1 1246.8,362.2 1246.8,362.2 1243.7,366.4 1243.7,366.4 1240.6,370.6 1240.6,370.6 1237.5,374.9 1237.5,374.9 1237.1,375.6 1244.8,385.8 1255.6,380.4 1269.2,364.1 1285.6,342.3 1301.9,323.3 1323.6,304.2 1345.4,287.9 1372.6,271.6 1399.8,255.3 1427.0,241.7 1440.0,236.6 1440.0,250.0 1455.0,240.0 1470.0,228.0ZM1880.0,325.0 1900.0,345.0 1908.8,342.1 1908.7,341.9 1908.7,341.9 1905.3,338.0 1905.3,338.0 1901.8,334.1 1901.8,334.1 1898.3,330.2 1898.3,330.2 1894.7,326.4 1894.7,326.4 1891.0,322.7 1891.0,322.6 1887.4,318.9 1887.4,318.9 1883.7,315.3 1883.6,315.3 1879.9,311.6 1879.9,311.6 1876.7,308.7ZM1822.6,364.0 1820.6,363.1 1820.5,363.1 1820.4,363.1 1806.8,360.4 1806.7,360.4 1806.7,360.4 1815.0,368.0ZM1830.0,360.0 1815.0,335.0 1780.0,312.0 1740.0,300.0 1735.0,318.0 1760.0,328.0 1790.0,345.0 1800.6,354.8 1803.8,354.2 1814.5,356.9 1828.4,360.9ZM1640.0,385.0 1640.0,410.0 1655.0,415.0 1668.0,400.0 1660.0,378.0ZM1555.0,495.0 1562.0,545.0 1582.0,542.0 1590.0,520.0 1580.0,492.0ZM1650.0,640.0 1645.0,670.0 1655.0,700.0 1675.0,690.0 1670.0,650.0Z" fill="#ff3c00"/>
</g></g>
<circle cx="478" cy="622.5" r="402.5" fill="none" stroke="#111" stroke-width="1.2" stroke-dasharray="5.7 5.1"/>
<circle cx="478" cy="622.5" r="328.1" fill="none" stroke="#111" stroke-width="1.2" stroke-dasharray="5.7 5.1"/>
<circle cx="478" cy="622.5" r="214.2" fill="none" stroke="#111" stroke-width="1.2" stroke-dasharray="5.7 5.1"/>
<circle cx="478" cy="622.5" r="74.4" fill="none" stroke="#111" stroke-width="1.2" stroke-dasharray="5.7 5.1"/>
<line x1="850" y1="837.2" x2="106" y2="407.7" stroke="#111" stroke-width="1.2" stroke-dasharray="5.5 5.8"/>
<line x1="850" y1="407.8" x2="106" y2="837.2" stroke="#111" stroke-width="1.2" stroke-dasharray="5.5 5.8"/>
<line x1="478" y1="193" x2="478" y2="1052" stroke="#111" stroke-width="2" stroke-dasharray="7 4.5"/>
<circle cx="478" cy="622.5" r="429.5" fill="none" stroke="#111" stroke-width="1.3"/>
<line x1="478" y1="616.5" x2="478" y2="628.5" stroke="#111" stroke-width="1.3"/>
<line x1="483.2" y1="619.5" x2="472.8" y2="625.5" stroke="#111" stroke-width="1.3"/>
<line x1="483.2" y1="625.5" x2="472.8" y2="619.5" stroke="#111" stroke-width="1.3"/>
<circle cx="1586" cy="620.3" r="398.7" fill="none" stroke="#111" stroke-width="1.2" stroke-dasharray="5.7 5.1"/>
<circle cx="1586" cy="620.3" r="325" fill="none" stroke="#111" stroke-width="1.2" stroke-dasharray="5.7 5.1"/>
<circle cx="1586" cy="620.3" r="212.2" fill="none" stroke="#111" stroke-width="1.2" stroke-dasharray="5.7 5.1"/>
<circle cx="1586" cy="620.3" r="73.7" fill="none" stroke="#111" stroke-width="1.2" stroke-dasharray="5.7 5.1"/>
<line x1="1954.5" y1="833" x2="1217.5" y2="407.5" stroke="#111" stroke-width="1.2" stroke-dasharray="5.5 5.8"/>
<line x1="1954.5" y1="407.6" x2="1217.5" y2="833" stroke="#111" stroke-width="1.2" stroke-dasharray="5.5 5.8"/>
<line x1="1586" y1="194.8" x2="1586" y2="1045.8" stroke="#111" stroke-width="2" stroke-dasharray="7 4.5"/>
<circle cx="1586" cy="620.3" r="425.5" fill="none" stroke="#111" stroke-width="1.3"/>
<line x1="1586" y1="614.3" x2="1586" y2="626.3" stroke="#111" stroke-width="1.3"/>
<line x1="1591.2" y1="617.3" x2="1580.8" y2="623.3" stroke="#111" stroke-width="1.3"/>
<line x1="1591.2" y1="623.3" x2="1580.8" y2="617.3" stroke="#111" stroke-width="1.3"/>
<path d="M150.0,459.8 158.0,457.8 164.0,453.9 169.9,445.9 177.9,441.9 189.9,439.9 197.9,437.9 205.8,437.9 207.8,435.9 209.8,439.9 215.8,443.9 221.8,449.9 225.8,453.9 229.8,457.8 233.8,459.8 241.7,457.8 249.7,455.8 257.7,454.9 263.7,454.3 269.7,456.8 277.7,458.8 285.6,457.8 289.6,459.8 293.6,458.8 301.6,457.8 309.6,456.8 317.5,456.8 325.5,457.8 333.5,456.8 341.5,453.9 349.5,449.9 357.4,446.9 365.4,444.9 367.4,439.9 370.0,435.9M233.8,465.8 239.8,461.8 249.7,457.8 259.7,454.9 264.7,454.3 261.7,457.8 253.7,461.8 245.7,465.8 239.8,468.8 234.8,468.8 233.8,465.8M277.7,448.9 285.6,447.9 292.6,449.9 291.6,452.9 285.6,451.9 279.6,450.9 277.7,448.9M307.6,454.9 313.6,457.8 319.5,461.8 318.5,464.8 311.6,463.8 309.6,459.8 307.6,454.9M267.7,543.6 269.7,541.6 272.7,545.6 275.7,547.6 271.7,551.6 268.7,556.6 267.7,551.6 267.7,543.6M289.6,531.6 293.6,529.6 296.6,535.6 298.6,539.6 295.6,543.6 293.6,551.6 292.6,557.6 290.6,551.6 289.6,543.6 288.6,537.6 289.6,531.6M321.5,527.7 327.5,523.7 333.5,524.7 335.5,533.6 329.5,539.6 325.5,537.6 322.5,533.6 321.5,527.7M205.8,590.5 213.8,586.5 221.8,583.5 226.8,582.5 227.8,585.5 221.8,589.5 213.8,591.5 207.8,593.5 205.8,590.5M245.7,569.5 251.7,571.5 255.7,575.5 253.7,576.5 247.7,573.5 245.7,569.5M243.7,613.4 249.7,609.4 257.7,605.4 263.7,604.4 269.7,605.4 277.7,611.4 281.6,617.4 283.6,620.0M320.0,458.0 332.0,454.0 343.9,448.0 353.9,446.0 365.9,443.0 368.9,440.0M407.8,497.8 419.7,493.9 427.7,489.9 433.7,483.9 435.7,477.9 433.7,471.9 439.7,465.9 437.7,459.9 431.7,458.0 425.7,454.0 421.7,448.0 417.7,444.0 415.7,440.0M472.6,482.9 477.6,480.9 481.2,482.9 477.6,485.9 472.6,484.9 472.6,482.9M532.4,525.8 535.4,524.8 537.4,530.8 534.4,532.7 532.4,528.8 532.4,525.8M520.0,413.8 528.0,414.8 536.0,415.8 539.9,417.8 536.0,423.7 532.0,427.7 530.0,432.7 536.0,429.7 543.9,426.7 548.9,425.7 549.9,431.7 555.9,433.7 563.9,430.7 569.9,423.7 575.8,423.7 579.8,426.7 583.8,428.7 587.8,433.7 595.8,438.7 603.8,443.7 611.7,447.7 619.7,447.7 631.7,445.7 643.7,445.3 651.6,447.7 652.6,443.7 649.6,435.7 643.7,432.7 639.7,427.7 639.3,421.7M530.0,432.7 534.0,425.7 541.9,419.8 545.9,413.8 544.9,405.8 545.9,397.8 549.9,391.8 555.9,386.8 563.9,383.9 571.9,380.9 577.8,376.9 583.8,373.9 585.8,372.9 584.8,381.9 581.8,391.8 579.8,399.8 575.8,405.8 567.9,408.8 559.9,411.8 551.9,415.8 545.9,419.8 539.9,423.7 534.0,427.7 530.0,432.7M587.8,372.9 592.8,371.9M535.6,382.9 538.3,386.2M629.7,423.7 633.7,419.8 637.7,413.8 641.7,405.8 643.7,397.8 647.7,393.8 651.6,389.8 655.6,385.8 659.6,383.9 661.6,377.9 659.6,369.9 657.6,365.9M623.7,363.9 631.7,364.9 639.7,365.9 647.7,366.9 655.6,365.9 663.6,369.9 671.6,373.9 679.6,373.9 685.5,369.9 691.5,363.9 697.5,355.9 701.5,353.9 705.5,357.9 711.5,361.9 719.5,365.9 727.4,367.9 731.4,371.9 740.0,375.9M639.3,422.7 641.7,417.8 645.7,411.8 651.6,407.8 659.6,403.8 669.6,401.8 679.6,400.8 691.5,400.8 699.5,402.8 705.5,407.8 711.5,411.8 715.5,413.8 719.5,415.8 727.4,415.8 735.4,419.8 740.0,421.7M520.0,477.6 528.0,481.6 528.0,487.6 534.0,493.6 539.9,499.5 543.9,505.5 547.9,513.5 553.9,517.5 559.9,521.5 565.9,519.5 571.9,525.5 579.8,529.5 583.8,533.4 581.8,541.4 577.8,550.0M532.0,526.5 535.0,524.5 537.0,529.5 534.0,530.5 532.0,526.5M539.9,535.4 545.9,533.4 551.9,537.4 549.9,543.4 543.9,544.4 539.9,539.4 539.9,535.4M549.9,524.5 553.9,523.5 554.9,527.5 551.9,529.5 549.9,524.5M705.5,541.4 711.5,539.4 719.5,539.4 725.4,541.4 731.4,547.4M700.0,351.9 708.0,355.9 718.0,361.9 725.9,367.9 733.9,372.9 741.9,377.9 749.9,381.9 756.8,383.9 757.8,387.8 753.9,392.8 747.9,389.8 739.9,384.9 731.9,379.9 725.9,376.9 719.9,372.9 712.0,368.9 700.0,366.9M767.8,381.9 781.8,387.8M700.0,403.8 708.0,407.8 712.0,411.8 719.9,415.8 729.9,417.8 739.9,421.7 741.9,413.8 742.9,405.8 749.9,401.8 757.8,405.8 760.8,411.8 755.8,417.8 753.9,423.7 749.9,429.7 747.9,433.7 751.9,441.7 755.8,449.7 759.8,453.7 765.8,455.7 771.8,457.7 775.8,465.6 773.8,457.7 769.8,449.7 767.8,441.7 771.8,439.7 775.8,445.7 781.8,449.7 785.8,443.7 789.8,435.7 795.7,427.7 799.7,425.7 807.7,429.7 815.7,431.7 823.7,437.7 831.6,445.7 839.6,457.7 845.6,467.6 851.6,477.6 857.6,483.6 861.6,489.6 859.6,497.5 863.6,505.5 868.5,511.5 870.5,505.5 869.5,495.5 873.5,487.6 879.5,489.6 883.5,499.5 887.5,509.5 891.5,521.5 894.5,537.4 896.5,550.0M808.7,419.8 813.7,415.8 819.7,421.7 815.7,424.7 809.7,422.7 808.7,419.8M819.7,369.9 829.6,377.9 837.6,393.8 839.6,405.8 837.6,415.8 829.6,413.8 823.7,405.8 825.7,397.8 821.7,385.8 819.7,369.9M843.6,415.8 851.6,419.8 857.6,425.7M706.0,541.4 716.0,539.4 723.9,543.4 731.9,550.0M555.8,520.0 559.8,522.0 565.8,521.0 571.7,525.0 579.7,528.0 583.7,532.0 579.7,538.0 575.7,541.9 577.7,549.9 581.7,555.9 585.7,559.9 586.7,565.9 588.7,571.9 591.7,577.8 594.7,583.8 591.7,585.8 585.7,579.8 577.7,579.8 571.7,583.8 570.8,589.8 571.7,593.8 567.8,597.8 570.8,601.8 575.7,605.8 579.7,611.7 583.7,619.7 587.7,625.7 593.7,629.7 597.7,635.7 599.7,641.7 605.7,639.7 610.6,641.7 607.7,647.7 603.7,651.6 607.7,653.6 613.6,651.6 609.6,657.6M567.8,659.6 571.7,657.6 573.7,663.6 575.7,675.6 579.7,687.5 585.7,695.5 591.7,699.5 597.7,699.5 595.7,703.5 587.7,707.5 581.7,703.5 577.7,695.5 573.7,685.5 569.8,675.6 567.8,667.6 567.8,659.6M532.9,526.0 535.8,524.0 537.8,530.0 534.9,532.0 532.9,526.0M539.8,536.0 545.8,534.0 551.8,536.0 551.8,543.9 547.8,545.9 541.8,541.9 539.8,536.0M549.8,526.0 553.8,524.0 555.8,528.0 551.8,530.0 549.8,526.0M529.9,655.6 535.8,651.6 539.8,657.6 541.8,663.6 537.8,667.6 531.9,669.6 527.9,665.6 529.9,655.6M543.8,615.7 549.8,611.7 555.8,603.8 561.8,599.8 565.8,605.8 561.8,611.7 555.8,617.7 549.8,619.7 543.8,615.7M492.0,695.5 499.9,691.5 507.9,689.5 511.9,693.5 513.9,701.5 515.9,707.5 509.9,709.5 507.9,717.5 505.9,718.5 499.9,709.5 496.0,703.5 492.0,695.5M590.7,721.5 594.7,720.5 595.7,724.4 591.7,725.4 590.7,721.5M585.7,735.4 591.7,733.4 597.7,735.4 595.7,740.0M327.8,779.4 325.8,769.4 323.8,759.5 325.8,751.5 329.8,743.5 333.8,735.5 339.8,729.5 345.8,723.6 351.7,719.6 357.7,713.6 361.7,707.6 367.7,703.6 371.7,697.6 377.7,689.6 381.7,679.7 383.7,669.7 381.7,659.7 383.7,653.7 391.6,649.8 403.6,647.8 415.6,649.8 427.5,653.7 435.5,657.7 445.5,661.7 453.5,665.7 459.5,673.7 459.5,681.7 463.4,685.7 457.5,693.6 449.5,703.6 443.5,711.6 441.5,721.6 439.5,729.5 431.5,737.5 425.5,743.5 419.6,749.5 417.6,755.5 409.6,759.5 399.6,760.5 387.7,761.5 377.7,763.4 369.7,761.5 359.7,759.5 351.7,763.4 341.8,767.4 333.8,773.4 327.8,779.4M389.6,619.8 399.6,617.8 409.6,618.8 419.6,623.8 425.5,631.8 429.5,639.8 429.5,647.8 423.6,651.7 415.6,649.8 407.6,647.8 399.6,645.8 391.6,641.8 383.7,637.8 381.7,629.8 385.7,623.8 389.6,619.8M285.9,635.8 293.9,631.8 305.9,633.8 313.9,629.8 319.8,625.8 327.8,621.8 333.8,619.8 339.8,617.8 345.8,619.8 349.8,625.8 353.7,631.8 355.7,639.8 353.7,649.8 351.7,657.7 349.8,663.7 345.8,669.7 341.8,675.7 335.8,679.7 331.8,689.6 329.8,699.6 325.8,703.6 321.8,701.6 319.8,695.6 315.8,691.6 311.9,693.6 305.9,695.6 303.9,703.6 299.9,705.6 293.9,699.6 291.9,689.6 293.9,679.7 295.9,671.7 299.9,661.7 293.9,659.7 289.9,653.7 287.9,645.8 285.9,635.8M297.9,659.7 307.9,657.7 317.8,658.7 325.8,661.7 323.8,667.7 315.8,669.7 307.9,668.7 299.9,667.7 297.9,659.7M278.0,643.8 281.9,645.8 280.9,648.8 278.0,647.8 278.0,643.8M94.4,685.1 97.1,679.7 105.3,668.8 106.6,655.2 105.3,641.6 106.6,628.0 105.3,614.4 106.6,595.4 105.3,581.8 99.8,570.9 86.2,568.2 75.4,570.9 72.6,587.2 69.9,603.5 72.6,614.4 67.2,630.7 61.8,641.6 59.0,655.2 57.7,668.8 61.8,679.7 67.2,687.8 75.4,690.6 80.8,701.4 86.2,717.8 91.7,736.8 97.1,755.8 102.6,772.1 108.0,788.5M80.8,660.6 84.9,674.2 89.0,690.6 91.7,706.9M56.3,668.8 59.0,696.0 64.5,723.2 72.6,750.4 80.8,774.9 91.7,793.9 102.6,810.2 113.4,829.3 121.6,845.6 127.0,860.0M94.4,685.1 105.3,679.7 113.4,677.0 121.6,682.4 132.5,696.0 140.6,704.2 148.8,701.4 154.2,704.2 159.7,712.3 167.8,720.5 176.0,728.6 184.2,736.8 195.0,747.7 200.5,750.4 208.6,747.7 214.1,753.1 219.5,766.7 230.4,774.9 241.3,774.9 249.4,777.6 257.6,783.0 252.1,791.2 244.0,793.9 241.3,799.3M200.5,720.5 208.6,723.2 219.5,734.1 225.0,745.0 219.5,750.4 211.4,747.7 203.2,736.8 200.5,720.5M230.4,766.7 238.5,769.4 246.7,774.9 241.3,783.0 233.1,777.6 230.4,766.7M159.7,633.4 170.6,628.0 181.4,630.7 192.3,633.4 195.0,641.6 186.9,647.0 176.0,649.8 167.8,644.3 159.7,638.9 159.7,633.4M184.2,611.7 189.6,614.4 195.0,628.0 192.3,633.4M159.7,660.6 165.1,668.8 170.6,679.7 176.0,690.6 178.7,696.0 173.3,693.3 167.8,682.4 162.4,671.5 159.7,660.6M205.9,589.9 216.8,585.8 227.7,583.1 226.3,587.2 214.1,591.3 205.9,592.6 205.9,589.9M246.7,614.4 241.3,630.7 235.8,641.6 225.0,655.2 216.8,663.4 214.1,671.5 219.5,674.2 230.4,671.5 244.0,668.8 257.6,666.1 273.9,663.4 284.8,660.6 286.1,668.8 282.1,679.7 276.6,690.6 271.2,701.4 273.9,712.3 279.3,717.8 284.8,712.3 279.3,728.6 273.9,734.1 265.7,736.8 257.6,750.4 257.6,766.7 252.1,777.6 249.4,791.2 241.3,796.6M246.7,614.4 254.9,607.6 265.7,604.9 276.6,610.3 284.8,622.6 292.9,630.7 303.8,633.4 312.0,628.0 325.6,625.3 340.0,622.6M292.9,663.4 301.1,657.9 312.0,660.6 322.9,666.1 331.0,674.2 339.2,677.0M295.7,674.2 298.4,690.6 301.1,704.2 309.3,701.4 312.0,687.8 320.1,682.4 328.3,690.6 333.7,701.4 340.0,696.0M320.1,565.4 328.3,560.0M317.4,576.3 328.3,581.8 333.7,592.6 328.3,598.1 322.9,609.0 333.7,614.4 340.0,617.1M150.0,459.8 140.1,466.7 123.4,479.2 106.7,491.7 94.2,504.3 81.7,516.8 78.0,530.0 75.0,545.0 70.0,560.0M106.7,489.7 123.4,477.1 140.1,466.7 144.3,468.8 131.7,479.2 115.1,489.7 106.7,491.7M404.0,789.9 408.0,783.9 411.9,781.9 413.9,785.9 421.9,787.9 429.9,789.9 434.9,793.9 435.9,797.9 431.9,801.9 425.9,802.9 417.9,803.9 411.9,802.9 408.0,797.9 404.0,791.9 404.0,789.9M527.6,760.0 521.6,768.0 517.7,776.0 515.7,785.9 513.7,795.9 509.7,805.9 503.7,813.9 497.7,819.8 495.7,827.8 497.7,837.8 501.7,845.8 509.7,845.8 517.7,841.8 523.6,841.8 527.6,847.8 531.6,855.7 537.6,861.7 543.6,863.7 547.6,857.7 545.6,849.8 543.6,839.8 545.6,829.8 543.6,819.8 541.6,809.9 543.6,799.9 545.6,787.9 549.6,783.9 553.6,783.9 555.5,789.9 553.6,799.9 551.6,809.9 553.6,817.8 559.5,819.8 565.5,815.8 573.5,811.9 581.5,807.9 587.5,805.9M565.5,827.8 563.5,835.8 565.5,841.8 561.5,847.8 559.5,855.7 555.5,859.7 547.6,861.7M517.7,851.7 521.6,849.8 525.6,853.7 527.6,859.7 523.6,863.7 517.7,863.7 513.7,859.7 515.7,853.7 517.7,851.7M517.7,863.7 513.7,869.7 509.7,873.7 503.7,877.7 497.7,881.7 491.7,887.7 485.7,895.6 479.8,899.6 475.8,901.6 469.8,903.6 461.8,905.6 455.8,907.6 459.8,911.6 465.8,913.6 469.8,917.6 471.8,923.6 469.8,929.5M553.6,937.5 561.5,937.5 569.5,935.5 573.5,937.5 571.5,943.5 565.5,945.5 561.5,949.5M543.6,917.6 549.6,915.6 555.5,917.6 561.5,919.6 565.5,923.6 573.5,927.5 579.5,931.5 585.5,933.5 591.5,935.5 599.4,933.5 605.4,931.5 610.0,929.5M525.6,933.5 529.6,931.5 531.6,939.5 529.6,947.5 527.6,951.5 525.6,945.5 524.6,939.5 525.6,933.5M541.6,961.5 543.6,967.4 545.6,971.4 549.6,973.4 561.5,973.4 573.5,971.4 585.5,969.4 597.4,965.4 605.4,959.5 610.0,957.5M550.6,951.5 559.5,950.5 565.5,952.5 561.5,955.5 553.6,955.5 550.6,951.5M463.8,841.8 466.8,843.8 467.8,849.8 469.8,855.7 471.8,863.7 475.8,871.7 479.8,879.7 483.7,883.7 485.7,887.7 481.7,891.6 475.8,893.6 469.8,893.6 461.8,891.6 455.8,895.6 453.8,893.6 457.8,887.7 459.8,881.7 457.8,875.7 455.8,867.7 453.8,859.7 451.8,851.7 453.8,847.8 457.8,845.8 463.8,841.8M433.9,871.7 441.9,867.7 449.8,869.7 451.8,875.7 449.8,881.7 443.9,885.7 435.9,885.7 431.9,881.7 433.9,871.7M452.2,818.8 455.0,819.4 454.2,822.2 452.2,821.4 452.2,818.8M582.5,799.9 587.5,797.9 591.5,801.9 587.5,805.9 582.5,803.9 582.5,799.9M589.5,785.9 595.4,783.9 601.4,787.9 599.4,791.9 593.4,791.9 589.5,785.9M703.7,799.7 711.7,797.7 719.7,798.7 719.7,805.7 715.7,811.7 715.7,817.7 723.7,817.7 731.6,813.7 739.6,811.7 743.6,815.7 747.6,819.7 753.6,821.7 755.6,825.7 751.6,831.6 747.6,837.6 739.6,841.6 733.6,843.6 729.6,841.6 729.6,835.6 723.7,833.6 713.7,833.6 703.7,831.6 699.7,827.7 697.7,819.7 699.7,811.7 701.7,803.7 703.7,799.7M736.6,765.8 739.6,762.8 743.6,767.8 747.6,769.8 748.6,775.8 745.6,781.8 741.6,784.8 737.6,781.8 734.6,773.8 736.6,765.8M629.9,873.5 635.9,871.5 643.9,875.5 649.9,871.5 651.9,863.6 655.8,857.6 659.8,849.6 661.8,851.6 657.8,859.6 655.8,865.5 661.8,863.6 669.8,861.6 679.8,859.6 687.8,860.6 690.8,863.6 687.8,869.5 679.8,875.5 671.8,879.5 663.8,883.5 653.9,889.5 645.9,897.5 639.9,901.5 633.9,905.4 627.9,905.4 625.9,899.5 625.9,889.5 627.9,879.5 629.9,873.5M755.6,871.5 759.6,865.5 769.5,863.6 779.5,859.6 785.5,855.6 791.5,849.6 795.5,843.6 799.5,837.6 807.4,829.6 815.4,821.7 820.0,817.7M757.6,873.5 765.5,871.5 773.5,868.5 779.5,866.5 785.5,863.6 791.5,859.6 797.5,853.6 803.4,847.6 809.4,841.6 815.4,835.6 820.0,831.6M773.5,919.4 783.5,907.4 793.5,897.5 803.4,887.5 807.4,887.5 799.5,899.5 789.5,911.4 783.5,920.0M600.0,737.9 602.0,729.9 604.0,719.9 608.0,712.0 612.0,704.0 614.0,700.0M610.0,920.0 619.9,915.4 629.9,909.4 639.9,907.4 651.9,911.4 659.8,913.4 669.8,911.4 677.8,903.4 679.8,899.5 681.8,909.4 683.8,920.0M706.0,542.0 715.9,542.0 725.9,546.0 733.9,552.0 736.9,559.9 733.9,554.0 725.9,548.0 715.9,544.0 706.0,543.0M766.8,677.6 767.8,683.6 765.8,691.6 763.8,699.6 765.8,705.5 769.8,705.5 765.8,707.5 761.8,701.6 762.8,693.6 764.8,685.6 766.8,677.6M889.5,540.0 887.5,546.0 889.5,554.0 897.4,558.0 895.4,561.9 887.5,565.9 887.5,579.9 887.5,589.9 881.5,593.9 877.5,599.8 873.5,611.8 875.5,623.8 877.5,635.7 877.5,643.7 881.5,651.7 883.5,659.7 885.5,669.6 885.5,679.6 885.5,691.6 889.5,693.6 893.4,695.6 895.4,699.6 893.4,705.5 893.4,713.5 889.5,719.5 885.5,725.5 879.5,731.5 873.5,735.5 865.5,739.5 859.5,741.5 857.5,747.4 859.5,751.4 857.5,757.4 853.6,760.0M895.4,687.6 899.4,683.6 900.4,691.6 897.4,697.6 894.4,695.6 895.4,687.6M897.4,540.0 899.4,548.0 901.4,559.9 904.4,571.9 905.4,581.9M444.4,968.2 438.6,974.0 427.0,976.9 416.8,984.1 413.9,989.9 395.1,992.8 380.6,997.2 363.2,1004.4 366.1,1011.7 363.2,1017.5 354.4,1019.0 357.4,1024.8 366.1,1029.1 380.6,1036.4 395.1,1042.2 409.6,1046.5 424.1,1049.4 453.1,1050.9 476.3,1050.9 496.6,1050.1 518.4,1049.4 540.1,1046.5 550.0,1045.1M476.3,900.0 470.5,902.9 463.2,904.4 456.0,907.3 460.3,911.6 467.6,914.5 472.0,921.8 470.5,929.0 467.6,933.4 453.1,931.9 438.6,929.7 428.4,930.5 427.0,940.6 424.1,952.2 425.5,959.5 432.8,960.9 438.6,963.8 444.4,968.2 453.1,966.7 464.7,965.3 473.4,960.9 477.8,955.1 479.2,949.3 485.0,945.0 493.7,940.6 496.6,934.8 503.9,933.4 511.1,933.4 518.4,929.0 525.6,926.1 532.9,927.6 540.1,931.9 550.0,934.8M444.4,968.2 450.2,971.1 463.2,974.0 474.9,971.1 489.4,968.2 503.9,966.7 518.4,963.8 532.9,960.9 541.6,960.2 543.0,965.3 540.1,974.0 550.0,975.4M369.0,984.9 371.9,985.6M374.8,987.8 376.9,988.5M386.4,987.8 389.3,987.0M491.5,952.2 495.9,953.4M525.6,934.8 530.0,933.4 532.9,937.7 531.4,946.4 528.5,953.7 525.6,949.3 524.9,942.1 525.6,934.8M624.9,880.0 626.5,889.8 624.9,901.2 631.4,906.1 637.9,902.8 646.1,896.3 654.2,888.2 662.4,883.3 670.5,881.6 678.7,880.0M602.0,924.1 610.2,920.8 618.3,917.5 624.9,917.5 628.1,922.4 631.4,925.7 641.2,924.1 651.0,920.8 660.8,915.9 667.3,912.6 670.5,911.0 675.4,907.7 680.3,901.2 683.6,907.7 685.2,917.5 683.6,927.3 678.7,932.2 672.2,933.9 667.3,935.5 660.8,940.4 654.2,945.3 644.4,948.5 634.6,951.8 621.6,955.1 610.2,960.0 602.0,963.2 603.6,969.8 598.7,973.0 589.0,973.0 577.5,974.6 564.5,973.0 553.1,973.0 540.0,973.0M540.0,917.5 546.5,913.5 553.1,915.1 556.3,920.0 564.5,922.4 572.6,924.1 580.8,927.3 584.1,930.6 577.5,933.9 572.6,935.5 575.9,940.4 571.0,943.6 562.8,945.3M551.4,951.8 559.6,950.2 567.7,951.8 566.1,955.1 558.0,954.2 551.4,953.4 551.4,951.8M618.3,942.0 624.9,938.7 633.0,937.9 631.4,940.4 621.6,943.6 618.3,942.0M673.8,933.9 683.6,937.1 691.8,938.7 703.2,942.0 711.3,940.4 719.5,935.5 727.7,933.9 735.8,932.2 752.1,927.3 765.2,925.7 771.7,920.8 781.5,912.6 792.9,901.2 801.1,891.4 806.0,886.5M683.6,929.0 691.8,929.0 703.2,930.6 719.5,929.0 727.7,930.6 744.0,927.3 757.0,924.1 765.2,920.8 775.0,912.6 784.8,902.8 794.6,893.1 801.1,884.9 804.4,880.0M572.6,1027.7 579.2,1026.0 587.3,1026.9 580.8,1028.8 572.6,1027.7M360.0,447.7 368.0,440.7 376.0,433.7 379.9,425.8 383.9,417.8 387.9,407.8 391.9,399.8 397.9,393.9 405.9,387.9 412.3,382.3 413.9,385.5 407.9,391.5 399.9,398.2 393.9,405.8 389.9,414.2 394.9,415.8 401.9,414.2 409.9,413.8 417.8,415.4 425.8,414.2 430.8,418.8 427.8,423.8 423.8,429.8 419.8,435.7 416.8,439.7M417.4,377.5 420.2,375.5M423.4,372.3 429.0,368.7M371.0,415.8 374.0,411.8 378.0,413.8 377.0,418.8 373.0,419.8 371.0,415.8M609.6,657.6 601.0,660.4 592.8,662.8 594.4,668.5 596.1,676.7 594.4,684.9 597.7,691.4 601.0,696.3 602.6,697.9 610.8,697.9 613.2,702.8 609.1,707.7 604.2,714.2 602.6,720.8 601.8,727.3 602.6,733.8 601.0,738.7 594.4,738.7 587.9,735.4 586.3,737.9 591.2,740.3 596.1,743.6 597.7,746.9 594.4,751.8 591.2,756.7 592.8,761.6 596.1,764.8 592.8,769.7 587.9,771.4 581.4,769.7 578.1,764.8 570.0,763.2 576.5,761.6 584.7,761.6 587.9,758.3 589.5,753.4 587.9,748.5 583.0,746.1 574.9,745.2 566.7,745.2 558.5,746.9 552.0,748.5 545.5,745.2 539.0,746.9 534.1,750.1 529.2,756.7 524.3,761.6 521.0,768.1 517.7,773.0 514.5,780.0M601.0,660.4 614.0,662.0 625.4,663.6 633.6,666.9 640.1,671.8 641.8,676.7 638.5,678.3 633.6,673.4 627.1,670.2 620.6,668.5 614.0,666.9 609.1,668.5 614.0,673.4 620.6,678.3 625.4,680.8 618.9,684.9 610.8,689.8 604.2,694.7 602.6,697.9M591.2,721.6 593.6,719.9 596.1,722.4 593.6,724.4 591.2,721.6M853.5,760.0 843.8,769.5 828.6,784.8 821.0,803.8 819.8,817.5M409.3,496.1 397.9,501.0 384.9,504.3 371.8,509.2 368.5,517.3 366.9,523.9 363.6,530.4 355.5,536.9 350.6,541.8 344.1,546.7 337.5,551.6 331.0,554.9 327.7,561.4 324.5,569.5 328.6,574.4 330.2,581.0 322.8,585.9 318.0,590.8 316.3,597.3 319.6,602.2 315.5,607.1 318.0,610.3 324.5,610.3 331.0,607.1 337.5,605.4 332.6,612.0 326.1,616.9 318.0,621.8 313.1,626.7 306.5,629.9 300.0,633.2M321.2,530.4 326.1,525.5 332.6,523.9 335.1,528.7 334.3,536.9 329.4,541.8 324.5,538.5 321.2,533.6 321.2,530.4M439.6,452.6 451.8,455.1 460.8,456.0 470.0,463.4 477.4,469.8 488.4,474.3 501.2,477.1 503.0,469.8 506.7,471.6 511.2,476.2 524.9,481.7 528.7,484.4 527.7,490.0 534.1,495.4 541.4,499.1 545.1,504.6 544.2,510.1 552.4,519.2M361.3,547.6 365.7,546.5 371.1,547.1 375.5,552.0 379.8,556.3 380.9,560.7 378.7,565.0 374.4,567.2 370.0,568.8 367.9,566.1 365.7,560.7 363.5,555.2 361.3,550.9 361.3,547.6M385.3,570.5 389.6,566.1 392.9,565.0 395.1,570.5 396.2,577.0 395.1,581.3 390.7,580.3 387.5,575.9 385.3,572.6 385.3,570.5M328.7,559.6 333.1,556.3 338.5,554.1 341.8,553.1 345.0,555.2 346.1,559.6 345.0,565.0 349.4,563.9 352.6,561.8 355.9,559.6 360.3,561.8 363.5,568.3 361.3,572.6 358.1,578.1 357.0,583.5 359.2,586.8 361.3,591.1 359.2,593.3 354.8,592.2 350.5,589.0 346.1,587.9 341.8,587.9 337.4,590.0 334.1,594.4 330.9,593.3 328.7,587.9 329.8,581.3 327.6,575.9 324.4,571.6 322.2,568.3 324.4,563.9 328.7,559.6M372.2,577.0 376.6,574.8 380.9,575.9 383.1,580.3 382.0,584.6 378.7,586.8 374.4,587.9 373.3,583.5 372.2,577.0M371.1,589.0 376.6,586.8 380.9,589.0 383.1,594.4 380.9,596.6 376.6,595.5 373.3,594.4 371.1,592.2 371.1,589.0M369.0,603.1 372.2,598.7 377.7,597.7 380.9,600.9 380.9,605.3 377.7,607.5 372.2,607.5 369.5,605.8 369.0,603.1M342.8,600.9 348.3,596.6 354.8,595.5 359.2,597.7 361.3,602.0 359.2,605.3 354.8,606.4 350.5,607.5 346.1,607.5 342.8,604.2 342.8,600.9M350.5,611.8 354.8,610.7 358.1,612.9 359.2,617.2 357.0,620.5 352.6,620.5 350.5,617.2 350.5,611.8M364.6,611.8 367.9,610.7 370.0,612.9 369.0,615.1 365.7,615.6 364.6,614.0 364.6,611.8M363.5,620.5 367.9,618.3 373.3,616.2 376.6,615.1 378.7,612.9 380.9,614.0 378.7,618.3 376.6,622.7 375.5,627.0 374.4,632.5 372.2,637.9 370.0,641.2 366.8,642.3 364.6,637.9 363.5,632.5 364.6,627.0 363.5,620.5M385.3,596.6 389.6,594.4 391.8,597.7 389.6,600.9 386.4,600.9 385.3,596.6M387.5,605.3 391.8,603.1 396.2,602.0 400.5,599.8 401.6,603.1 398.3,607.5 394.0,609.6 389.6,610.7 387.5,608.5 387.5,605.3M385.3,614.0 389.6,611.8 392.9,614.0 391.8,618.3 387.5,618.3 385.3,616.2 385.3,614.0M390.7,587.9 395.1,585.7 398.3,587.9 397.2,592.2 394.0,593.3 391.8,591.1 390.7,587.9M341.8,632.5 348.3,629.2 355.9,629.2 360.3,633.6 359.2,640.1 355.9,644.4 352.6,647.7 348.3,648.8 343.9,646.6 341.8,642.3 341.8,632.5M342.8,631.4 349.4,630.3 355.9,630.8M350.5,642.3 354.8,641.2 359.2,643.4 360.3,648.8 357.0,652.1 352.6,651.0 350.5,646.6 350.5,642.3M352.6,540.0 347.2,545.4 340.7,549.8 334.1,553.1 329.8,557.4 326.5,562.8 324.4,568.3 323.3,572.6M320.0,600.9 324.4,603.1 330.9,602.0 335.2,605.3 330.9,608.5 324.4,610.7 320.0,611.8M320.0,623.8 326.5,619.4 332.0,616.2 337.4,615.1 341.8,614.0M320.0,634.7 326.5,633.6 332.0,632.5 336.3,629.2 341.8,623.8M70.0,560.0 66.0,575.0 63.6,601.5 61.7,619.6 58.1,646.8 56.3,670.0" fill="none" stroke="#000" stroke-width="2" stroke-linejoin="round" stroke-linecap="round"/>
<path d="M1261.1,459.2 1269.0,457.2 1274.9,453.2 1280.8,445.3 1288.7,441.4 1300.6,439.4 1308.5,437.4 1316.4,437.4 1318.4,435.4 1320.3,439.4 1326.3,443.3 1332.2,449.3 1336.1,453.2 1340.1,457.2 1344.0,459.2 1352.0,457.2 1359.9,455.2 1367.8,454.2 1373.7,453.6 1379.6,456.2 1387.5,458.2 1395.4,457.2 1399.4,459.2 1403.3,458.2 1411.2,457.2 1419.1,456.2 1427.0,456.2 1434.9,457.2 1442.8,456.2 1450.7,453.2 1458.7,449.3 1466.6,446.3 1474.5,444.3 1476.4,439.4 1479.0,435.4M1344.0,465.1 1350.0,461.1 1359.9,457.2 1369.7,454.2 1374.7,453.6 1371.7,457.2 1363.8,461.1 1355.9,465.1 1350.0,468.0 1345.0,468.0 1344.0,465.1M1387.5,448.3 1395.4,447.3 1402.3,449.3 1401.3,452.2 1395.4,451.2 1389.5,450.3 1387.5,448.3M1417.2,454.2 1423.1,457.2 1429.0,461.1 1428.0,464.1 1421.1,463.1 1419.1,459.2 1417.2,454.2M1377.6,542.1 1379.6,540.2 1382.6,544.1 1385.5,546.1 1381.6,550.0 1378.6,555.0 1377.6,550.0 1377.6,542.1M1399.4,530.3 1403.3,528.3 1406.3,534.2 1408.3,538.2 1405.3,542.1 1403.3,550.0 1402.3,556.0 1400.4,550.0 1399.4,542.1 1398.4,536.2 1399.4,530.3M1431.0,526.3 1436.9,522.4 1442.8,523.4 1444.8,532.3 1438.9,538.2 1434.9,536.2 1432.0,532.3 1431.0,526.3M1316.4,588.6 1324.3,584.6 1332.2,581.7 1337.1,580.7 1338.1,583.6 1332.2,587.6 1324.3,589.6 1318.4,591.5 1316.4,588.6M1355.9,567.8 1361.8,569.8 1365.8,573.8 1363.8,574.7 1357.9,571.8 1355.9,567.8M1353.9,611.3 1359.9,607.4 1367.8,603.4 1373.7,602.4 1379.6,603.4 1387.5,609.3 1391.5,615.3 1393.4,617.8M1429.5,457.3 1441.3,453.3 1453.2,447.4 1463.1,445.4 1474.9,442.5 1477.9,439.5M1516.4,496.8 1528.3,492.9 1536.2,488.9 1542.1,483.0 1544.1,477.0 1542.1,471.1 1548.0,465.2 1546.1,459.3 1540.1,457.3 1534.2,453.3 1530.2,447.4 1526.3,443.5 1524.3,439.5M1580.6,482.0 1585.6,480.0 1589.1,482.0 1585.6,484.9 1580.6,484.0 1580.6,482.0M1639.9,524.5 1642.9,523.5 1644.9,529.4 1641.9,531.4 1639.9,527.4 1639.9,524.5M1627.6,413.5 1635.5,414.5 1643.4,415.5 1647.4,417.5 1643.4,423.4 1639.5,427.3 1637.5,432.3 1643.4,429.3 1651.3,426.4 1656.3,425.4 1657.2,431.3 1663.2,433.3 1671.1,430.3 1677.0,423.4 1682.9,423.4 1686.9,426.4 1690.8,428.3 1694.8,433.3 1702.7,438.2 1710.6,443.2 1718.5,447.1 1726.4,447.1 1738.3,445.1 1750.1,444.7 1758.0,447.1 1759.0,443.2 1756.0,435.3 1750.1,432.3 1746.2,427.3 1745.8,421.4M1637.5,432.3 1641.4,425.4 1649.3,419.4 1653.3,413.5 1652.3,405.6 1653.3,397.7 1657.2,391.8 1663.2,386.8 1671.1,383.9 1679.0,380.9 1684.9,377.0 1690.8,374.0 1692.8,373.0 1691.8,381.9 1688.9,391.8 1686.9,399.7 1682.9,405.6 1675.0,408.6 1667.1,411.5 1659.2,415.5 1653.3,419.4 1647.4,423.4 1641.4,427.3 1637.5,432.3M1694.8,373.0 1699.7,372.0M1643.0,382.9 1645.8,386.2M1736.3,423.4 1740.2,419.4 1744.2,413.5 1748.1,405.6 1750.1,397.7 1754.1,393.8 1758.0,389.8 1762.0,385.9 1765.9,383.9 1767.9,377.9 1765.9,370.0 1764.0,366.1M1730.4,364.1 1738.3,365.1 1746.2,366.1 1754.1,367.1 1762.0,366.1 1769.9,370.0 1777.8,374.0 1785.7,374.0 1791.6,370.0 1797.5,364.1 1803.5,356.2 1807.4,354.2 1811.4,358.2 1817.3,362.1 1825.2,366.1 1833.1,368.1 1837.1,372.0 1845.6,376.0M1745.8,422.4 1748.1,417.5 1752.1,411.5 1758.0,407.6 1765.9,403.6 1775.8,401.7 1785.7,400.7 1797.5,400.7 1805.4,402.6 1811.4,407.6 1817.3,411.5 1821.3,413.5 1825.2,415.5 1833.1,415.5 1841.0,419.4 1845.6,421.4M1627.6,476.7 1635.5,480.7 1635.5,486.6 1641.4,492.6 1647.4,498.5 1651.3,504.4 1655.3,512.3 1661.2,516.3 1667.1,520.2 1673.1,518.2 1679.0,524.2 1686.9,528.1 1690.8,532.1 1688.9,540.0 1684.9,548.5M1639.5,525.2 1642.4,523.2 1644.4,528.1 1641.4,529.1 1639.5,525.2M1647.4,534.1 1653.3,532.1 1659.2,536.0 1657.2,542.0 1651.3,542.9 1647.4,538.0 1647.4,534.1M1657.2,523.2 1661.2,522.2 1662.2,526.1 1659.2,528.1 1657.2,523.2M1811.4,540.0 1817.3,538.0 1825.2,538.0 1831.1,540.0 1837.1,545.9M1805.9,352.3 1813.8,356.2 1823.7,362.1 1831.6,368.1 1839.5,373.0 1847.4,377.9 1855.3,381.9 1862.2,383.9 1863.2,387.8 1859.3,392.8 1853.4,389.8 1845.5,384.9 1837.5,379.9 1831.6,377.0 1825.7,373.0 1817.8,369.1 1805.9,367.1M1873.1,381.9 1886.9,387.8M1805.9,403.6 1813.8,407.6 1817.8,411.5 1825.7,415.5 1835.6,417.5 1845.5,421.4 1847.4,413.5 1848.4,405.6 1855.3,401.7 1863.2,405.6 1866.2,411.5 1861.3,417.5 1859.3,423.4 1855.3,429.3 1853.4,433.3 1857.3,441.2 1861.3,449.1 1865.2,453.0 1871.1,455.0 1877.1,457.0 1881.0,464.9 1879.0,457.0 1875.1,449.1 1873.1,441.2 1877.1,439.2 1881.0,445.1 1886.9,449.1 1890.9,443.2 1894.9,435.3 1900.8,427.3 1904.7,425.4 1912.6,429.3 1920.5,431.3 1928.4,437.2 1936.3,445.1 1944.3,457.0 1950.2,466.9 1956.1,476.7 1962.0,482.7 1966.0,488.6 1964.0,496.5 1968.0,504.4 1972.9,510.3 1974.9,504.4 1973.9,494.5 1977.8,486.6 1983.8,488.6 1987.7,498.5 1991.7,508.4 1995.6,520.2 1998.6,536.0 2000.6,548.5M1913.6,419.4 1918.6,415.5 1924.5,421.4 1920.5,424.4 1914.6,422.4 1913.6,419.4M1924.5,370.0 1934.4,377.9 1942.3,393.8 1944.3,405.6 1942.3,415.5 1934.4,413.5 1928.4,405.6 1930.4,397.7 1926.5,385.9 1924.5,370.0M1948.2,415.5 1956.1,419.4 1962.0,425.4M1811.9,540.0 1821.7,538.0 1829.6,542.0 1837.5,548.5M1663.1,518.8 1667.0,520.7 1672.9,519.7 1678.9,523.7 1686.8,526.7 1690.7,530.6 1686.8,536.5 1682.8,540.5 1684.8,548.4 1688.8,554.3 1692.7,558.3 1693.7,564.2 1695.7,570.1 1698.6,576.1 1701.6,582.0 1698.6,584.0 1692.7,578.0 1684.8,578.0 1678.9,582.0 1677.9,587.9 1678.9,591.9 1674.9,595.8 1677.9,599.8 1682.8,603.7 1686.8,609.6 1690.7,617.6 1694.7,623.5 1700.6,627.4 1704.6,633.4 1706.5,639.3 1712.5,637.3 1717.4,639.3 1714.4,645.2 1710.5,649.2 1714.4,651.1 1720.4,649.2 1716.4,655.1M1674.9,657.1 1678.9,655.1 1680.9,661.0 1682.8,672.9 1686.8,684.7 1692.7,692.6 1698.6,696.6 1704.6,696.6 1702.6,700.5 1694.7,704.5 1688.8,700.5 1684.8,692.6 1680.9,682.8 1676.9,672.9 1674.9,665.0 1674.9,657.1M1640.3,524.7 1643.3,522.7 1645.3,528.6 1642.3,530.6 1640.3,524.7M1647.3,534.6 1653.2,532.6 1659.1,534.6 1659.1,542.5 1655.2,544.4 1649.2,540.5 1647.3,534.6M1657.1,524.7 1661.1,522.7 1663.1,526.7 1659.1,528.6 1657.1,524.7M1637.4,653.1 1643.3,649.2 1647.3,655.1 1649.2,661.0 1645.3,665.0 1639.4,667.0 1635.4,663.0 1637.4,653.1M1651.2,613.6 1657.1,609.6 1663.1,601.7 1669.0,597.8 1672.9,603.7 1669.0,609.6 1663.1,615.6 1657.1,617.6 1651.2,613.6M1599.8,692.6 1607.7,688.7 1615.6,686.7 1619.6,690.7 1621.6,698.6 1623.5,704.5 1617.6,706.5 1615.6,714.4 1613.7,715.4 1607.7,706.5 1603.8,700.5 1599.8,692.6M1697.6,718.3 1701.6,717.3 1702.6,721.3 1698.6,722.3 1697.6,718.3M1692.7,732.2 1698.6,730.2 1704.6,732.2 1702.6,736.7M1437.2,775.7 1435.2,765.9 1433.3,756.0 1435.2,748.1 1439.2,740.2 1443.1,732.3 1449.1,726.3 1455.0,720.4 1460.9,716.5 1466.9,710.5 1470.8,704.6 1476.7,700.7 1480.7,694.7 1486.6,686.8 1490.6,676.9 1492.5,667.1 1490.6,657.2 1492.5,651.3 1500.4,647.3 1512.3,645.3 1524.2,647.3 1536.0,651.3 1543.9,655.2 1553.8,659.2 1561.7,663.1 1567.6,671.0 1567.6,678.9 1571.6,682.9 1565.7,690.8 1557.7,700.7 1551.8,708.6 1549.8,718.4 1547.9,726.3 1540.0,734.2 1534.0,740.2 1528.1,746.1 1526.1,752.0 1518.2,756.0 1508.3,757.0 1496.5,758.0 1486.6,759.9 1478.7,758.0 1468.8,756.0 1460.9,759.9 1451.0,763.9 1443.1,769.8 1437.2,775.7M1498.5,617.7 1508.3,615.7 1518.2,616.7 1528.1,621.6 1534.0,629.5 1538.0,637.4 1538.0,645.3 1532.1,649.3 1524.2,647.3 1516.3,645.3 1508.3,643.3 1500.4,639.4 1492.5,635.4 1490.6,627.5 1494.5,621.6 1498.5,617.7M1395.7,633.5 1403.6,629.5 1415.5,631.5 1423.4,627.5 1429.3,623.6 1437.2,619.6 1443.1,617.7 1449.1,615.7 1455.0,617.7 1458.9,623.6 1462.9,629.5 1464.9,637.4 1462.9,647.3 1460.9,655.2 1458.9,661.1 1455.0,667.1 1451.0,673.0 1445.1,676.9 1441.2,686.8 1439.2,696.7 1435.2,700.7 1431.3,698.7 1429.3,692.7 1425.4,688.8 1421.4,690.8 1415.5,692.7 1413.5,700.7 1409.5,702.6 1403.6,696.7 1401.6,686.8 1403.6,676.9 1405.6,669.0 1409.5,659.2 1403.6,657.2 1399.7,651.3 1397.7,643.3 1395.7,633.5M1407.6,657.2 1417.5,655.2 1427.3,656.2 1435.2,659.2 1433.3,665.1 1425.4,667.1 1417.5,666.1 1409.5,665.1 1407.6,657.2M1387.8,641.4 1391.8,643.3 1390.8,646.3 1387.8,645.3 1387.8,641.4M1206.0,682.3 1208.7,676.9 1216.7,666.2 1218.1,652.7 1216.7,639.2 1218.1,625.7 1216.7,612.3 1218.1,593.4 1216.7,579.9 1211.4,569.2 1197.9,566.5 1187.1,569.2 1184.4,585.3 1181.7,601.5 1184.4,612.3 1179.0,628.4 1173.6,639.2 1170.9,652.7 1169.6,666.2 1173.6,676.9 1179.0,685.0 1187.1,687.7 1192.5,698.5 1197.9,714.7 1203.3,733.5 1208.7,752.4 1214.1,768.6 1219.4,784.7M1192.5,658.1 1196.5,671.6 1200.6,687.7 1203.3,703.9M1168.2,666.2 1170.9,693.1 1176.3,720.1 1184.4,747.0 1192.5,771.2 1203.3,790.1 1214.1,806.3 1224.8,825.1 1232.9,841.3 1238.3,855.6M1206.0,682.3 1216.7,676.9 1224.8,674.2 1232.9,679.6 1243.7,693.1 1251.8,701.2 1259.9,698.5 1265.2,701.2 1270.6,709.3 1278.7,717.4 1286.8,725.4 1294.9,733.5 1305.7,744.3 1311.1,747.0 1319.1,744.3 1324.5,749.7 1329.9,763.2 1340.7,771.2 1351.5,771.2 1359.6,773.9 1367.6,779.3 1362.3,787.4 1354.2,790.1 1351.5,795.5M1311.1,717.4 1319.1,720.1 1329.9,730.8 1335.3,741.6 1329.9,747.0 1321.8,744.3 1313.8,733.5 1311.1,717.4M1340.7,763.2 1348.8,765.9 1356.9,771.2 1351.5,779.3 1343.4,773.9 1340.7,763.2M1270.6,631.1 1281.4,625.7 1292.2,628.4 1303.0,631.1 1305.7,639.2 1297.6,644.6 1286.8,647.3 1278.7,641.9 1270.6,636.5 1270.6,631.1M1294.9,609.6 1300.3,612.3 1305.7,625.7 1303.0,631.1M1270.6,658.1 1276.0,666.2 1281.4,676.9 1286.8,687.7 1289.5,693.1 1284.1,690.4 1278.7,679.6 1273.3,668.9 1270.6,658.1M1316.4,588.0 1327.2,584.0 1338.0,581.3 1336.7,585.3 1324.5,589.4 1316.4,590.7 1316.4,588.0M1356.9,612.3 1351.5,628.4 1346.1,639.2 1335.3,652.7 1327.2,660.8 1324.5,668.9 1329.9,671.6 1340.7,668.9 1354.2,666.2 1367.6,663.5 1383.8,660.8 1394.6,658.1 1395.9,666.2 1391.9,676.9 1386.5,687.7 1381.1,698.5 1383.8,709.3 1389.2,714.7 1394.6,709.3 1389.2,725.4 1383.8,730.8 1375.7,733.5 1367.6,747.0 1367.6,763.2 1362.3,773.9 1359.6,787.4 1351.5,792.8M1356.9,612.3 1364.9,605.5 1375.7,602.8 1386.5,608.2 1394.6,620.4 1402.7,628.4 1413.4,631.1 1421.5,625.7 1435.0,623.1 1449.3,620.4M1402.7,660.8 1410.8,655.4 1421.5,658.1 1432.3,663.5 1440.4,671.6 1448.5,674.2M1405.4,671.6 1408.1,687.7 1410.8,701.2 1418.8,698.5 1421.5,685.0 1429.6,679.6 1437.7,687.7 1443.1,698.5 1449.3,693.1M1429.6,563.8 1437.7,558.4M1426.9,574.5 1437.7,579.9 1443.1,590.7 1437.7,596.1 1432.3,606.9 1443.1,612.3 1449.3,615.0M1261.1,459.1 1251.2,466.0 1234.7,478.3 1218.2,490.7 1205.8,503.2 1193.4,515.6 1189.7,528.7 1186.8,543.5 1181.8,558.4M1218.2,488.7 1234.7,476.3 1251.2,466.0 1255.4,468.0 1242.9,478.3 1226.5,488.7 1218.2,490.7M1512.7,786.2 1516.6,780.2 1520.6,778.3 1522.5,782.2 1530.4,784.2 1538.3,786.2 1543.3,790.1 1544.3,794.1 1540.3,798.0 1534.4,799.0 1526.5,800.0 1520.6,799.0 1516.6,794.1 1512.7,788.1 1512.7,786.2M1635.2,756.5 1629.2,764.4 1625.3,772.3 1623.3,782.2 1621.3,792.1 1617.4,802.0 1611.5,809.9 1605.5,815.8 1603.5,823.7 1605.5,833.6 1609.5,841.5 1617.4,841.5 1625.3,837.5 1631.2,837.5 1635.2,843.5 1639.1,851.4 1645.0,857.3 1651.0,859.3 1654.9,853.3 1652.9,845.4 1651.0,835.6 1652.9,825.7 1651.0,815.8 1649.0,805.9 1651.0,796.0 1652.9,784.2 1656.9,780.2 1660.9,780.2 1662.8,786.2 1660.9,796.0 1658.9,805.9 1660.9,813.8 1666.8,815.8 1672.7,811.8 1680.6,807.9 1688.5,803.9 1694.4,802.0M1672.7,823.7 1670.7,831.6 1672.7,837.5 1668.8,843.5 1666.8,851.4 1662.8,855.3 1654.9,857.3M1625.3,847.4 1629.2,845.4 1633.2,849.4 1635.2,855.3 1631.2,859.3 1625.3,859.3 1621.3,855.3 1623.3,849.4 1625.3,847.4M1625.3,859.3 1621.3,865.2 1617.4,869.2 1611.5,873.1 1605.5,877.1 1599.6,883.0 1593.7,890.9 1587.7,894.8 1583.8,896.8 1577.9,898.8 1570.0,900.8 1564.0,902.7 1568.0,906.7 1573.9,908.7 1577.9,912.6 1579.8,918.6 1577.9,924.5M1660.9,932.4 1668.8,932.4 1676.7,930.4 1680.6,932.4 1678.6,938.3 1672.7,940.3 1668.8,944.2M1651.0,912.6 1656.9,910.6 1662.8,912.6 1668.8,914.6 1672.7,918.6 1680.6,922.5 1686.5,926.5 1692.5,928.4 1698.4,930.4 1706.3,928.4 1712.2,926.5 1716.8,924.5M1633.2,928.4 1637.1,926.5 1639.1,934.4 1637.1,942.3 1635.2,946.2 1633.2,940.3 1632.2,934.4 1633.2,928.4M1649.0,956.1 1651.0,962.0 1652.9,966.0 1656.9,967.9 1668.8,967.9 1680.6,966.0 1692.5,964.0 1704.3,960.0 1712.2,954.1 1716.8,952.1M1657.9,946.2 1666.8,945.2 1672.7,947.2 1668.8,950.2 1660.9,950.2 1657.9,946.2M1571.9,837.5 1574.9,839.5 1575.9,845.4 1577.9,851.4 1579.8,859.3 1583.8,867.2 1587.7,875.1 1591.7,879.0 1593.7,883.0 1589.7,886.9 1583.8,888.9 1577.9,888.9 1570.0,886.9 1564.0,890.9 1562.1,888.9 1566.0,883.0 1568.0,877.1 1566.0,871.1 1564.0,863.2 1562.1,855.3 1560.1,847.4 1562.1,843.5 1566.0,841.5 1571.9,837.5M1542.3,867.2 1550.2,863.2 1558.1,865.2 1560.1,871.1 1558.1,877.1 1552.2,881.0 1544.3,881.0 1540.3,877.1 1542.3,867.2M1560.5,814.8 1563.2,815.4 1562.4,818.2 1560.5,817.4 1560.5,814.8M1689.5,796.0 1694.4,794.1 1698.4,798.0 1694.4,802.0 1689.5,800.0 1689.5,796.0M1696.4,782.2 1702.3,780.2 1708.3,784.2 1706.3,788.1 1700.4,788.1 1696.4,782.2M1809.6,795.9 1817.5,793.9 1825.4,794.9 1825.4,801.8 1821.5,807.7 1821.5,813.7 1829.4,813.7 1837.3,809.7 1845.2,807.7 1849.1,811.7 1853.1,815.6 1859.0,817.6 1861.0,821.6 1857.0,827.5 1853.1,833.4 1845.2,837.4 1839.3,839.3 1835.3,837.4 1835.3,831.4 1829.4,829.5 1819.5,829.5 1809.6,827.5 1805.7,823.5 1803.7,815.6 1805.7,807.7 1807.6,799.8 1809.6,795.9M1842.2,762.3 1845.2,759.3 1849.1,764.3 1853.1,766.2 1854.1,772.2 1851.1,778.1 1847.2,781.1 1843.2,778.1 1840.2,770.2 1842.2,762.3M1736.5,869.0 1742.4,867.0 1750.3,871.0 1756.3,867.0 1758.2,859.1 1762.2,853.2 1766.1,845.3 1768.1,847.3 1764.2,855.2 1762.2,861.1 1768.1,859.1 1776.0,857.1 1785.9,855.2 1793.8,856.1 1796.8,859.1 1793.8,865.0 1785.9,871.0 1778.0,874.9 1770.1,878.9 1760.2,884.8 1752.3,892.7 1746.4,896.7 1740.5,900.6 1734.5,900.6 1732.6,894.7 1732.6,884.8 1734.5,874.9 1736.5,869.0M1861.0,867.0 1864.9,861.1 1874.8,859.1 1884.7,855.2 1890.6,851.2 1896.6,845.3 1900.5,839.3 1904.5,833.4 1912.4,825.5 1920.3,817.6 1924.8,813.7M1863.0,869.0 1870.9,867.0 1878.8,864.0 1884.7,862.1 1890.6,859.1 1896.6,855.2 1902.5,849.2 1908.4,843.3 1914.3,837.4 1920.3,831.4 1924.8,827.5M1878.8,914.4 1888.7,902.6 1898.5,892.7 1908.4,882.8 1912.4,882.8 1904.5,894.7 1894.6,906.5 1888.7,915.0M1706.9,734.6 1708.8,726.7 1710.8,716.8 1714.8,708.9 1718.7,701.0 1720.7,697.1M1716.7,915.0 1726.6,910.5 1736.5,904.6 1746.4,902.6 1758.2,906.5 1766.1,908.5 1776.0,906.5 1783.9,898.6 1785.9,894.7 1787.9,904.6 1789.9,915.0M1811.8,540.5 1821.7,540.5 1831.6,544.5 1839.5,550.4 1842.5,558.3 1839.5,552.4 1831.6,546.5 1821.7,542.5 1811.8,541.5M1872.1,674.9 1873.1,680.8 1871.1,688.7 1869.1,696.6 1871.1,702.6 1875.1,702.6 1871.1,704.6 1867.2,698.6 1868.1,690.7 1870.1,682.8 1872.1,674.9M1993.6,538.6 1991.6,544.5 1993.6,552.4 2001.5,556.4 1999.6,560.3 1991.6,564.3 1991.6,578.1 1991.6,588.0 1985.7,591.9 1981.8,597.8 1977.8,609.7 1979.8,621.6 1981.8,633.4 1981.8,641.3 1985.7,649.2 1987.7,657.1 1989.7,667.0 1989.7,676.9 1989.7,688.7 1993.6,690.7 1997.6,692.7 1999.6,696.6 1997.6,702.6 1997.6,710.5 1993.6,716.4 1989.7,722.3 1983.7,728.3 1977.8,732.2 1969.9,736.2 1964.0,738.1 1962.0,744.1 1964.0,748.0 1962.0,754.0 1958.1,756.5M1999.6,684.8 2003.5,680.8 2004.5,688.7 2001.5,694.7 1998.6,692.7 1999.6,684.8M2001.5,538.6 2003.5,546.5 2005.5,558.3 2008.4,570.2 2009.4,580.1M1552.7,962.8 1547.0,968.5 1535.5,971.4 1525.4,978.6 1522.5,984.3 1503.8,987.2 1489.5,991.5 1472.2,998.7 1475.1,1005.9 1472.2,1011.6 1463.6,1013.1 1466.5,1018.8 1475.1,1023.1 1489.5,1030.3 1503.8,1036.1 1518.2,1040.4 1532.6,1043.2 1561.3,1044.7 1584.3,1044.7 1604.4,1044.0 1626.0,1043.2 1647.6,1040.4 1657.3,1038.9M1584.3,895.2 1578.6,898.1 1571.4,899.5 1564.2,902.4 1568.5,906.7 1575.7,909.6 1580.0,916.8 1578.6,924.0 1575.7,928.3 1561.3,926.8 1547.0,924.7 1536.9,925.4 1535.5,935.5 1532.6,947.0 1534.0,954.1 1541.2,955.6 1547.0,958.5 1552.7,962.8 1561.3,961.3 1572.8,959.9 1581.4,955.6 1585.8,949.8 1587.2,944.1 1592.9,939.8 1601.6,935.5 1604.4,929.7 1611.6,928.3 1618.8,928.3 1626.0,924.0 1633.2,921.1 1640.4,922.5 1647.6,926.8 1657.3,929.7M1552.7,962.8 1558.5,965.6 1571.4,968.5 1582.9,965.6 1597.3,962.8 1611.6,961.3 1626.0,958.5 1640.4,955.6 1649.0,954.9 1650.4,959.9 1647.6,968.5 1657.3,969.9M1478.0,979.3 1480.8,980.0M1483.7,982.2 1485.9,982.9M1495.2,982.2 1498.1,981.4M1599.4,947.0 1603.7,948.1M1633.2,929.7 1637.5,928.3 1640.4,932.6 1638.9,941.2 1636.1,948.4 1633.2,944.1 1632.5,936.9 1633.2,929.7M1731.5,875.4 1733.1,885.1 1731.5,896.4 1738.0,901.3 1744.4,898.0 1752.5,891.6 1760.6,883.5 1768.7,878.6 1776.8,877.0 1784.8,875.4M1708.9,919.1 1716.9,915.8 1725.0,912.6 1731.5,912.6 1734.7,917.4 1738.0,920.7 1747.7,919.1 1757.4,915.8 1767.1,911.0 1773.5,907.7 1776.8,906.1 1781.6,902.9 1786.5,896.4 1789.7,902.9 1791.3,912.6 1789.7,922.3 1784.8,927.1 1778.4,928.8 1773.5,930.4 1767.1,935.2 1760.6,940.1 1750.9,943.3 1741.2,946.5 1728.3,949.8 1716.9,954.6 1708.9,957.8 1710.5,964.3 1705.6,967.5 1695.9,967.5 1684.6,969.2 1671.7,967.5 1660.4,967.5 1647.4,967.5M1647.4,912.6 1653.9,908.5 1660.4,910.2 1663.6,915.0 1671.7,917.4 1679.8,919.1 1687.8,922.3 1691.1,925.5 1684.6,928.8 1679.8,930.4 1683.0,935.2 1678.1,938.5 1670.1,940.1M1658.7,946.5 1666.8,944.9 1674.9,946.5 1673.3,949.8 1665.2,949.0 1658.7,948.1 1658.7,946.5M1725.0,936.8 1731.5,933.6 1739.6,932.8 1738.0,935.2 1728.3,938.5 1725.0,936.8M1780.0,928.8 1789.7,932.0 1797.8,933.6 1809.1,936.8 1817.2,935.2 1825.3,930.4 1833.3,928.8 1841.4,927.1 1857.6,922.3 1870.5,920.7 1877.0,915.8 1886.7,907.7 1898.0,896.4 1906.1,886.7 1910.9,881.9M1789.7,923.9 1797.8,923.9 1809.1,925.5 1825.3,923.9 1833.3,925.5 1849.5,922.3 1862.4,919.1 1870.5,915.8 1880.2,907.7 1889.9,898.0 1899.6,888.3 1906.1,880.3 1909.3,875.4M1679.8,1021.7 1686.2,1020.1 1694.3,1020.9 1687.8,1022.8 1679.8,1021.7M1469.1,447.1 1477.0,440.2 1484.9,433.3 1488.9,425.4 1492.8,417.5 1496.8,407.6 1500.7,399.7 1506.6,393.8 1514.5,387.9 1520.9,382.3 1522.5,385.5 1516.5,391.4 1508.6,398.1 1502.7,405.6 1498.7,413.9 1503.7,415.5 1510.6,413.9 1518.5,413.5 1526.4,415.1 1534.3,413.9 1539.2,418.5 1536.3,423.4 1532.3,429.4 1528.4,435.3 1525.4,439.2M1526.0,377.6 1528.8,375.6M1531.9,372.4 1537.5,368.9M1480.0,415.5 1482.9,411.6 1486.9,413.5 1485.9,418.5 1481.9,419.5 1480.0,415.5M1716.4,655.1 1707.8,657.8 1699.7,660.3 1701.4,665.9 1703.0,674.0 1701.4,682.1 1704.6,688.5 1707.8,693.4 1709.4,695.0 1717.5,695.0 1720.0,699.9 1715.9,704.7 1711.1,711.2 1709.4,717.6 1708.6,724.1 1709.4,730.6 1707.8,735.4 1701.4,735.4 1694.9,732.2 1693.3,734.6 1698.1,737.0 1703.0,740.3 1704.6,743.5 1701.4,748.4 1698.1,753.2 1699.7,758.1 1703.0,761.3 1699.7,766.1 1694.9,767.8 1688.4,766.1 1685.2,761.3 1677.1,759.7 1683.6,758.1 1691.7,758.1 1694.9,754.8 1696.5,750.0 1694.9,745.1 1690.0,742.7 1682.0,741.9 1673.9,741.9 1665.8,743.5 1659.3,745.1 1652.9,741.9 1646.4,743.5 1641.5,746.7 1636.7,753.2 1631.8,758.1 1628.6,764.5 1625.4,769.4 1622.1,776.3M1707.8,657.8 1720.8,659.4 1732.1,661.1 1740.2,664.3 1746.6,669.1 1748.2,674.0 1745.0,675.6 1740.2,670.8 1733.7,667.5 1727.2,665.9 1720.8,664.3 1715.9,665.9 1720.8,670.8 1727.2,675.6 1732.1,678.0 1725.6,682.1 1717.5,686.9 1711.1,691.8 1709.4,695.0M1698.1,718.5 1700.5,716.8 1703.0,719.3 1700.5,721.2 1698.1,718.5M1958.0,756.5 1948.4,765.9 1933.3,781.1 1925.8,799.9 1924.6,813.5M1518.0,495.1 1506.7,499.9 1493.7,503.2 1480.8,508.0 1477.6,516.1 1475.9,522.6 1472.7,529.0 1464.6,535.5 1459.8,540.4 1453.3,545.2 1446.8,550.1 1440.4,553.3 1437.1,559.8 1433.9,567.8 1438.0,572.7 1439.6,579.2 1432.3,584.0 1427.4,588.9 1425.8,595.3 1429.1,600.2 1425.0,605.0 1427.4,608.3 1433.9,608.3 1440.4,605.0 1446.8,603.4 1442.0,609.9 1435.5,614.7 1427.4,619.6 1422.6,624.4 1416.1,627.7 1409.7,630.9M1430.7,529.0 1435.5,524.2 1442.0,522.6 1444.4,527.4 1443.6,535.5 1438.8,540.4 1433.9,537.1 1430.7,532.3 1430.7,529.0M1548.0,452.0 1560.0,454.5 1569.0,455.4 1578.1,462.7 1585.4,469.0 1596.3,473.5 1609.0,476.3 1610.8,469.0 1614.4,470.8 1618.9,475.4 1632.5,480.8 1636.2,483.5 1635.2,489.0 1641.6,494.4 1648.8,498.0 1652.5,503.5 1651.6,508.9 1659.7,518.0M1470.4,546.1 1474.7,545.0 1480.1,545.6 1484.4,550.4 1488.8,554.7 1489.8,559.0 1487.7,563.4 1483.4,565.5 1479.1,567.1 1476.9,564.4 1474.7,559.0 1472.6,553.7 1470.4,549.3 1470.4,546.1M1494.1,568.7 1498.5,564.4 1501.7,563.4 1503.8,568.7 1504.9,575.2 1503.8,579.5 1499.5,578.4 1496.3,574.1 1494.1,570.9 1494.1,568.7M1438.1,558.0 1442.4,554.7 1447.8,552.6 1451.0,551.5 1454.3,553.7 1455.3,558.0 1454.3,563.4 1458.6,562.3 1461.8,560.1 1465.0,558.0 1469.4,560.1 1472.6,566.6 1470.4,570.9 1467.2,576.3 1466.1,581.7 1468.3,584.9 1470.4,589.2 1468.3,591.4 1464.0,590.3 1459.7,587.1 1455.3,586.0 1451.0,586.0 1446.7,588.1 1443.5,592.5 1440.2,591.4 1438.1,586.0 1439.2,579.5 1437.0,574.1 1433.8,569.8 1431.6,566.6 1433.8,562.3 1438.1,558.0M1481.2,575.2 1485.5,573.1 1489.8,574.1 1492.0,578.4 1490.9,582.8 1487.7,584.9 1483.4,586.0 1482.3,581.7 1481.2,575.2M1480.1,587.1 1485.5,584.9 1489.8,587.1 1492.0,592.5 1489.8,594.6 1485.5,593.5 1482.3,592.5 1480.1,590.3 1480.1,587.1M1478.0,601.1 1481.2,596.8 1486.6,595.7 1489.8,598.9 1489.8,603.2 1486.6,605.4 1481.2,605.4 1478.5,603.8 1478.0,601.1M1452.1,598.9 1457.5,594.6 1464.0,593.5 1468.3,595.7 1470.4,600.0 1468.3,603.2 1464.0,604.3 1459.7,605.4 1455.3,605.4 1452.1,602.2 1452.1,598.9M1459.7,609.7 1464.0,608.6 1467.2,610.8 1468.3,615.1 1466.1,618.3 1461.8,618.3 1459.7,615.1 1459.7,609.7M1473.7,609.7 1476.9,608.6 1479.1,610.8 1478.0,612.9 1474.7,613.5 1473.7,611.9 1473.7,609.7M1472.6,618.3 1476.9,616.2 1482.3,614.0 1485.5,612.9 1487.7,610.8 1489.8,611.9 1487.7,616.2 1485.5,620.5 1484.4,624.8 1483.4,630.2 1481.2,635.6 1479.1,638.8 1475.8,639.9 1473.7,635.6 1472.6,630.2 1473.7,624.8 1472.6,618.3M1494.1,594.6 1498.5,592.5 1500.6,595.7 1498.5,598.9 1495.2,598.9 1494.1,594.6M1496.3,603.2 1500.6,601.1 1504.9,600.0 1509.2,597.8 1510.3,601.1 1507.1,605.4 1502.8,607.5 1498.5,608.6 1496.3,606.5 1496.3,603.2M1494.1,611.9 1498.5,609.7 1501.7,611.9 1500.6,616.2 1496.3,616.2 1494.1,614.0 1494.1,611.9M1499.5,586.0 1503.8,583.8 1507.1,586.0 1506.0,590.3 1502.8,591.4 1500.6,589.2 1499.5,586.0M1451.0,630.2 1457.5,626.9 1465.0,626.9 1469.4,631.3 1468.3,637.7 1465.0,642.0 1461.8,645.3 1457.5,646.3 1453.2,644.2 1451.0,639.9 1451.0,630.2M1452.1,629.1 1458.6,628.0 1465.0,628.6M1459.7,639.9 1464.0,638.8 1468.3,641.0 1469.4,646.3 1466.1,649.6 1461.8,648.5 1459.7,644.2 1459.7,639.9M1461.8,538.6 1456.4,544.0 1449.9,548.3 1443.5,551.5 1439.2,555.8 1435.9,561.2 1433.8,566.6 1432.7,570.9M1429.5,598.9 1433.8,601.1 1440.2,600.0 1444.6,603.2 1440.2,606.5 1433.8,608.6 1429.5,609.7M1429.5,621.6 1435.9,617.2 1441.3,614.0 1446.7,612.9 1451.0,611.9M1429.5,632.3 1435.9,631.3 1441.3,630.2 1445.6,626.9 1451.0,621.6M1181.8,558.4 1177.8,573.2 1175.5,599.5 1173.6,617.4 1170.0,644.4 1168.2,667.4" fill="none" stroke="#000" stroke-width="2" stroke-linejoin="round" stroke-linecap="round"/>
<text x="447.1" y="188.9" font-size="36" text-anchor="start" fill="#000">180</text>
<circle cx="512.6" cy="155.5" r="3.4" fill="none" stroke="#000" stroke-width="1.2"/>
<text x="466.5" y="1091.6" font-size="36" text-anchor="start" fill="#000">0</text>
<circle cx="493.4" cy="1058.5" r="3.4" fill="none" stroke="#000" stroke-width="1.2"/>
<text x="27.9" y="409.7" font-size="36" text-anchor="start" fill="#000">-120</text>
<circle cx="107.4" cy="376.5" r="3.4" fill="none" stroke="#000" stroke-width="1.2"/>
<text x="849.9" y="409.7" font-size="36" text-anchor="start" fill="#000">120</text>
<circle cx="915.9" cy="376.5" r="3.4" fill="none" stroke="#000" stroke-width="1.2"/>
<text x="27.9" y="862.7" font-size="36" text-anchor="start" fill="#000">-60</text>
<circle cx="86.5" cy="828.9" r="3.4" fill="none" stroke="#000" stroke-width="1.2"/>
<text x="848.5" y="862.7" font-size="36" text-anchor="start" fill="#000">60</text>
<circle cx="895.3" cy="828.9" r="3.4" fill="none" stroke="#000" stroke-width="1.2"/>
<text x="444.5" y="239" font-size="36" text-anchor="end" fill="#222">20</text>
<circle cx="451.5" cy="206" r="3.4" fill="none" stroke="#000" stroke-width="1.2"/>
<text x="444.5" y="314.4" font-size="36" text-anchor="end" fill="#222">40</text>
<circle cx="451.5" cy="280.8" r="3.4" fill="none" stroke="#000" stroke-width="1.2"/>
<text x="444.5" y="429" font-size="36" text-anchor="end" fill="#222">60</text>
<circle cx="451.5" cy="395.5" r="3.4" fill="none" stroke="#000" stroke-width="1.2"/>
<text x="444.5" y="568.3" font-size="36" text-anchor="end" fill="#222">80</text>
<circle cx="451.5" cy="534.5" r="3.4" fill="none" stroke="#000" stroke-width="1.2"/>
<text x="1555.2" y="191.6" font-size="36" text-anchor="start" fill="#000">180</text>
<circle cx="1620.5" cy="158.7" r="3.4" fill="none" stroke="#000" stroke-width="1.2"/>
<text x="1574.5" y="1085" font-size="36" text-anchor="start" fill="#000">0</text>
<circle cx="1600.7" cy="1052" r="3.4" fill="none" stroke="#000" stroke-width="1.2"/>
<text x="1140.8" y="409.7" font-size="36" text-anchor="start" fill="#000">-120</text>
<circle cx="1219.2" cy="376.5" r="3.4" fill="none" stroke="#000" stroke-width="1.2"/>
<text x="1953.9" y="409.7" font-size="36" text-anchor="start" fill="#000">120</text>
<circle cx="2019" cy="376.5" r="3.4" fill="none" stroke="#000" stroke-width="1.2"/>
<text x="1140.8" y="857.7" font-size="36" text-anchor="start" fill="#000">-60</text>
<circle cx="1198.9" cy="824.4" r="3.4" fill="none" stroke="#000" stroke-width="1.2"/>
<text x="1952.5" y="857.7" font-size="36" text-anchor="start" fill="#000">60</text>
<circle cx="1998.4" cy="824.4" r="3.4" fill="none" stroke="#000" stroke-width="1.2"/>
<text x="1551.5" y="241" font-size="36" text-anchor="end" fill="#222">20</text>
<circle cx="1559.4" cy="208" r="3.4" fill="none" stroke="#000" stroke-width="1.2"/>
<text x="1551.5" y="314" font-size="36" text-anchor="end" fill="#222">40</text>
<circle cx="1559.4" cy="281" r="3.4" fill="none" stroke="#000" stroke-width="1.2"/>
<text x="1551.5" y="427" font-size="36" text-anchor="end" fill="#222">60</text>
<circle cx="1559.4" cy="393.5" r="3.4" fill="none" stroke="#000" stroke-width="1.2"/>
<text x="1551.5" y="566" font-size="36" text-anchor="end" fill="#222">80</text>
<circle cx="1559.4" cy="532" r="3.4" fill="none" stroke="#000" stroke-width="1.2"/>
<rect x="935.5" y="1042.8" width="48.4" height="9.1" fill="#000094"/>
<rect x="935.5" y="1034.2" width="48.4" height="9.1" fill="#0000a5"/>
<rect x="935.5" y="1025.7" width="48.4" height="9.1" fill="#0000b6"/>
<rect x="935.5" y="1017.1" width="48.4" height="9.1" fill="#0000c8"/>
<rect x="935.5" y="1008.6" width="48.4" height="9.1" fill="#0000d9"/>
<rect x="935.5" y="1000" width="48.4" height="9.1" fill="#0000ea"/>
<rect x="935.5" y="991.5" width="48.4" height="9.1" fill="#0000fb"/>
<rect x="935.5" y="982.9" width="48.4" height="9.1" fill="#0000ff"/>
<rect x="935.5" y="974.4" width="48.4" height="9.1" fill="#0000ff"/>
<rect x="935.5" y="965.8" width="48.4" height="9.1" fill="#0000ff"/>
<rect x="935.5" y="957.3" width="48.4" height="9.1" fill="#0006ff"/>
<rect x="935.5" y="948.8" width="48.4" height="9.1" fill="#0013ff"/>
<rect x="935.5" y="940.2" width="48.4" height="9.1" fill="#001fff"/>
<rect x="935.5" y="931.7" width="48.4" height="9.1" fill="#002cff"/>
<rect x="935.5" y="923.1" width="48.4" height="9.1" fill="#0039ff"/>
<rect x="935.5" y="914.6" width="48.4" height="9.1" fill="#0046ff"/>
<rect x="935.5" y="906" width="48.4" height="9.1" fill="#0052ff"/>
<rect x="935.5" y="897.5" width="48.4" height="9.1" fill="#005fff"/>
<rect x="935.5" y="888.9" width="48.4" height="9.1" fill="#006cff"/>
<rect x="935.5" y="880.4" width="48.4" height="9.1" fill="#0079ff"/>
<rect x="935.5" y="871.9" width="48.4" height="9.1" fill="#0085ff"/>
<rect x="935.5" y="863.3" width="48.4" height="9.1" fill="#0092ff"/>
<rect x="935.5" y="854.8" width="48.4" height="9.1" fill="#009fff"/>
<rect x="935.5" y="846.2" width="48.4" height="9.1" fill="#00acff"/>
<rect x="935.5" y="837.7" width="48.4" height="9.1" fill="#00b8ff"/>
<rect x="935.5" y="829.1" width="48.4" height="9.1" fill="#00c5ff"/>
<rect x="935.5" y="820.6" width="48.4" height="9.1" fill="#00d2ff"/>
<rect x="935.5" y="812" width="48.4" height="9.1" fill="#00dfff"/>
<rect x="935.5" y="803.5" width="48.4" height="9.1" fill="#00ebff"/>
<rect x="935.5" y="795" width="48.4" height="9.1" fill="#00f8ff"/>
<rect x="935.5" y="453.1" width="48.4" height="9.1" fill="#fff400"/>
<rect x="935.5" y="444.6" width="48.4" height="9.1" fill="#ffe800"/>
<rect x="935.5" y="436.1" width="48.4" height="9.1" fill="#ffdc00"/>
<rect x="935.5" y="427.5" width="48.4" height="9.1" fill="#ffd000"/>
<rect x="935.5" y="419" width="48.4" height="9.1" fill="#ffc400"/>
<rect x="935.5" y="410.4" width="48.4" height="9.1" fill="#ffb800"/>
<rect x="935.5" y="401.9" width="48.4" height="9.1" fill="#ffac00"/>
<rect x="935.5" y="393.3" width="48.4" height="9.1" fill="#ffa000"/>
<rect x="935.5" y="384.8" width="48.4" height="9.1" fill="#ff9400"/>
<rect x="935.5" y="376.2" width="48.4" height="9.1" fill="#ff8800"/>
<rect x="935.5" y="367.7" width="48.4" height="9.1" fill="#ff7c00"/>
<rect x="935.5" y="359.2" width="48.4" height="9.1" fill="#ff7100"/>
<rect x="935.5" y="350.6" width="48.4" height="9.1" fill="#ff6500"/>
<rect x="935.5" y="342.1" width="48.4" height="9.1" fill="#ff5900"/>
<rect x="935.5" y="333.5" width="48.4" height="9.1" fill="#ff4d00"/>
<rect x="935.5" y="325" width="48.4" height="9.1" fill="#ff4100"/>
<rect x="935.5" y="316.4" width="48.4" height="9.1" fill="#ff3500"/>
<rect x="935.5" y="307.9" width="48.4" height="9.1" fill="#ff2900"/>
<rect x="935.5" y="299.3" width="48.4" height="9.1" fill="#ff1d00"/>
<rect x="935.5" y="290.8" width="48.4" height="9.1" fill="#ff1100"/>
<rect x="935.5" y="282.2" width="48.4" height="9.1" fill="#ff0500"/>
<rect x="935.5" y="273.7" width="48.4" height="9.1" fill="#ff0000"/>
<rect x="935.5" y="265.2" width="48.4" height="9.1" fill="#ff0000"/>
<rect x="935.5" y="256.6" width="48.4" height="9.1" fill="#ff0000"/>
<rect x="935.5" y="248.1" width="48.4" height="9.1" fill="#ff0000"/>
<rect x="935.5" y="239.5" width="48.4" height="9.1" fill="#ff0000"/>
<rect x="935.5" y="231" width="48.4" height="9.1" fill="#f50000"/>
<rect x="935.5" y="222.4" width="48.4" height="9.1" fill="#ec0000"/>
<rect x="935.5" y="213.9" width="48.4" height="9.1" fill="#e30000"/>
<rect x="935.5" y="205.3" width="48.4" height="9.1" fill="#da0000"/>
<rect x="935.5" y="196.8" width="48.4" height="9.1" fill="#d10000"/>
<line x1="935.5" y1="196.8" x2="935.5" y2="1051.3" stroke="#222" stroke-width="1.3"/>
<line x1="975.4" y1="880.4" x2="983.9" y2="880.4" stroke="#222" stroke-width="1.2"/>
<line x1="975.4" y1="709.5" x2="983.9" y2="709.5" stroke="#222" stroke-width="1.2"/>
<line x1="975.4" y1="538.6" x2="983.9" y2="538.6" stroke="#222" stroke-width="1.2"/>
<line x1="975.4" y1="367.7" x2="983.9" y2="367.7" stroke="#222" stroke-width="1.2"/>
<rect x="2038.2" y="1036.2" width="48.4" height="9.1" fill="#000094"/>
<rect x="2038.2" y="1027.8" width="48.4" height="9.1" fill="#0000a5"/>
<rect x="2038.2" y="1019.3" width="48.4" height="9.1" fill="#0000b6"/>
<rect x="2038.2" y="1010.9" width="48.4" height="9.1" fill="#0000c8"/>
<rect x="2038.2" y="1002.4" width="48.4" height="9.1" fill="#0000d9"/>
<rect x="2038.2" y="994" width="48.4" height="9.1" fill="#0000ea"/>
<rect x="2038.2" y="985.5" width="48.4" height="9.1" fill="#0000fb"/>
<rect x="2038.2" y="977.1" width="48.4" height="9.1" fill="#0000ff"/>
<rect x="2038.2" y="968.6" width="48.4" height="9.1" fill="#0000ff"/>
<rect x="2038.2" y="960.2" width="48.4" height="9.1" fill="#0000ff"/>
<rect x="2038.2" y="951.7" width="48.4" height="9.1" fill="#0006ff"/>
<rect x="2038.2" y="943.3" width="48.4" height="9.1" fill="#0013ff"/>
<rect x="2038.2" y="934.8" width="48.4" height="9.1" fill="#001fff"/>
<rect x="2038.2" y="926.3" width="48.4" height="9.1" fill="#002cff"/>
<rect x="2038.2" y="917.9" width="48.4" height="9.1" fill="#0039ff"/>
<rect x="2038.2" y="909.4" width="48.4" height="9.1" fill="#0046ff"/>
<rect x="2038.2" y="901" width="48.4" height="9.1" fill="#0052ff"/>
<rect x="2038.2" y="892.5" width="48.4" height="9.1" fill="#005fff"/>
<rect x="2038.2" y="884.1" width="48.4" height="9.1" fill="#006cff"/>
<rect x="2038.2" y="875.6" width="48.4" height="9.1" fill="#0079ff"/>
<rect x="2038.2" y="867.2" width="48.4" height="9.1" fill="#0085ff"/>
<rect x="2038.2" y="858.7" width="48.4" height="9.1" fill="#0092ff"/>
<rect x="2038.2" y="850.3" width="48.4" height="9.1" fill="#009fff"/>
<rect x="2038.2" y="841.8" width="48.4" height="9.1" fill="#00acff"/>
<rect x="2038.2" y="833.4" width="48.4" height="9.1" fill="#00b8ff"/>
<rect x="2038.2" y="824.9" width="48.4" height="9.1" fill="#00c5ff"/>
<rect x="2038.2" y="816.4" width="48.4" height="9.1" fill="#00d2ff"/>
<rect x="2038.2" y="808" width="48.4" height="9.1" fill="#00dfff"/>
<rect x="2038.2" y="799.5" width="48.4" height="9.1" fill="#00ebff"/>
<rect x="2038.2" y="791.1" width="48.4" height="9.1" fill="#00f8ff"/>
<rect x="2038.2" y="452.9" width="48.4" height="9.1" fill="#fff400"/>
<rect x="2038.2" y="444.5" width="48.4" height="9.1" fill="#ffe800"/>
<rect x="2038.2" y="436" width="48.4" height="9.1" fill="#ffdc00"/>
<rect x="2038.2" y="427.6" width="48.4" height="9.1" fill="#ffd000"/>
<rect x="2038.2" y="419.1" width="48.4" height="9.1" fill="#ffc400"/>
<rect x="2038.2" y="410.6" width="48.4" height="9.1" fill="#ffb800"/>
<rect x="2038.2" y="402.2" width="48.4" height="9.1" fill="#ffac00"/>
<rect x="2038.2" y="393.7" width="48.4" height="9.1" fill="#ffa000"/>
<rect x="2038.2" y="385.3" width="48.4" height="9.1" fill="#ff9400"/>
<rect x="2038.2" y="376.8" width="48.4" height="9.1" fill="#ff8800"/>
<rect x="2038.2" y="368.4" width="48.4" height="9.1" fill="#ff7c00"/>
<rect x="2038.2" y="359.9" width="48.4" height="9.1" fill="#ff7100"/>
<rect x="2038.2" y="351.5" width="48.4" height="9.1" fill="#ff6500"/>
<rect x="2038.2" y="343" width="48.4" height="9.1" fill="#ff5900"/>
<rect x="2038.2" y="334.6" width="48.4" height="9.1" fill="#ff4d00"/>
<rect x="2038.2" y="326.1" width="48.4" height="9.1" fill="#ff4100"/>
<rect x="2038.2" y="317.7" width="48.4" height="9.1" fill="#ff3500"/>
<rect x="2038.2" y="309.2" width="48.4" height="9.1" fill="#ff2900"/>
<rect x="2038.2" y="300.7" width="48.4" height="9.1" fill="#ff1d00"/>
<rect x="2038.2" y="292.3" width="48.4" height="9.1" fill="#ff1100"/>
<rect x="2038.2" y="283.8" width="48.4" height="9.1" fill="#ff0500"/>
<rect x="2038.2" y="275.4" width="48.4" height="9.1" fill="#ff0000"/>
<rect x="2038.2" y="266.9" width="48.4" height="9.1" fill="#ff0000"/>
<rect x="2038.2" y="258.5" width="48.4" height="9.1" fill="#ff0000"/>
<rect x="2038.2" y="250" width="48.4" height="9.1" fill="#ff0000"/>
<rect x="2038.2" y="241.6" width="48.4" height="9.1" fill="#ff0000"/>
<rect x="2038.2" y="233.1" width="48.4" height="9.1" fill="#f50000"/>
<rect x="2038.2" y="224.7" width="48.4" height="9.1" fill="#ec0000"/>
<rect x="2038.2" y="216.2" width="48.4" height="9.1" fill="#e30000"/>
<rect x="2038.2" y="207.8" width="48.4" height="9.1" fill="#da0000"/>
<rect x="2038.2" y="199.3" width="48.4" height="9.1" fill="#d10000"/>
<rect x="2038.2" y="199.3" width="48.4" height="845.4" fill="none" stroke="#222" stroke-width="1.2"/>
<line x1="2078.1" y1="875.6" x2="2086.6" y2="875.6" stroke="#222" stroke-width="1.2"/>
<line x1="2078.1" y1="706.5" x2="2086.6" y2="706.5" stroke="#222" stroke-width="1.2"/>
<line x1="2078.1" y1="537.5" x2="2086.6" y2="537.5" stroke="#222" stroke-width="1.2"/>
<line x1="2078.1" y1="368.4" x2="2086.6" y2="368.4" stroke="#222" stroke-width="1.2"/>
<text x="996" y="211" font-size="38" text-anchor="start" fill="#222">1</text>
<text x="996" y="382.4" font-size="38" text-anchor="start" fill="#222">0.8</text>
<text x="996" y="552.2" font-size="38" text-anchor="start" fill="#222">0.6</text>
<text x="996" y="724" font-size="38" text-anchor="start" fill="#222">0.4</text>
<text x="996" y="895.5" font-size="38" text-anchor="start" fill="#222">0.2</text>
<text x="996" y="1067" font-size="38" text-anchor="start" fill="#222">0</text>
<text x="2097.5" y="212.6" font-size="38" text-anchor="start" fill="#222">1</text>
<text x="2097.5" y="382.6" font-size="38" text-anchor="start" fill="#222">0.8</text>
<text x="2097.5" y="551.1" font-size="38" text-anchor="start" fill="#222">0.6</text>
<text x="2097.5" y="721.6" font-size="38" text-anchor="start" fill="#222">0.4</text>
<text x="2097.5" y="891" font-size="38" text-anchor="start" fill="#222">0.2</text>
<text x="2097.5" y="1059.6" font-size="38" text-anchor="start" fill="#222">0</text>
</svg></body></html>
